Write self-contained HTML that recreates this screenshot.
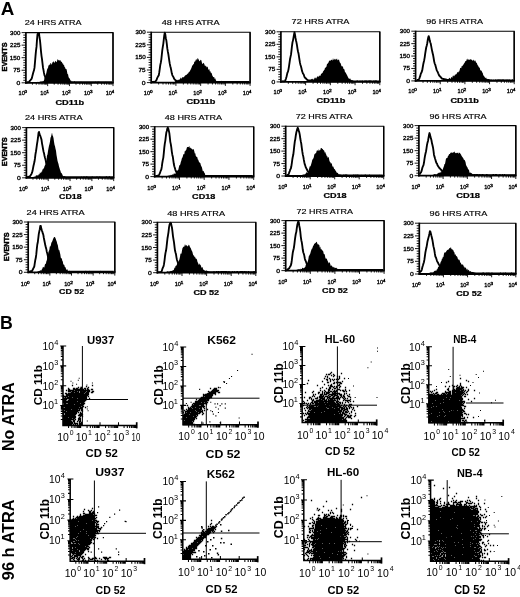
<!DOCTYPE html>
<html><head><meta charset="utf-8"><style>
html,body{margin:0;padding:0;background:#fff;width:520px;height:597px;overflow:hidden}
svg{display:block}
text{font-family:"Liberation Sans",sans-serif;fill:#000}
</style></head><body>
<svg width="520" height="597" viewBox="0 0 520 597" shape-rendering="geometricPrecision" style="filter:blur(0.3px)">
<text x="0.73" y="14.9" font-size="17.44" font-weight="bold" textLength="13.56" lengthAdjust="spacingAndGlyphs">A</text>
<text x="0.12" y="328.7" font-size="18.17" font-weight="bold" textLength="12.79" lengthAdjust="spacingAndGlyphs">B</text>
<path d="M26.5 82.8L26.5 82.54L27 82.51L27.5 82.43L28 82.49L28.5 82.47L29 82.43L29.5 82.49L30 82.4L30.5 82.35L31 82.28L31.5 82.45L32 82.38L32.5 82.43L33 82.21L33.5 82.21L34 82.4L34.5 82.03L35 81.98L35.5 82.04L36 82L36.5 82.16L37 82.19L37.5 81.86L38 82.07L38.5 81.94L39 81.85L39.5 81.95L40 81.59L40.5 81.55L41 81.18L41.5 81.39L42 81.24L42.5 81.33L43 81.15L43.5 80.92L44 80.43L44.5 78.37L45 77.07L45.5 75.95L46 74.23L46.5 72.13L47 69.67L47.5 68.44L48 68.01L48.5 65.27L49 65.46L49.5 64.15L50 64.89L50.5 63.12L51 63.05L51.5 64.87L52 64.06L52.5 61.96L53 62.6L53.5 61.09L54 62.36L54.5 62.95L55 61.39L55.5 60.81L56 61.86L56.5 62.16L57 61.29L57.5 59.37L58 59.41L58.5 60.53L59 59.91L59.5 60.36L60 60.98L60.5 59.86L61 61.98L61.5 61.51L62 62.27L62.5 63.75L63 63.29L63.5 65.25L64 64.76L64.5 67.05L65 67.36L65.5 68.67L66 69.28L66.5 69.11L67 71.4L67.5 74.3L68 73.95L68.5 76.76L69 77.95L69.5 78.21L70 79.27L70.5 80.8L71 80.34L71.5 81.74L72 81.96L72.5 81.76L73 82.11L73.5 82.24L74 82.4L74.5 82.42L75 82.28L75.5 82.38L76 82.27L76.5 82.34L77 82.32L77.5 82.18L78 82.32L78.5 82.29L79 82.21L79.5 82.41L80 82.42L80.5 82.21L81 82.24L81.5 82.4L82 82.42L82.5 82.27L83 82.22L83.5 82.43L84 82.23L84.5 82.25L85 82.33L85.5 82.38L86 82.47L86.5 82.49L87 82.25L87.5 82.44L88 82.33L88.5 82.44L89 82.31L89.5 82.37L90 82.44L90.5 82.48L91 82.35L91.5 82.51L92 82.47L92.5 82.4L93 82.34L93.5 82.4L94 82.48L94.5 82.34L95 82.5L95.5 82.54L96 82.49L96.5 82.46L97 82.54L97.5 82.52L98 82.49L98.5 82.45L99 82.54L99.5 82.5L100 82.4L100.5 82.39L101 82.45L101.5 82.45L102 82.47L102.5 82.56L103 82.58L103.5 82.59L104 82.43L104.5 82.47L105 82.43L105.5 82.6L106 82.49L106.5 82.52L107 82.48L107.5 82.55L108 82.45L108.5 82.6L109 82.53L109.5 82.5L110 82.47L110.5 82.5L111 82.51L111.5 82.5L112 82.48L112 82.8Z" fill="#000"/>
<path d="M26.5 82.2L27 82.2L27.5 82.2L28 82.2L28.5 82.13L29 81.93L29.5 81.41L30 80.61L30.5 80.04L31 79.43L31.5 79.04L32 77.64L32.5 75.38L33 73.56L33.5 71.82L34 70.31L34.5 67.69L35 62.19L35.5 56.11L36 50.64L36.5 46.9L37 39.94L37.5 34.28L38 33.53L38.5 33.1L39 33.1L39.5 37.51L40 40.43L40.5 45.54L41 51.39L41.5 55.85L42 59.02L42.5 63.33L43 67.66L43.5 70.18L44 73.03L44.5 75.23L45 76.25L45.5 78.1L46 79.17L46.5 79.43L47 80.09L47.5 80.23L48 80.9L48.5 80.99L49 81.28L49.5 81.57L50 81.72L50.5 81.8L51 81.61L51.5 81.85L52 81.81L52.5 81.81L53 82.13L53.5 82.2L54 82.2L54.5 82.2L55 82.2L55.5 82.16L56 82.1L56.5 82.2L57 82.16L57.5 82.13L58 82.2L58.5 82.2L59 82.2L59.5 82.19L60 82.2L60.5 82.2L61 82.2L61.5 82.04L62 82.02L62.5 82.2L63 82.02L63.5 82.2L64 82.2L64.5 82.18L65 82.2L65.5 82.01L66 82.08L66.5 82.2L67 82.01L67.5 82.2L68 82.14L68.5 82.08L69 82.03L69.5 82.2L70 82.2L70.5 82.2L71 82.2L71.5 82.2L72 82.2L72.5 82.2L73 82.12L73.5 82.2L74 82.11L74.5 82L75 82.2L75.5 82.2L76 82.11L76.5 82.16L77 82.2L77.5 82.2L78 82.2L78.5 82.2L79 82.2L79.5 82.2L80 82.2L80.5 82.2L81 82.05L81.5 82.2L82 82.2L82.5 82.08L83 82.2L83.5 82.2L84 82.2L84.5 82.2L85 82.2L85.5 82.2L86 82.2L86.5 82.2L87 82.2L87.5 82.2L88 82.12L88.5 82.2L89 82.2L89.5 82.2L90 82.2L90.5 82.13L91 82.2L91.5 82.2L92 82.2L92.5 82.2L93 82.2L93.5 82.19L94 82.2L94.5 82.2L95 82.2L95.5 82.05L96 82.2L96.5 82.2L97 82.2L97.5 82.2L98 82.02L98.5 82.2L99 82.04L99.5 82.2L100 82.1L100.5 82.2L101 82.2L101.5 82.08L102 82.09L102.5 82.2L103 82.2L103.5 82.2L104 82.2L104.5 82.2L105 82.2L105.5 82.2L106 82.05L106.5 82.13L107 82.2L107.5 82.17L108 82.2L108.5 82.2L109 82.2L109.5 82.2L110 82.2L110.5 82.19L111 82.2L111.5 82.2L112 82.2" fill="none" stroke="#000" stroke-width="1.85" stroke-linejoin="round"/>
<path d="M25.9 32.6H113 V82.8" fill="none" stroke="#000" stroke-width="1.1"/>
<path d="M25.9 32.1L25.9 83.7" stroke="#000" stroke-width="1.7"/>
<path d="M25.1 82.8L113.7 82.8" stroke="#000" stroke-width="1.8"/>
<path d="M113 32.6L113 82.8" stroke="#000" stroke-width="1.4"/>
<path d="M21.6 82.8H25.9M23.3 80.29H25.9M23.3 77.78H25.9M23.3 75.27H25.9M23.3 72.76H25.9M21.6 70.25H25.9M23.3 67.74H25.9M23.3 65.23H25.9M23.3 62.72H25.9M23.3 60.21H25.9M21.6 57.7H25.9M23.3 55.19H25.9M23.3 52.68H25.9M23.3 50.17H25.9M23.3 47.66H25.9M21.6 45.15H25.9M23.3 42.64H25.9M23.3 40.13H25.9M23.3 37.62H25.9M23.3 35.11H25.9M21.6 32.6H25.9M32.45 82.8V84.7M36.29 82.8V84.7M39.01 82.8V84.7M41.12 82.8V84.7M42.84 82.8V84.7M44.3 82.8V84.7M45.56 82.8V84.7M46.68 82.8V84.7M47.67 82.8V86.1M54.23 82.8V84.7M58.06 82.8V84.7M60.78 82.8V84.7M62.9 82.8V84.7M64.62 82.8V84.7M66.08 82.8V84.7M67.34 82.8V84.7M68.45 82.8V84.7M69.45 82.8V86.1M76 82.8V84.7M79.84 82.8V84.7M82.56 82.8V84.7M84.67 82.8V84.7M86.39 82.8V84.7M87.85 82.8V84.7M89.11 82.8V84.7M90.23 82.8V84.7M91.22 82.8V86.1M97.78 82.8V84.7M101.61 82.8V84.7M104.33 82.8V84.7M106.45 82.8V84.7M108.17 82.8V84.7M109.63 82.8V84.7M110.89 82.8V84.7M112 82.8V84.7M113 82.8V86.1" stroke="#000" stroke-width="0.9"/>
<text x="16.58" y="84.8" font-size="5.73" font-weight="normal" textLength="3.78" lengthAdjust="spacingAndGlyphs" stroke="#000" stroke-width="0.32">0</text>
<text x="13.27" y="72.25" font-size="5.81" font-weight="normal" textLength="7.09" lengthAdjust="spacingAndGlyphs" stroke="#000" stroke-width="0.32">75</text>
<text x="9.87" y="59.7" font-size="5.73" font-weight="normal" textLength="10.47" lengthAdjust="spacingAndGlyphs" stroke="#000" stroke-width="0.32">150</text>
<text x="10.04" y="47.15" font-size="5.73" font-weight="normal" textLength="10.32" lengthAdjust="spacingAndGlyphs" stroke="#000" stroke-width="0.32">225</text>
<text x="10.12" y="34.6" font-size="5.73" font-weight="normal" textLength="10.22" lengthAdjust="spacingAndGlyphs" stroke="#000" stroke-width="0.32">300</text>
<text x="18.57" y="95.2" font-size="5.73" font-weight="normal" textLength="6.25" lengthAdjust="spacingAndGlyphs" stroke="#000" stroke-width="0.32">10</text>
<text x="24.62" y="93" font-size="3.72" font-weight="normal" textLength="2.56" lengthAdjust="spacingAndGlyphs" stroke="#000" stroke-width="0.32">0</text>
<text x="40.35" y="95.2" font-size="5.73" font-weight="normal" textLength="6.25" lengthAdjust="spacingAndGlyphs" stroke="#000" stroke-width="0.32">10</text>
<text x="46.19" y="93" font-size="3.78" font-weight="normal" textLength="2.84" lengthAdjust="spacingAndGlyphs" stroke="#000" stroke-width="0.32">1</text>
<text x="62.12" y="95.2" font-size="5.73" font-weight="normal" textLength="6.25" lengthAdjust="spacingAndGlyphs" stroke="#000" stroke-width="0.32">10</text>
<text x="68.11" y="93" font-size="3.72" font-weight="normal" textLength="2.69" lengthAdjust="spacingAndGlyphs" stroke="#000" stroke-width="0.32">2</text>
<text x="83.9" y="95.2" font-size="5.73" font-weight="normal" textLength="6.25" lengthAdjust="spacingAndGlyphs" stroke="#000" stroke-width="0.32">10</text>
<text x="89.95" y="93" font-size="3.72" font-weight="normal" textLength="2.58" lengthAdjust="spacingAndGlyphs" stroke="#000" stroke-width="0.32">3</text>
<text x="105.67" y="95.2" font-size="5.73" font-weight="normal" textLength="6.25" lengthAdjust="spacingAndGlyphs" stroke="#000" stroke-width="0.32">10</text>
<text x="111.8" y="93" font-size="3.78" font-weight="normal" textLength="2.43" lengthAdjust="spacingAndGlyphs" stroke="#000" stroke-width="0.32">4</text>
<text x="24.66" y="25.3" font-size="6.73" font-weight="normal" textLength="56.96" lengthAdjust="spacingAndGlyphs" stroke="#000" stroke-width="0.15">24 HRS ATRA</text>
<text x="55.43" y="104.5" font-size="7.31" font-weight="bold" textLength="28.74" lengthAdjust="spacingAndGlyphs" stroke="#000" stroke-width="0.22">CD11b</text>
<text transform="translate(6.8 71.38) rotate(-90)" font-size="7.73" font-weight="bold" textLength="28.97" lengthAdjust="spacingAndGlyphs" stroke="#000" stroke-width="0.45">EVENTS</text>
<path d="M151.8 82.6L151.8 82.35L152.3 82.31L152.8 82.3L153.3 82.38L153.8 82.39L154.3 82.32L154.8 82.33L155.3 82.21L155.8 82.22L156.3 82.23L156.8 82.22L157.3 82.19L157.8 82.29L158.3 82.21L158.8 82.27L159.3 82.07L159.8 82.28L160.3 82.06L160.8 82.26L161.3 82.08L161.8 82.17L162.3 82.14L162.8 82L163.3 82.24L163.8 82.23L164.3 81.97L164.8 82.09L165.3 82.22L165.8 81.95L166.3 81.96L166.8 82.21L167.3 82.12L167.8 82.21L168.3 82.15L168.8 82.06L169.3 82.2L169.8 82.04L170.3 82.23L170.8 82.2L171.3 82L171.8 82.13L172.3 82.12L172.8 82.07L173.3 82.1L173.8 82.13L174.3 82.16L174.8 81.65L175.3 81.18L175.8 80.76L176.3 80.67L176.8 80.72L177.3 80.48L177.8 79.82L178.3 79.6L178.8 80.23L179.3 79.64L179.8 79.04L180.3 78.5L180.8 77.59L181.3 78.07L181.8 78.91L182.3 76.71L182.8 77.4L183.3 77.02L183.8 77.46L184.3 76.53L184.8 76.09L185.3 74.64L185.8 75.8L186.3 74.42L186.8 74.96L187.3 73.18L187.8 74.13L188.3 72.92L188.8 72.22L189.3 71.16L189.8 71.96L190.3 70.09L190.8 69.62L191.3 68.36L191.8 66.92L192.3 65.06L192.8 65.65L193.3 63.64L193.8 64.41L194.3 61.4L194.8 61.69L195.3 61.34L195.8 59.64L196.3 58.83L196.8 60.49L197.3 59.37L197.8 57.82L198.3 59.02L198.8 59.76L199.3 60.89L199.8 61.3L200.3 60.22L200.8 59.76L201.3 60.3L201.8 62.14L202.3 63.9L202.8 63.67L203.3 62.85L203.8 63.13L204.3 64.12L204.8 65.69L205.3 65.56L205.8 66.17L206.3 66.15L206.8 67.43L207.3 66.44L207.8 67.28L208.3 69.61L208.8 69.73L209.3 69.11L209.8 71.54L210.3 70.95L210.8 72.75L211.3 72.8L211.8 73.47L212.3 75.55L212.8 76.36L213.3 77.31L213.8 76.94L214.3 77.32L214.8 79.24L215.3 78.27L215.8 80.01L216.3 80.94L216.8 81.3L217.3 81.31L217.8 81.63L218.3 81.7L218.8 81.68L219.3 81.8L219.8 81.97L220.3 82.12L220.8 82.07L221.3 81.98L221.8 82.02L222.3 82.08L222.8 82.15L223.3 82.15L223.8 82.05L224.3 82.1L224.8 82.26L225.3 82.07L225.8 82.02L226.3 82.05L226.8 82.03L227.3 82.03L227.8 82.14L228.3 82.07L228.8 82.19L229.3 82.27L229.8 82.2L230.3 82.22L230.8 82.07L231.3 82.13L231.8 82.18L232.3 82.16L232.8 82.29L233.3 82.19L233.8 82.16L234.3 82.24L234.8 82.28L235.3 82.24L235.8 82.27L236.3 82.19L236.8 82.32L237.3 82.33L237.8 82.29L238.3 82.22L238.8 82.21L239.3 82.23L239.8 82.19L240.3 82.3L240.8 82.37L241.3 82.29L241.8 82.3L242.3 82.35L242.8 82.27L243.3 82.33L243.8 82.35L244.3 82.34L244.8 82.24L245.3 82.4L245.8 82.35L246.3 82.36L246.8 82.38L247.3 82.34L247.8 82.38L248.3 82.27L248.8 82.34L249.3 82.31L249.3 82.6Z" fill="#000"/>
<path d="M151.8 82L152.3 82L152.8 82L153.3 82L153.8 81.79L154.3 81.78L154.8 81.9L155.3 81.8L155.8 80.94L156.3 80.23L156.8 79.23L157.3 77.81L157.8 76.87L158.3 76.01L158.8 75.18L159.3 72.16L159.8 68.57L160.3 64.86L160.8 62.71L161.3 59.54L161.8 54.95L162.3 50.05L162.8 46.78L163.3 43.82L163.8 39.44L164.3 35.16L164.8 32.7L165.3 34.32L165.8 38.17L166.3 40.2L166.8 43.97L167.3 48.43L167.8 51.39L168.3 53.97L168.8 57.37L169.3 60.78L169.8 63.9L170.3 66.19L170.8 68.1L171.3 70.54L171.8 73.31L172.3 75.08L172.8 76.03L173.3 76.78L173.8 78.02L174.3 79L174.8 79.56L175.3 79.91L175.8 80.64L176.3 80.77L176.8 81.22L177.3 81.45L177.8 81.91L178.3 81.67L178.8 81.43L179.3 81.95L179.8 82L180.3 82L180.8 81.82L181.3 82L181.8 81.88L182.3 81.82L182.8 82L183.3 82L183.8 81.92L184.3 82L184.8 81.81L185.3 81.98L185.8 81.8L186.3 81.9L186.8 81.89L187.3 82L187.8 81.97L188.3 81.91L188.8 81.91L189.3 81.98L189.8 82L190.3 82L190.8 81.86L191.3 82L191.8 82L192.3 82L192.8 82L193.3 82L193.8 82L194.3 82L194.8 82L195.3 82L195.8 82L196.3 82L196.8 82L197.3 82L197.8 82L198.3 81.96L198.8 82L199.3 82L199.8 82L200.3 82L200.8 82L201.3 82L201.8 82L202.3 82L202.8 82L203.3 82L203.8 82L204.3 81.87L204.8 81.83L205.3 81.86L205.8 81.85L206.3 81.83L206.8 81.8L207.3 81.95L207.8 81.86L208.3 82L208.8 82L209.3 82L209.8 82L210.3 82L210.8 82L211.3 81.81L211.8 81.93L212.3 82L212.8 82L213.3 81.92L213.8 82L214.3 82L214.8 82L215.3 81.99L215.8 81.94L216.3 81.85L216.8 82L217.3 82L217.8 82L218.3 82L218.8 82L219.3 82L219.8 81.97L220.3 82L220.8 82L221.3 82L221.8 81.8L222.3 81.93L222.8 82L223.3 82L223.8 82L224.3 82L224.8 82L225.3 82L225.8 82L226.3 82L226.8 82L227.3 81.91L227.8 82L228.3 82L228.8 82L229.3 81.93L229.8 82L230.3 82L230.8 81.87L231.3 82L231.8 82L232.3 82L232.8 81.95L233.3 82L233.8 81.86L234.3 82L234.8 82L235.3 81.9L235.8 82L236.3 82L236.8 82L237.3 82L237.8 81.98L238.3 82L238.8 82L239.3 81.99L239.8 82L240.3 82L240.8 81.9L241.3 82L241.8 81.92L242.3 81.99L242.8 82L243.3 82L243.8 82L244.3 81.97L244.8 82L245.3 82L245.8 82L246.3 82L246.8 82L247.3 81.84L247.8 82L248.3 81.86L248.8 81.95L249.3 82" fill="none" stroke="#000" stroke-width="1.85" stroke-linejoin="round"/>
<path d="M151.2 32.2H250.1 V82.6" fill="none" stroke="#000" stroke-width="1.1"/>
<path d="M151.2 31.7L151.2 83.5" stroke="#000" stroke-width="1.7"/>
<path d="M150.4 82.6L250.8 82.6" stroke="#000" stroke-width="1.8"/>
<path d="M250.1 32.2L250.1 82.6" stroke="#000" stroke-width="1.4"/>
<path d="M146.9 82.6H151.2M148.6 80.08H151.2M148.6 77.56H151.2M148.6 75.04H151.2M148.6 72.52H151.2M146.9 70H151.2M148.6 67.48H151.2M148.6 64.96H151.2M148.6 62.44H151.2M148.6 59.92H151.2M146.9 57.4H151.2M148.6 54.88H151.2M148.6 52.36H151.2M148.6 49.84H151.2M148.6 47.32H151.2M146.9 44.8H151.2M148.6 42.28H151.2M148.6 39.76H151.2M148.6 37.24H151.2M148.6 34.72H151.2M146.9 32.2H151.2M158.64 82.6V84.5M163 82.6V84.5M166.09 82.6V84.5M168.48 82.6V84.5M170.44 82.6V84.5M172.1 82.6V84.5M173.53 82.6V84.5M174.79 82.6V84.5M175.92 82.6V85.9M183.37 82.6V84.5M187.72 82.6V84.5M190.81 82.6V84.5M193.21 82.6V84.5M195.16 82.6V84.5M196.82 82.6V84.5M198.25 82.6V84.5M199.52 82.6V84.5M200.65 82.6V85.9M208.09 82.6V84.5M212.45 82.6V84.5M215.54 82.6V84.5M217.93 82.6V84.5M219.89 82.6V84.5M221.55 82.6V84.5M222.98 82.6V84.5M224.24 82.6V84.5M225.38 82.6V85.9M232.82 82.6V84.5M237.17 82.6V84.5M240.26 82.6V84.5M242.66 82.6V84.5M244.61 82.6V84.5M246.27 82.6V84.5M247.7 82.6V84.5M248.97 82.6V84.5M250.1 82.6V85.9" stroke="#000" stroke-width="0.9"/>
<text x="141.88" y="84.6" font-size="5.73" font-weight="normal" textLength="3.78" lengthAdjust="spacingAndGlyphs" stroke="#000" stroke-width="0.32">0</text>
<text x="138.57" y="72" font-size="5.81" font-weight="normal" textLength="7.09" lengthAdjust="spacingAndGlyphs" stroke="#000" stroke-width="0.32">75</text>
<text x="135.17" y="59.4" font-size="5.73" font-weight="normal" textLength="10.47" lengthAdjust="spacingAndGlyphs" stroke="#000" stroke-width="0.32">150</text>
<text x="135.34" y="46.8" font-size="5.73" font-weight="normal" textLength="10.32" lengthAdjust="spacingAndGlyphs" stroke="#000" stroke-width="0.32">225</text>
<text x="135.42" y="34.2" font-size="5.73" font-weight="normal" textLength="10.22" lengthAdjust="spacingAndGlyphs" stroke="#000" stroke-width="0.32">300</text>
<text x="143.87" y="95" font-size="5.73" font-weight="normal" textLength="6.25" lengthAdjust="spacingAndGlyphs" stroke="#000" stroke-width="0.32">10</text>
<text x="149.92" y="92.8" font-size="3.72" font-weight="normal" textLength="2.56" lengthAdjust="spacingAndGlyphs" stroke="#000" stroke-width="0.32">0</text>
<text x="168.6" y="95" font-size="5.73" font-weight="normal" textLength="6.25" lengthAdjust="spacingAndGlyphs" stroke="#000" stroke-width="0.32">10</text>
<text x="174.44" y="92.8" font-size="3.78" font-weight="normal" textLength="2.84" lengthAdjust="spacingAndGlyphs" stroke="#000" stroke-width="0.32">1</text>
<text x="193.32" y="95" font-size="5.73" font-weight="normal" textLength="6.25" lengthAdjust="spacingAndGlyphs" stroke="#000" stroke-width="0.32">10</text>
<text x="199.31" y="92.8" font-size="3.72" font-weight="normal" textLength="2.69" lengthAdjust="spacingAndGlyphs" stroke="#000" stroke-width="0.32">2</text>
<text x="218.05" y="95" font-size="5.73" font-weight="normal" textLength="6.25" lengthAdjust="spacingAndGlyphs" stroke="#000" stroke-width="0.32">10</text>
<text x="224.1" y="92.8" font-size="3.72" font-weight="normal" textLength="2.58" lengthAdjust="spacingAndGlyphs" stroke="#000" stroke-width="0.32">3</text>
<text x="242.77" y="95" font-size="5.73" font-weight="normal" textLength="6.25" lengthAdjust="spacingAndGlyphs" stroke="#000" stroke-width="0.32">10</text>
<text x="248.9" y="92.8" font-size="3.78" font-weight="normal" textLength="2.43" lengthAdjust="spacingAndGlyphs" stroke="#000" stroke-width="0.32">4</text>
<text x="161.79" y="25" font-size="6.73" font-weight="normal" textLength="57.72" lengthAdjust="spacingAndGlyphs" stroke="#000" stroke-width="0.15">48 HRS ATRA</text>
<text x="186.63" y="103.5" font-size="7.04" font-weight="bold" textLength="28.74" lengthAdjust="spacingAndGlyphs" stroke="#000" stroke-width="0.22">CD11b</text>
<path d="M281.5 81.9L281.5 81.68L282 81.61L282.5 81.6L283 81.56L283.5 81.66L284 81.65L284.5 81.65L285 81.63L285.5 81.52L286 81.63L286.5 81.53L287 81.59L287.5 81.56L288 81.52L288.5 81.4L289 81.45L289.5 81.59L290 81.51L290.5 81.54L291 81.33L291.5 81.33L292 81.33L292.5 81.31L293 81.33L293.5 81.26L294 81.31L294.5 81.47L295 81.29L295.5 81.4L296 81.32L296.5 81.38L297 81.42L297.5 81.44L298 81.42L298.5 81.45L299 81.51L299.5 81.3L300 81.31L300.5 81.25L301 81.34L301.5 81.38L302 81.32L302.5 81.51L303 81.32L303.5 81.35L304 81.4L304.5 81.34L305 81.14L305.5 81.2L306 81.04L306.5 80.9L307 80.98L307.5 81.1L308 80.77L308.5 80.81L309 80.66L309.5 80.54L310 80.18L310.5 80.36L311 79.45L311.5 78.86L312 79.57L312.5 78.96L313 78.44L313.5 79.77L314 79.44L314.5 77.93L315 77.62L315.5 77.84L316 78.8L316.5 78.1L317 76.8L317.5 76.46L318 76.3L318.5 77.34L319 75.38L319.5 76.16L320 75.05L320.5 76.23L321 73.73L321.5 73.89L322 72.75L322.5 73.14L323 71.49L323.5 71.11L324 70.35L324.5 69.84L325 67.8L325.5 67.76L326 67.24L326.5 66.58L327 63.96L327.5 63.95L328 62.68L328.5 62.71L329 60.96L329.5 60.7L330 60.24L330.5 60.99L331 59.67L331.5 59.72L332 60.27L332.5 60.41L333 57.94L333.5 59.96L334 59.45L334.5 59.46L335 58.62L335.5 59.92L336 59.05L336.5 59.39L337 58.37L337.5 60.45L338 59.73L338.5 59.63L339 59.39L339.5 61.61L340 62.76L340.5 62.97L341 64.56L341.5 66.26L342 66.26L342.5 66.15L343 67.1L343.5 69.01L344 68.99L344.5 69.68L345 72.14L345.5 72.19L346 73.29L346.5 74.2L347 75.02L347.5 76.29L348 76.98L348.5 78.56L349 78.18L349.5 79.14L350 78.15L350.5 78.98L351 80.31L351.5 79.75L352 80.64L352.5 80.5L353 80.61L353.5 80.96L354 81.18L354.5 81.28L355 81.5L355.5 81.29L356 81.52L356.5 81.31L357 81.49L357.5 81.47L358 81.45L358.5 81.56L359 81.53L359.5 81.47L360 81.45L360.5 81.34L361 81.31L361.5 81.57L362 81.45L362.5 81.56L363 81.39L363.5 81.52L364 81.38L364.5 81.48L365 81.58L365.5 81.62L366 81.57L366.5 81.43L367 81.6L367.5 81.53L368 81.56L368.5 81.57L369 81.48L369.5 81.61L370 81.51L370.5 81.53L371 81.48L371.5 81.57L372 81.5L372.5 81.6L373 81.58L373.5 81.58L374 81.54L374.5 81.54L375 81.68L375.5 81.68L376 81.62L376.5 81.58L377 81.63L377.5 81.67L378 81.57L378.5 81.67L379 81.71L379 81.9Z" fill="#000"/>
<path d="M281.5 81.3L282 81.3L282.5 81.3L283 81.16L283.5 81.3L284 81.3L284.5 81.29L285 81.1L285.5 80.01L286 78.54L286.5 76.7L287 74.6L287.5 72.59L288 71.66L288.5 69.35L289 66.28L289.5 62.96L290 59.26L290.5 56.84L291 54.64L291.5 50.44L292 45.77L292.5 42.25L293 40.37L293.5 37.6L294 34.73L294.5 32.3L295 34.69L295.5 37.93L296 40.48L296.5 42.62L297 45.44L297.5 48.8L298 51.47L298.5 53.4L299 56.58L299.5 59.92L300 62.9L300.5 64.92L301 66.48L301.5 68.48L302 70.94L302.5 72.27L303 73.54L303.5 74.19L304 75.42L304.5 76.93L305 77.63L305.5 78.33L306 78.5L306.5 79.03L307 79.76L307.5 79.85L308 80.5L308.5 80.52L309 80.43L309.5 80.81L310 80.32L310.5 80.9L311 80.55L311.5 81.05L312 80.72L312.5 80.75L313 81.1L313.5 81.3L314 81.1L314.5 81.3L315 81.3L315.5 81.24L316 81.3L316.5 81.1L317 81.3L317.5 81.3L318 81.3L318.5 81.23L319 81.13L319.5 81.3L320 81.3L320.5 81.3L321 81.3L321.5 81.16L322 81.3L322.5 81.3L323 81.3L323.5 81.3L324 81.3L324.5 81.3L325 81.3L325.5 81.3L326 81.25L326.5 81.18L327 81.3L327.5 81.3L328 81.13L328.5 81.3L329 81.3L329.5 81.3L330 81.3L330.5 81.3L331 81.3L331.5 81.3L332 81.3L332.5 81.3L333 81.3L333.5 81.3L334 81.3L334.5 81.3L335 81.3L335.5 81.3L336 81.3L336.5 81.3L337 81.3L337.5 81.15L338 81.3L338.5 81.3L339 81.3L339.5 81.3L340 81.3L340.5 81.3L341 81.3L341.5 81.3L342 81.3L342.5 81.15L343 81.23L343.5 81.19L344 81.29L344.5 81.28L345 81.3L345.5 81.22L346 81.3L346.5 81.28L347 81.22L347.5 81.3L348 81.15L348.5 81.17L349 81.18L349.5 81.14L350 81.3L350.5 81.23L351 81.19L351.5 81.11L352 81.3L352.5 81.13L353 81.24L353.5 81.3L354 81.3L354.5 81.3L355 81.3L355.5 81.3L356 81.3L356.5 81.3L357 81.19L357.5 81.13L358 81.3L358.5 81.3L359 81.3L359.5 81.3L360 81.2L360.5 81.3L361 81.3L361.5 81.3L362 81.25L362.5 81.27L363 81.3L363.5 81.3L364 81.3L364.5 81.27L365 81.3L365.5 81.16L366 81.3L366.5 81.2L367 81.3L367.5 81.3L368 81.25L368.5 81.3L369 81.23L369.5 81.28L370 81.16L370.5 81.3L371 81.16L371.5 81.3L372 81.3L372.5 81.3L373 81.3L373.5 81.24L374 81.3L374.5 81.3L375 81.1L375.5 81.3L376 81.15L376.5 81.16L377 81.3L377.5 81.3L378 81.3L378.5 81.3L379 81.18" fill="none" stroke="#000" stroke-width="1.85" stroke-linejoin="round"/>
<path d="M280.9 31.8H379.8 V81.9" fill="none" stroke="#000" stroke-width="1.1"/>
<path d="M280.9 31.3L280.9 82.8" stroke="#000" stroke-width="1.7"/>
<path d="M280.1 81.9L380.5 81.9" stroke="#000" stroke-width="1.8"/>
<path d="M379.8 31.8L379.8 81.9" stroke="#000" stroke-width="1.4"/>
<path d="M276.6 81.9H280.9M278.3 79.4H280.9M278.3 76.89H280.9M278.3 74.39H280.9M278.3 71.88H280.9M276.6 69.38H280.9M278.3 66.87H280.9M278.3 64.37H280.9M278.3 61.86H280.9M278.3 59.36H280.9M276.6 56.85H280.9M278.3 54.34H280.9M278.3 51.84H280.9M278.3 49.34H280.9M278.3 46.83H280.9M276.6 44.33H280.9M278.3 41.82H280.9M278.3 39.31H280.9M278.3 36.81H280.9M278.3 34.3H280.9M276.6 31.8H280.9M288.34 81.9V83.8M292.7 81.9V83.8M295.79 81.9V83.8M298.18 81.9V83.8M300.14 81.9V83.8M301.8 81.9V83.8M303.23 81.9V83.8M304.49 81.9V83.8M305.62 81.9V85.2M313.07 81.9V83.8M317.42 81.9V83.8M320.51 81.9V83.8M322.91 81.9V83.8M324.86 81.9V83.8M326.52 81.9V83.8M327.95 81.9V83.8M329.22 81.9V83.8M330.35 81.9V85.2M337.79 81.9V83.8M342.15 81.9V83.8M345.24 81.9V83.8M347.63 81.9V83.8M349.59 81.9V83.8M351.25 81.9V83.8M352.68 81.9V83.8M353.94 81.9V83.8M355.07 81.9V85.2M362.52 81.9V83.8M366.87 81.9V83.8M369.96 81.9V83.8M372.36 81.9V83.8M374.31 81.9V83.8M375.97 81.9V83.8M377.4 81.9V83.8M378.67 81.9V83.8M379.8 81.9V85.2" stroke="#000" stroke-width="0.9"/>
<text x="271.58" y="83.9" font-size="5.73" font-weight="normal" textLength="3.78" lengthAdjust="spacingAndGlyphs" stroke="#000" stroke-width="0.32">0</text>
<text x="268.27" y="71.38" font-size="5.81" font-weight="normal" textLength="7.09" lengthAdjust="spacingAndGlyphs" stroke="#000" stroke-width="0.32">75</text>
<text x="264.87" y="58.85" font-size="5.73" font-weight="normal" textLength="10.47" lengthAdjust="spacingAndGlyphs" stroke="#000" stroke-width="0.32">150</text>
<text x="265.04" y="46.33" font-size="5.73" font-weight="normal" textLength="10.32" lengthAdjust="spacingAndGlyphs" stroke="#000" stroke-width="0.32">225</text>
<text x="265.12" y="33.8" font-size="5.73" font-weight="normal" textLength="10.22" lengthAdjust="spacingAndGlyphs" stroke="#000" stroke-width="0.32">300</text>
<text x="273.57" y="94.3" font-size="5.73" font-weight="normal" textLength="6.25" lengthAdjust="spacingAndGlyphs" stroke="#000" stroke-width="0.32">10</text>
<text x="279.62" y="92.1" font-size="3.72" font-weight="normal" textLength="2.56" lengthAdjust="spacingAndGlyphs" stroke="#000" stroke-width="0.32">0</text>
<text x="298.3" y="94.3" font-size="5.73" font-weight="normal" textLength="6.25" lengthAdjust="spacingAndGlyphs" stroke="#000" stroke-width="0.32">10</text>
<text x="304.14" y="92.1" font-size="3.78" font-weight="normal" textLength="2.84" lengthAdjust="spacingAndGlyphs" stroke="#000" stroke-width="0.32">1</text>
<text x="323.02" y="94.3" font-size="5.73" font-weight="normal" textLength="6.25" lengthAdjust="spacingAndGlyphs" stroke="#000" stroke-width="0.32">10</text>
<text x="329.01" y="92.1" font-size="3.72" font-weight="normal" textLength="2.69" lengthAdjust="spacingAndGlyphs" stroke="#000" stroke-width="0.32">2</text>
<text x="347.75" y="94.3" font-size="5.73" font-weight="normal" textLength="6.25" lengthAdjust="spacingAndGlyphs" stroke="#000" stroke-width="0.32">10</text>
<text x="353.8" y="92.1" font-size="3.72" font-weight="normal" textLength="2.58" lengthAdjust="spacingAndGlyphs" stroke="#000" stroke-width="0.32">3</text>
<text x="372.47" y="94.3" font-size="5.73" font-weight="normal" textLength="6.25" lengthAdjust="spacingAndGlyphs" stroke="#000" stroke-width="0.32">10</text>
<text x="378.6" y="92.1" font-size="3.78" font-weight="normal" textLength="2.43" lengthAdjust="spacingAndGlyphs" stroke="#000" stroke-width="0.32">4</text>
<text x="291.54" y="24.4" font-size="6.87" font-weight="normal" textLength="57.98" lengthAdjust="spacingAndGlyphs" stroke="#000" stroke-width="0.15">72 HRS ATRA</text>
<text x="316.63" y="103.4" font-size="7.18" font-weight="bold" textLength="28.74" lengthAdjust="spacingAndGlyphs" stroke="#000" stroke-width="0.22">CD11b</text>
<path d="M416.2 80.9L416.2 80.7L416.7 80.61L417.2 80.61L417.7 80.55L418.2 80.65L418.7 80.65L419.2 80.55L419.7 80.55L420.2 80.61L420.7 80.52L421.2 80.56L421.7 80.47L422.2 80.6L422.7 80.57L423.2 80.39L423.7 80.51L424.2 80.53L424.7 80.37L425.2 80.41L425.7 80.53L426.2 80.41L426.7 80.37L427.2 80.51L427.7 80.36L428.2 80.52L428.7 80.45L429.2 80.53L429.7 80.49L430.2 80.26L430.7 80.43L431.2 80.26L431.7 80.42L432.2 80.37L432.7 80.29L433.2 80.35L433.7 80.52L434.2 80.38L434.7 80.36L435.2 80.5L435.7 80.52L436.2 80.29L436.7 80.4L437.2 80.49L437.7 80.42L438.2 80.49L438.7 80.31L439.2 80.4L439.7 80.52L440.2 80.31L440.7 80.5L441.2 80.4L441.7 80.45L442.2 80.11L442.7 80.32L443.2 80.06L443.7 80.23L444.2 79.97L444.7 79.81L445.2 79.84L445.7 79.77L446.2 79.59L446.7 79.45L447.2 79.09L447.7 79.45L448.2 78.83L448.7 78.99L449.2 77.97L449.7 77.73L450.2 78.9L450.7 78.57L451.2 77.22L451.7 77.11L452.2 78.06L452.7 76.08L453.2 75.21L453.7 76.23L454.2 76.22L454.7 75.31L455.2 73.91L455.7 74.93L456.2 74.19L456.7 73.84L457.2 72.24L457.7 72.21L458.2 72.38L458.7 71.49L459.2 71.56L459.7 70.03L460.2 67.63L460.7 67.98L461.2 68.25L461.7 65.95L462.2 66.36L462.7 65.53L463.2 65.01L463.7 63.89L464.2 63.21L464.7 62.77L465.2 60.68L465.7 61.51L466.2 60.92L466.7 59.56L467.2 58.53L467.7 60.08L468.2 59.01L468.7 60.03L469.2 59.65L469.7 59.64L470.2 58.88L470.7 59.38L471.2 60.03L471.7 59.32L472.2 60.59L472.7 60.69L473.2 59.47L473.7 60.62L474.2 60.21L474.7 61.42L475.2 60.17L475.7 61.47L476.2 63.13L476.7 62.34L477.2 64.25L477.7 65.16L478.2 65.8L478.7 66.92L479.2 67.65L479.7 67.56L480.2 69.93L480.7 70.5L481.2 70.62L481.7 71.06L482.2 72.44L482.7 72.64L483.2 75.05L483.7 75.71L484.2 76.15L484.7 77.2L485.2 77.47L485.7 78.13L486.2 77.58L486.7 78.99L487.2 78.64L487.7 79.29L488.2 78.93L488.7 79.09L489.2 79.55L489.7 79.24L490.2 79.63L490.7 79.82L491.2 80.18L491.7 79.97L492.2 80.06L492.7 79.96L493.2 79.7L493.7 79.76L494.2 80.22L494.7 79.89L495.2 79.77L495.7 79.99L496.2 80.24L496.7 79.86L497.2 80.1L497.7 79.85L498.2 79.92L498.7 79.97L499.2 79.94L499.7 80.35L500.2 80.05L500.7 80.28L501.2 80.37L501.7 80.29L502.2 80.23L502.7 80.47L503.2 80.32L503.7 80.23L504.2 80.35L504.7 80.36L505.2 80.45L505.7 80.26L506.2 80.5L506.7 80.39L507.2 80.42L507.7 80.61L508.2 80.38L508.7 80.57L509.2 80.42L509.7 80.45L510.2 80.48L510.7 80.51L511.2 80.61L511.7 80.61L512.2 80.64L512.7 80.55L513.2 80.71L513.2 80.9Z" fill="#000"/>
<path d="M416.2 80.05L416.7 80.3L417.2 80.09L417.7 79.84L418.2 79.83L418.7 79.44L419.2 78.95L419.7 77.46L420.2 76.19L420.7 74.1L421.2 72.95L421.7 72.08L422.2 70.54L422.7 67.52L423.2 64.56L423.7 62.21L424.2 60.19L424.7 57.33L425.2 53.63L425.7 50.51L426.2 47.49L426.7 45.78L427.2 43.49L427.7 40.29L428.2 37.64L428.7 36.08L429.2 37.67L429.7 40.35L430.2 42.22L430.7 43.54L431.2 46.08L431.7 48.86L432.2 51.32L432.7 53.42L433.2 55.54L433.7 58.51L434.2 61.61L434.7 63.6L435.2 64.61L435.7 66.51L436.2 68.35L436.7 70.18L437.2 71.12L437.7 71.97L438.2 73.29L438.7 74.38L439.2 75.57L439.7 76.02L440.2 76.62L440.7 76.96L441.2 77.69L441.7 78.49L442.2 78.63L442.7 78.74L443.2 79.08L443.7 78.86L444.2 79.39L444.7 79.14L445.2 79.63L445.7 79.53L446.2 79.43L446.7 79.77L447.2 79.99L447.7 79.99L448.2 80.19L448.7 80.13L449.2 80.3L449.7 80.16L450.2 80.3L450.7 80.12L451.2 80.3L451.7 80.14L452.2 80.18L452.7 80.3L453.2 80.3L453.7 80.29L454.2 80.3L454.7 80.3L455.2 80.3L455.7 80.3L456.2 80.3L456.7 80.3L457.2 80.3L457.7 80.3L458.2 80.3L458.7 80.3L459.2 80.3L459.7 80.11L460.2 80.29L460.7 80.3L461.2 80.21L461.7 80.22L462.2 80.3L462.7 80.17L463.2 80.3L463.7 80.24L464.2 80.3L464.7 80.3L465.2 80.17L465.7 80.3L466.2 80.3L466.7 80.3L467.2 80.3L467.7 80.15L468.2 80.3L468.7 80.3L469.2 80.25L469.7 80.3L470.2 80.23L470.7 80.3L471.2 80.3L471.7 80.3L472.2 80.3L472.7 80.18L473.2 80.3L473.7 80.3L474.2 80.3L474.7 80.15L475.2 80.3L475.7 80.16L476.2 80.3L476.7 80.24L477.2 80.3L477.7 80.17L478.2 80.3L478.7 80.3L479.2 80.3L479.7 80.14L480.2 80.3L480.7 80.3L481.2 80.3L481.7 80.3L482.2 80.3L482.7 80.27L483.2 80.3L483.7 80.3L484.2 80.3L484.7 80.3L485.2 80.13L485.7 80.3L486.2 80.11L486.7 80.14L487.2 80.3L487.7 80.25L488.2 80.17L488.7 80.3L489.2 80.3L489.7 80.3L490.2 80.3L490.7 80.3L491.2 80.21L491.7 80.3L492.2 80.3L492.7 80.3L493.2 80.3L493.7 80.3L494.2 80.3L494.7 80.3L495.2 80.3L495.7 80.19L496.2 80.3L496.7 80.3L497.2 80.3L497.7 80.28L498.2 80.25L498.7 80.28L499.2 80.2L499.7 80.3L500.2 80.17L500.7 80.25L501.2 80.3L501.7 80.23L502.2 80.23L502.7 80.25L503.2 80.24L503.7 80.11L504.2 80.3L504.7 80.3L505.2 80.29L505.7 80.3L506.2 80.3L506.7 80.24L507.2 80.3L507.7 80.24L508.2 80.3L508.7 80.3L509.2 80.1L509.7 80.3L510.2 80.3L510.7 80.3L511.2 80.3L511.7 80.3L512.2 80.25L512.7 80.13L513.2 80.3" fill="none" stroke="#000" stroke-width="1.85" stroke-linejoin="round"/>
<path d="M415.6 31.2H514.2 V80.9" fill="none" stroke="#000" stroke-width="1.1"/>
<path d="M415.6 30.7L415.6 81.8" stroke="#000" stroke-width="1.7"/>
<path d="M414.8 80.9L514.9 80.9" stroke="#000" stroke-width="1.8"/>
<path d="M514.2 31.2L514.2 80.9" stroke="#000" stroke-width="1.4"/>
<path d="M411.3 80.9H415.6M413 78.42H415.6M413 75.93H415.6M413 73.45H415.6M413 70.96H415.6M411.3 68.48H415.6M413 65.99H415.6M413 63.51H415.6M413 61.02H415.6M413 58.54H415.6M411.3 56.05H415.6M413 53.57H415.6M413 51.08H415.6M413 48.6H415.6M413 46.11H415.6M411.3 43.63H415.6M413 41.14H415.6M413 38.66H415.6M413 36.17H415.6M413 33.69H415.6M411.3 31.2H415.6M423.02 80.9V82.8M427.36 80.9V82.8M430.44 80.9V82.8M432.83 80.9V82.8M434.78 80.9V82.8M436.43 80.9V82.8M437.86 80.9V82.8M439.12 80.9V82.8M440.25 80.9V84.2M447.67 80.9V82.8M452.01 80.9V82.8M455.09 80.9V82.8M457.48 80.9V82.8M459.43 80.9V82.8M461.08 80.9V82.8M462.51 80.9V82.8M463.77 80.9V82.8M464.9 80.9V84.2M472.32 80.9V82.8M476.66 80.9V82.8M479.74 80.9V82.8M482.13 80.9V82.8M484.08 80.9V82.8M485.73 80.9V82.8M487.16 80.9V82.8M488.42 80.9V82.8M489.55 80.9V84.2M496.97 80.9V82.8M501.31 80.9V82.8M504.39 80.9V82.8M506.78 80.9V82.8M508.73 80.9V82.8M510.38 80.9V82.8M511.81 80.9V82.8M513.07 80.9V82.8M514.2 80.9V84.2" stroke="#000" stroke-width="0.9"/>
<text x="406.28" y="82.9" font-size="5.73" font-weight="normal" textLength="3.78" lengthAdjust="spacingAndGlyphs" stroke="#000" stroke-width="0.32">0</text>
<text x="402.97" y="70.48" font-size="5.81" font-weight="normal" textLength="7.09" lengthAdjust="spacingAndGlyphs" stroke="#000" stroke-width="0.32">75</text>
<text x="399.57" y="58.05" font-size="5.73" font-weight="normal" textLength="10.47" lengthAdjust="spacingAndGlyphs" stroke="#000" stroke-width="0.32">150</text>
<text x="399.74" y="45.62" font-size="5.73" font-weight="normal" textLength="10.32" lengthAdjust="spacingAndGlyphs" stroke="#000" stroke-width="0.32">225</text>
<text x="399.82" y="33.2" font-size="5.73" font-weight="normal" textLength="10.22" lengthAdjust="spacingAndGlyphs" stroke="#000" stroke-width="0.32">300</text>
<text x="408.27" y="93.3" font-size="5.73" font-weight="normal" textLength="6.25" lengthAdjust="spacingAndGlyphs" stroke="#000" stroke-width="0.32">10</text>
<text x="414.32" y="91.1" font-size="3.72" font-weight="normal" textLength="2.56" lengthAdjust="spacingAndGlyphs" stroke="#000" stroke-width="0.32">0</text>
<text x="432.92" y="93.3" font-size="5.73" font-weight="normal" textLength="6.25" lengthAdjust="spacingAndGlyphs" stroke="#000" stroke-width="0.32">10</text>
<text x="438.76" y="91.1" font-size="3.78" font-weight="normal" textLength="2.84" lengthAdjust="spacingAndGlyphs" stroke="#000" stroke-width="0.32">1</text>
<text x="457.57" y="93.3" font-size="5.73" font-weight="normal" textLength="6.25" lengthAdjust="spacingAndGlyphs" stroke="#000" stroke-width="0.32">10</text>
<text x="463.56" y="91.1" font-size="3.72" font-weight="normal" textLength="2.69" lengthAdjust="spacingAndGlyphs" stroke="#000" stroke-width="0.32">2</text>
<text x="482.22" y="93.3" font-size="5.73" font-weight="normal" textLength="6.25" lengthAdjust="spacingAndGlyphs" stroke="#000" stroke-width="0.32">10</text>
<text x="488.27" y="91.1" font-size="3.72" font-weight="normal" textLength="2.58" lengthAdjust="spacingAndGlyphs" stroke="#000" stroke-width="0.32">3</text>
<text x="506.87" y="93.3" font-size="5.73" font-weight="normal" textLength="6.25" lengthAdjust="spacingAndGlyphs" stroke="#000" stroke-width="0.32">10</text>
<text x="513" y="91.1" font-size="3.78" font-weight="normal" textLength="2.43" lengthAdjust="spacingAndGlyphs" stroke="#000" stroke-width="0.32">4</text>
<text x="426.19" y="24" font-size="7.02" font-weight="normal" textLength="56.93" lengthAdjust="spacingAndGlyphs" stroke="#000" stroke-width="0.15">96 HRS ATRA</text>
<text x="450.43" y="102.6" font-size="7.31" font-weight="bold" textLength="28.44" lengthAdjust="spacingAndGlyphs" stroke="#000" stroke-width="0.22">CD11b</text>
<path d="M27 177.8L27 177.59L27.5 177.48L28 177.46L28.5 177.46L29 177.49L29.5 177.33L30 177.29L30.5 177.34L31 177.32L31.5 177.39L32 177.43L32.5 177.21L33 176.98L33.5 177.09L34 176.45L34.5 176.66L35 176.5L35.5 176.55L36 175.37L36.5 175.54L37 175.15L37.5 175.15L38 175.73L38.5 174.82L39 173.99L39.5 174.42L40 171.97L40.5 172.99L41 173.21L41.5 171.25L42 172.09L42.5 169.15L43 169.38L43.5 168.54L44 168.01L44.5 166.19L45 165.32L45.5 164.39L46 161.3L46.5 160.15L47 155.6L47.5 154.6L48 150.92L48.5 148.14L49 145.67L49.5 143.91L50 141.52L50.5 137.74L51 136.72L51.5 134.75L52 132.57L52.5 135.21L53 136.26L53.5 138.01L54 141.68L54.5 144.64L55 146.32L55.5 148.77L56 150.71L56.5 155.12L57 157.83L57.5 160.69L58 162.56L58.5 164.09L59 166.4L59.5 168.1L60 169.81L60.5 170.9L61 173.05L61.5 172.84L62 173.96L62.5 174.86L63 176.13L63.5 176.29L64 176.27L64.5 176.01L65 176.75L65.5 176.86L66 177.21L66.5 177.41L67 177.43L67.5 177.21L68 177.22L68.5 177.34L69 177.25L69.5 177.26L70 177.19L70.5 177.18L71 177.34L71.5 177.17L72 177.18L72.5 177.29L73 177.21L73.5 177.33L74 177.36L74.5 177.4L75 177.22L75.5 177.43L76 177.46L76.5 177.25L77 177.26L77.5 177.35L78 177.25L78.5 177.47L79 177.42L79.5 177.41L80 177.38L80.5 177.45L81 177.48L81.5 177.41L82 177.27L82.5 177.25L83 177.31L83.5 177.38L84 177.44L84.5 177.27L85 177.38L85.5 177.34L86 177.51L86.5 177.47L87 177.32L87.5 177.34L88 177.32L88.5 177.39L89 177.43L89.5 177.4L90 177.34L90.5 177.47L91 177.42L91.5 177.48L92 177.38L92.5 177.55L93 177.4L93.5 177.35L94 177.55L94.5 177.43L95 177.43L95.5 177.39L96 177.45L96.5 177.51L97 177.49L97.5 177.38L98 177.4L98.5 177.55L99 177.56L99.5 177.56L100 177.58L100.5 177.5L101 177.56L101.5 177.43L102 177.47L102.5 177.57L103 177.5L103.5 177.54L104 177.51L104.5 177.56L105 177.57L105.5 177.57L106 177.54L106.5 177.49L107 177.52L107.5 177.6L108 177.5L108.5 177.47L109 177.49L109.5 177.49L110 177.61L110.5 177.54L111 177.61L111.5 177.5L112 177.59L112.5 177.51L113 177.58L113 177.8Z" fill="#000"/>
<path d="M27 177.2L27.5 177.04L28 176.78L28.5 176.89L29 176.76L29.5 177.05L30 176.32L30.5 175.58L31 174.59L31.5 173.95L32 172.68L32.5 171.05L33 168.34L33.5 165.73L34 163.73L34.5 161.55L35 158.19L35.5 153.98L36 151.24L36.5 147.96L37 144.09L37.5 141.05L38 137.5L38.5 133L39 131.94L39.5 134.12L40 135.29L40.5 136.44L41 138L41.5 139.6L42 143.32L42.5 145.88L43 148.75L43.5 151.45L44 153.18L44.5 155.76L45 157.73L45.5 159.37L46 162.09L46.5 164.02L47 165.97L47.5 168.37L48 170.8L48.5 171.8L49 172.68L49.5 173.69L50 174.59L50.5 175.24L51 175.46L51.5 175.77L52 176.23L52.5 175.99L53 176.52L53.5 176.8L54 177.18L54.5 177.2L55 177.2L55.5 177.2L56 177.2L56.5 177.2L57 177.2L57.5 177.2L58 177.2L58.5 177.15L59 177.2L59.5 177.2L60 177.2L60.5 177.2L61 177.2L61.5 177.2L62 177L62.5 177.19L63 177.19L63.5 177.2L64 177.09L64.5 177.2L65 177.05L65.5 177.18L66 177.2L66.5 177.2L67 177.2L67.5 177.06L68 177.2L68.5 177.2L69 177.12L69.5 177.2L70 177.2L70.5 177.2L71 177.15L71.5 177.2L72 177.19L72.5 177.15L73 177.2L73.5 177.09L74 177.2L74.5 177.12L75 177.2L75.5 177.16L76 177.2L76.5 177.2L77 177.2L77.5 177.2L78 177.2L78.5 177.17L79 177.1L79.5 177.2L80 177.16L80.5 177.11L81 177.2L81.5 177.02L82 177.2L82.5 177.2L83 177.2L83.5 177.01L84 177.2L84.5 177.02L85 177.2L85.5 177.2L86 177.14L86.5 177L87 177.2L87.5 177.05L88 177.18L88.5 177.2L89 177.2L89.5 177.2L90 177.08L90.5 177.2L91 177.2L91.5 177.2L92 177.03L92.5 177.11L93 177.2L93.5 177.2L94 177.13L94.5 177.2L95 177.2L95.5 177.2L96 177.2L96.5 177.01L97 177.2L97.5 177.05L98 177.2L98.5 177.2L99 177.2L99.5 177.11L100 177.03L100.5 177.2L101 177.2L101.5 177.2L102 177.2L102.5 177.2L103 177.2L103.5 177.16L104 177.2L104.5 177.18L105 177.2L105.5 177.2L106 177.04L106.5 177.04L107 177.2L107.5 177.2L108 177.11L108.5 177.16L109 177.03L109.5 177.02L110 177.2L110.5 177.2L111 177.2L111.5 177.09L112 177.06L112.5 177.2L113 177.2" fill="none" stroke="#000" stroke-width="1.85" stroke-linejoin="round"/>
<path d="M26.4 127.6H113.7 V177.8" fill="none" stroke="#000" stroke-width="1.1"/>
<path d="M26.4 127.1L26.4 178.7" stroke="#000" stroke-width="1.7"/>
<path d="M25.6 177.8L114.4 177.8" stroke="#000" stroke-width="1.8"/>
<path d="M113.7 127.6L113.7 177.8" stroke="#000" stroke-width="1.4"/>
<path d="M22.1 177.8H26.4M23.8 175.29H26.4M23.8 172.78H26.4M23.8 170.27H26.4M23.8 167.76H26.4M22.1 165.25H26.4M23.8 162.74H26.4M23.8 160.23H26.4M23.8 157.72H26.4M23.8 155.21H26.4M22.1 152.7H26.4M23.8 150.19H26.4M23.8 147.68H26.4M23.8 145.17H26.4M23.8 142.66H26.4M22.1 140.15H26.4M23.8 137.64H26.4M23.8 135.13H26.4M23.8 132.62H26.4M23.8 130.11H26.4M22.1 127.6H26.4M32.97 177.8V179.7M36.81 177.8V179.7M39.54 177.8V179.7M41.66 177.8V179.7M43.38 177.8V179.7M44.84 177.8V179.7M46.11 177.8V179.7M47.23 177.8V179.7M48.23 177.8V181.1M54.79 177.8V179.7M58.64 177.8V179.7M61.36 177.8V179.7M63.48 177.8V179.7M65.21 177.8V179.7M66.67 177.8V179.7M67.93 177.8V179.7M69.05 177.8V179.7M70.05 177.8V181.1M76.62 177.8V179.7M80.46 177.8V179.7M83.19 177.8V179.7M85.31 177.8V179.7M87.03 177.8V179.7M88.49 177.8V179.7M89.76 177.8V179.7M90.88 177.8V179.7M91.88 177.8V181.1M98.44 177.8V179.7M102.29 177.8V179.7M105.01 177.8V179.7M107.13 177.8V179.7M108.86 177.8V179.7M110.32 177.8V179.7M111.58 177.8V179.7M112.7 177.8V179.7M113.7 177.8V181.1" stroke="#000" stroke-width="0.9"/>
<text x="17.08" y="179.8" font-size="5.73" font-weight="normal" textLength="3.78" lengthAdjust="spacingAndGlyphs" stroke="#000" stroke-width="0.32">0</text>
<text x="13.77" y="167.25" font-size="5.81" font-weight="normal" textLength="7.09" lengthAdjust="spacingAndGlyphs" stroke="#000" stroke-width="0.32">75</text>
<text x="10.37" y="154.7" font-size="5.73" font-weight="normal" textLength="10.47" lengthAdjust="spacingAndGlyphs" stroke="#000" stroke-width="0.32">150</text>
<text x="10.54" y="142.15" font-size="5.73" font-weight="normal" textLength="10.32" lengthAdjust="spacingAndGlyphs" stroke="#000" stroke-width="0.32">225</text>
<text x="10.62" y="129.6" font-size="5.73" font-weight="normal" textLength="10.22" lengthAdjust="spacingAndGlyphs" stroke="#000" stroke-width="0.32">300</text>
<text x="19.07" y="190.9" font-size="5.73" font-weight="normal" textLength="6.25" lengthAdjust="spacingAndGlyphs" stroke="#000" stroke-width="0.32">10</text>
<text x="25.12" y="188.7" font-size="3.72" font-weight="normal" textLength="2.56" lengthAdjust="spacingAndGlyphs" stroke="#000" stroke-width="0.32">0</text>
<text x="40.9" y="190.9" font-size="5.73" font-weight="normal" textLength="6.25" lengthAdjust="spacingAndGlyphs" stroke="#000" stroke-width="0.32">10</text>
<text x="46.74" y="188.7" font-size="3.78" font-weight="normal" textLength="2.84" lengthAdjust="spacingAndGlyphs" stroke="#000" stroke-width="0.32">1</text>
<text x="62.72" y="190.9" font-size="5.73" font-weight="normal" textLength="6.25" lengthAdjust="spacingAndGlyphs" stroke="#000" stroke-width="0.32">10</text>
<text x="68.71" y="188.7" font-size="3.72" font-weight="normal" textLength="2.69" lengthAdjust="spacingAndGlyphs" stroke="#000" stroke-width="0.32">2</text>
<text x="84.55" y="190.9" font-size="5.73" font-weight="normal" textLength="6.25" lengthAdjust="spacingAndGlyphs" stroke="#000" stroke-width="0.32">10</text>
<text x="90.6" y="188.7" font-size="3.72" font-weight="normal" textLength="2.58" lengthAdjust="spacingAndGlyphs" stroke="#000" stroke-width="0.32">3</text>
<text x="106.37" y="190.9" font-size="5.73" font-weight="normal" textLength="6.25" lengthAdjust="spacingAndGlyphs" stroke="#000" stroke-width="0.32">10</text>
<text x="112.5" y="188.7" font-size="3.78" font-weight="normal" textLength="2.43" lengthAdjust="spacingAndGlyphs" stroke="#000" stroke-width="0.32">4</text>
<text x="25.05" y="120.4" font-size="6.87" font-weight="normal" textLength="57.47" lengthAdjust="spacingAndGlyphs" stroke="#000" stroke-width="0.15">24 HRS ATRA</text>
<text x="59.14" y="199.2" font-size="7.45" font-weight="bold" textLength="22.43" lengthAdjust="spacingAndGlyphs" stroke="#000" stroke-width="0.22">CD18</text>
<text transform="translate(7.1 166.18) rotate(-90)" font-size="6.87" font-weight="bold" textLength="28.86" lengthAdjust="spacingAndGlyphs" stroke="#000" stroke-width="0.45">EVENTS</text>
<path d="M155.3 176.6L155.3 176.28L155.8 176.4L156.3 176.42L156.8 176.28L157.3 176.4L157.8 176.41L158.3 176.33L158.8 176.37L159.3 176.29L159.8 176.39L160.3 176.28L160.8 176.38L161.3 176.34L161.8 176.29L162.3 176.32L162.8 176.29L163.3 176.32L163.8 176.42L164.3 176.29L164.8 176.34L165.3 176.38L165.8 176.38L166.3 176.19L166.8 176.15L167.3 175.93L167.8 175.84L168.3 175.61L168.8 175.66L169.3 175.45L169.8 175.37L170.3 175.52L170.8 174.87L171.3 175.32L171.8 174.84L172.3 174.45L172.8 174.48L173.3 174.82L173.8 173.48L174.3 173.36L174.8 173.98L175.3 174.09L175.8 172.79L176.3 173.38L176.8 170.48L177.3 170.75L177.8 170.19L178.3 169.68L178.8 167.53L179.3 165.18L179.8 165.32L180.3 164.16L180.8 161.95L181.3 160.75L181.8 158.62L182.3 157.8L182.8 156.52L183.3 154.42L183.8 153.93L184.3 154.2L184.8 150.93L185.3 151.33L185.8 150.22L186.3 149.75L186.8 147.86L187.3 146.95L187.8 147.12L188.3 146.68L188.8 147.22L189.3 145.67L189.8 147.9L190.3 147.5L190.8 148.37L191.3 148.6L191.8 148.66L192.3 149.22L192.8 149.72L193.3 148.92L193.8 149.47L194.3 151.26L194.8 153.51L195.3 153.14L195.8 156.11L196.3 156.85L196.8 156.87L197.3 157.34L197.8 159.49L198.3 159.71L198.8 161.55L199.3 162.13L199.8 162.84L200.3 163.1L200.8 164.88L201.3 166.3L201.8 167.01L202.3 169.02L202.8 171.17L203.3 170.75L203.8 171.39L204.3 172.83L204.8 173.28L205.3 175.27L205.8 175.12L206.3 175.15L206.8 175.56L207.3 175.84L207.8 175.78L208.3 176.05L208.8 176.17L209.3 176.24L209.8 175.97L210.3 176.15L210.8 176.22L211.3 176.19L211.8 176.18L212.3 176.01L212.8 176.21L213.3 176.18L213.8 176.24L214.3 176.13L214.8 176.21L215.3 176.17L215.8 176.06L216.3 176.01L216.8 176.04L217.3 176.26L217.8 176.17L218.3 176.05L218.8 176.27L219.3 176.23L219.8 176.15L220.3 176.18L220.8 176.09L221.3 176.1L221.8 176.17L222.3 176.23L222.8 176.24L223.3 176.23L223.8 176.29L224.3 176.14L224.8 176.27L225.3 176.09L225.8 176.15L226.3 176.3L226.8 176.2L227.3 176.17L227.8 176.31L228.3 176.21L228.8 176.32L229.3 176.15L229.8 176.33L230.3 176.19L230.8 176.11L231.3 176.15L231.8 176.29L232.3 176.23L232.8 176.32L233.3 176.27L233.8 176.17L234.3 176.18L234.8 176.35L235.3 176.28L235.8 176.23L236.3 176.33L236.8 176.2L237.3 176.19L237.8 176.26L238.3 176.3L238.8 176.21L239.3 176.28L239.8 176.34L240.3 176.33L240.8 176.35L241.3 176.23L241.8 176.3L242.3 176.26L242.8 176.25L243.3 176.22L243.8 176.36L244.3 176.33L244.8 176.25L245.3 176.27L245.8 176.34L246.3 176.3L246.8 176.37L247.3 176.38L247.8 176.4L248.3 176.35L248.8 176.38L249.3 176.33L249.8 176.26L250.3 176.39L250.8 176.33L251.3 176.29L251.8 176.33L252.3 176.34L252.8 176.31L252.8 176.6Z" fill="#000"/>
<path d="M155.3 176L155.8 176L156.3 176L156.8 176L157.3 176L157.8 175.53L158.3 175.4L158.8 175.23L159.3 174.47L159.8 173.4L160.3 171.99L160.8 170.55L161.3 169.61L161.8 166.88L162.3 162.98L162.8 160.18L163.3 157.86L163.8 153.1L164.3 147.61L164.8 143.57L165.3 140.85L165.8 136.59L166.3 132.85L166.8 130.96L167.3 128.71L167.8 127.49L168.3 128.7L168.8 130.71L169.3 132.9L169.8 137.22L170.3 141.84L170.8 144.15L171.3 147.37L171.8 151.54L172.3 154.71L172.8 156.73L173.3 160.4L173.8 163.8L174.3 166.22L174.8 167.71L175.3 169.61L175.8 171.04L176.3 171.9L176.8 173.23L177.3 174.06L177.8 174.76L178.3 174.93L178.8 175.1L179.3 175.28L179.8 175.34L180.3 175.45L180.8 176L181.3 176L181.8 175.85L182.3 176L182.8 176L183.3 176L183.8 175.84L184.3 176L184.8 176L185.3 176L185.8 176L186.3 176L186.8 176L187.3 175.83L187.8 176L188.3 176L188.8 176L189.3 176L189.8 175.97L190.3 175.81L190.8 175.85L191.3 175.89L191.8 176L192.3 176L192.8 175.93L193.3 176L193.8 176L194.3 176L194.8 175.81L195.3 176L195.8 176L196.3 175.98L196.8 175.94L197.3 176L197.8 176L198.3 176L198.8 176L199.3 176L199.8 175.91L200.3 176L200.8 176L201.3 176L201.8 176L202.3 175.96L202.8 176L203.3 176L203.8 175.94L204.3 176L204.8 176L205.3 176L205.8 176L206.3 175.95L206.8 176L207.3 176L207.8 176L208.3 176L208.8 176L209.3 176L209.8 175.94L210.3 176L210.8 175.88L211.3 176L211.8 175.83L212.3 176L212.8 175.99L213.3 176L213.8 175.88L214.3 176L214.8 176L215.3 175.94L215.8 175.88L216.3 176L216.8 176L217.3 175.96L217.8 175.81L218.3 176L218.8 176L219.3 175.9L219.8 176L220.3 176L220.8 175.9L221.3 175.86L221.8 176L222.3 176L222.8 175.91L223.3 175.85L223.8 176L224.3 175.95L224.8 176L225.3 176L225.8 176L226.3 176L226.8 175.94L227.3 175.91L227.8 176L228.3 175.83L228.8 175.87L229.3 175.84L229.8 176L230.3 176L230.8 176L231.3 176L231.8 176L232.3 176L232.8 176L233.3 175.94L233.8 176L234.3 176L234.8 175.83L235.3 176L235.8 176L236.3 175.89L236.8 176L237.3 176L237.8 176L238.3 176L238.8 176L239.3 176L239.8 175.9L240.3 176L240.8 176L241.3 176L241.8 176L242.3 175.85L242.8 176L243.3 176L243.8 176L244.3 175.97L244.8 176L245.3 176L245.8 175.9L246.3 175.97L246.8 176L247.3 175.83L247.8 176L248.3 175.99L248.8 176L249.3 176L249.8 175.9L250.3 175.81L250.8 175.87L251.3 175.96L251.8 176L252.3 176L252.8 176" fill="none" stroke="#000" stroke-width="1.85" stroke-linejoin="round"/>
<path d="M154.7 126.7H253.7 V176.6" fill="none" stroke="#000" stroke-width="1.1"/>
<path d="M154.7 126.2L154.7 177.5" stroke="#000" stroke-width="1.7"/>
<path d="M153.9 176.6L254.4 176.6" stroke="#000" stroke-width="1.8"/>
<path d="M253.7 126.7L253.7 176.6" stroke="#000" stroke-width="1.4"/>
<path d="M150.4 176.6H154.7M152.1 174.1H154.7M152.1 171.61H154.7M152.1 169.12H154.7M152.1 166.62H154.7M150.4 164.12H154.7M152.1 161.63H154.7M152.1 159.13H154.7M152.1 156.64H154.7M152.1 154.15H154.7M150.4 151.65H154.7M152.1 149.16H154.7M152.1 146.66H154.7M152.1 144.16H154.7M152.1 141.67H154.7M150.4 139.18H154.7M152.1 136.68H154.7M152.1 134.19H154.7M152.1 131.69H154.7M152.1 129.19H154.7M150.4 126.7H154.7M162.15 176.6V178.5M166.51 176.6V178.5M169.6 176.6V178.5M172 176.6V178.5M173.96 176.6V178.5M175.62 176.6V178.5M177.05 176.6V178.5M178.32 176.6V178.5M179.45 176.6V179.9M186.9 176.6V178.5M191.26 176.6V178.5M194.35 176.6V178.5M196.75 176.6V178.5M198.71 176.6V178.5M200.37 176.6V178.5M201.8 176.6V178.5M203.07 176.6V178.5M204.2 176.6V179.9M211.65 176.6V178.5M216.01 176.6V178.5M219.1 176.6V178.5M221.5 176.6V178.5M223.46 176.6V178.5M225.12 176.6V178.5M226.55 176.6V178.5M227.82 176.6V178.5M228.95 176.6V179.9M236.4 176.6V178.5M240.76 176.6V178.5M243.85 176.6V178.5M246.25 176.6V178.5M248.21 176.6V178.5M249.87 176.6V178.5M251.3 176.6V178.5M252.57 176.6V178.5M253.7 176.6V179.9" stroke="#000" stroke-width="0.9"/>
<text x="145.38" y="178.6" font-size="5.73" font-weight="normal" textLength="3.78" lengthAdjust="spacingAndGlyphs" stroke="#000" stroke-width="0.32">0</text>
<text x="142.07" y="166.12" font-size="5.81" font-weight="normal" textLength="7.09" lengthAdjust="spacingAndGlyphs" stroke="#000" stroke-width="0.32">75</text>
<text x="138.67" y="153.65" font-size="5.73" font-weight="normal" textLength="10.47" lengthAdjust="spacingAndGlyphs" stroke="#000" stroke-width="0.32">150</text>
<text x="138.84" y="141.18" font-size="5.73" font-weight="normal" textLength="10.32" lengthAdjust="spacingAndGlyphs" stroke="#000" stroke-width="0.32">225</text>
<text x="138.92" y="128.7" font-size="5.73" font-weight="normal" textLength="10.22" lengthAdjust="spacingAndGlyphs" stroke="#000" stroke-width="0.32">300</text>
<text x="147.37" y="189.7" font-size="5.73" font-weight="normal" textLength="6.25" lengthAdjust="spacingAndGlyphs" stroke="#000" stroke-width="0.32">10</text>
<text x="153.42" y="187.5" font-size="3.72" font-weight="normal" textLength="2.56" lengthAdjust="spacingAndGlyphs" stroke="#000" stroke-width="0.32">0</text>
<text x="172.12" y="189.7" font-size="5.73" font-weight="normal" textLength="6.25" lengthAdjust="spacingAndGlyphs" stroke="#000" stroke-width="0.32">10</text>
<text x="177.96" y="187.5" font-size="3.78" font-weight="normal" textLength="2.84" lengthAdjust="spacingAndGlyphs" stroke="#000" stroke-width="0.32">1</text>
<text x="196.87" y="189.7" font-size="5.73" font-weight="normal" textLength="6.25" lengthAdjust="spacingAndGlyphs" stroke="#000" stroke-width="0.32">10</text>
<text x="202.86" y="187.5" font-size="3.72" font-weight="normal" textLength="2.69" lengthAdjust="spacingAndGlyphs" stroke="#000" stroke-width="0.32">2</text>
<text x="221.62" y="189.7" font-size="5.73" font-weight="normal" textLength="6.25" lengthAdjust="spacingAndGlyphs" stroke="#000" stroke-width="0.32">10</text>
<text x="227.67" y="187.5" font-size="3.72" font-weight="normal" textLength="2.58" lengthAdjust="spacingAndGlyphs" stroke="#000" stroke-width="0.32">3</text>
<text x="246.37" y="189.7" font-size="5.73" font-weight="normal" textLength="6.25" lengthAdjust="spacingAndGlyphs" stroke="#000" stroke-width="0.32">10</text>
<text x="252.5" y="187.5" font-size="3.78" font-weight="normal" textLength="2.43" lengthAdjust="spacingAndGlyphs" stroke="#000" stroke-width="0.32">4</text>
<text x="164.8" y="120" font-size="7.02" font-weight="normal" textLength="57.22" lengthAdjust="spacingAndGlyphs" stroke="#000" stroke-width="0.15">48 HRS ATRA</text>
<text x="192.13" y="198.8" font-size="7.16" font-weight="bold" textLength="23.15" lengthAdjust="spacingAndGlyphs" stroke="#000" stroke-width="0.22">CD18</text>
<path d="M286.3 176L286.3 175.69L286.8 175.68L287.3 175.69L287.8 175.81L288.3 175.74L288.8 175.76L289.3 175.75L289.8 175.81L290.3 175.8L290.8 175.76L291.3 175.79L291.8 175.76L292.3 175.82L292.8 175.81L293.3 175.72L293.8 175.76L294.3 175.75L294.8 175.72L295.3 175.77L295.8 175.82L296.3 175.71L296.8 175.74L297.3 175.73L297.8 175.73L298.3 175.68L298.8 175.77L299.3 175.69L299.8 175.67L300.3 175.51L300.8 175.33L301.3 175.32L301.8 175.3L302.3 174.93L302.8 174.61L303.3 174.57L303.8 174.59L304.3 174.26L304.8 174.44L305.3 174.09L305.8 173.43L306.3 171.97L306.8 172.84L307.3 172.68L307.8 172.43L308.3 171.79L308.8 170.09L309.3 168.08L309.8 166.3L310.3 166.61L310.8 165.51L311.3 163.82L311.8 161.89L312.3 159.7L312.8 159.19L313.3 158.42L313.8 157.25L314.3 154.4L314.8 153.94L315.3 153.08L315.8 153.73L316.3 152.17L316.8 150.57L317.3 150.88L317.8 149.79L318.3 151.3L318.8 149.05L319.3 151.03L319.8 149.75L320.3 150.21L320.8 147.95L321.3 148.33L321.8 148.06L322.3 148.97L322.8 149.11L323.3 150.45L323.8 149.74L324.3 150.95L324.8 152.69L325.3 151.9L325.8 153.83L326.3 154.87L326.8 156.14L327.3 156.37L327.8 158.07L328.3 157L328.8 157.61L329.3 160.36L329.8 161.8L330.3 161.89L330.8 163.59L331.3 163.27L331.8 163.52L332.3 166L332.8 166.71L333.3 166.38L333.8 168.06L334.3 169.24L334.8 169.07L335.3 170.35L335.8 170.94L336.3 171.78L336.8 172.76L337.3 172.7L337.8 173.06L338.3 173.83L338.8 174.61L339.3 174.71L339.8 174.72L340.3 174.59L340.8 174.92L341.3 175.1L341.8 175.15L342.3 175.55L342.8 175.46L343.3 175.55L343.8 175.49L344.3 175.41L344.8 175.58L345.3 175.38L345.8 175.64L346.3 175.5L346.8 175.51L347.3 175.6L347.8 175.5L348.3 175.53L348.8 175.54L349.3 175.47L349.8 175.67L350.3 175.57L350.8 175.46L351.3 175.64L351.8 175.44L352.3 175.63L352.8 175.5L353.3 175.64L353.8 175.57L354.3 175.58L354.8 175.67L355.3 175.51L355.8 175.58L356.3 175.53L356.8 175.57L357.3 175.57L357.8 175.58L358.3 175.64L358.8 175.49L359.3 175.7L359.8 175.51L360.3 175.52L360.8 175.61L361.3 175.55L361.8 175.58L362.3 175.6L362.8 175.67L363.3 175.67L363.8 175.66L364.3 175.68L364.8 175.54L365.3 175.68L365.8 175.67L366.3 175.67L366.8 175.59L367.3 175.66L367.8 175.65L368.3 175.71L368.8 175.71L369.3 175.75L369.8 175.73L370.3 175.73L370.8 175.62L371.3 175.69L371.8 175.76L372.3 175.7L372.8 175.77L373.3 175.69L373.8 175.71L374.3 175.64L374.8 175.75L375.3 175.65L375.8 175.76L376.3 175.64L376.8 175.7L377.3 175.8L377.8 175.68L378.3 175.77L378.8 175.75L379.3 175.79L379.8 175.68L380.3 175.8L380.8 175.7L381.3 175.76L381.8 175.72L382.3 175.78L382.8 175.81L382.8 176Z" fill="#000"/>
<path d="M286.3 175.4L286.8 175.4L287.3 174.88L287.8 175.04L288.3 174.78L288.8 173.62L289.3 172.22L289.8 171.02L290.3 169.33L290.8 168.73L291.3 166.52L291.8 163.29L292.3 159.5L292.8 156.68L293.3 154.53L293.8 150.4L294.3 145.57L294.8 141.55L295.3 139.12L295.8 135.48L296.3 132.6L296.8 130.66L297.3 128.8L297.8 127.73L298.3 129.27L298.8 130.89L299.3 132.32L299.8 134.92L300.3 138.52L300.8 141.43L301.3 143.81L301.8 147.77L302.3 151.48L302.8 154.64L303.3 156.64L303.8 159.66L304.3 162.24L304.8 164.45L305.3 165.77L305.8 167.43L306.3 168.36L306.8 169.25L307.3 170.26L307.8 171.24L308.3 171.86L308.8 172.05L309.3 172.68L309.8 173.11L310.3 173.88L310.8 174.38L311.3 174.75L311.8 174.71L312.3 174.74L312.8 174.78L313.3 174.98L313.8 175.34L314.3 175.33L314.8 175.26L315.3 175.4L315.8 175.4L316.3 175.4L316.8 175.4L317.3 175.4L317.8 175.4L318.3 175.4L318.8 175.4L319.3 175.4L319.8 175.4L320.3 175.4L320.8 175.24L321.3 175.4L321.8 175.4L322.3 175.4L322.8 175.24L323.3 175.22L323.8 175.4L324.3 175.4L324.8 175.4L325.3 175.4L325.8 175.4L326.3 175.37L326.8 175.3L327.3 175.4L327.8 175.24L328.3 175.4L328.8 175.4L329.3 175.4L329.8 175.27L330.3 175.24L330.8 175.4L331.3 175.29L331.8 175.4L332.3 175.39L332.8 175.4L333.3 175.4L333.8 175.4L334.3 175.4L334.8 175.32L335.3 175.4L335.8 175.4L336.3 175.36L336.8 175.37L337.3 175.4L337.8 175.4L338.3 175.4L338.8 175.38L339.3 175.4L339.8 175.22L340.3 175.4L340.8 175.4L341.3 175.4L341.8 175.29L342.3 175.4L342.8 175.4L343.3 175.4L343.8 175.27L344.3 175.4L344.8 175.4L345.3 175.27L345.8 175.4L346.3 175.25L346.8 175.25L347.3 175.4L347.8 175.4L348.3 175.4L348.8 175.4L349.3 175.4L349.8 175.37L350.3 175.4L350.8 175.4L351.3 175.4L351.8 175.4L352.3 175.32L352.8 175.4L353.3 175.4L353.8 175.24L354.3 175.4L354.8 175.31L355.3 175.33L355.8 175.24L356.3 175.4L356.8 175.29L357.3 175.4L357.8 175.2L358.3 175.4L358.8 175.4L359.3 175.4L359.8 175.4L360.3 175.4L360.8 175.4L361.3 175.29L361.8 175.4L362.3 175.4L362.8 175.4L363.3 175.4L363.8 175.4L364.3 175.4L364.8 175.4L365.3 175.25L365.8 175.4L366.3 175.4L366.8 175.4L367.3 175.4L367.8 175.33L368.3 175.4L368.8 175.4L369.3 175.29L369.8 175.29L370.3 175.4L370.8 175.4L371.3 175.4L371.8 175.4L372.3 175.4L372.8 175.4L373.3 175.4L373.8 175.4L374.3 175.4L374.8 175.4L375.3 175.4L375.8 175.4L376.3 175.36L376.8 175.4L377.3 175.4L377.8 175.4L378.3 175.4L378.8 175.4L379.3 175.28L379.8 175.4L380.3 175.4L380.8 175.33L381.3 175.4L381.8 175.4L382.3 175.4L382.8 175.26" fill="none" stroke="#000" stroke-width="1.85" stroke-linejoin="round"/>
<path d="M285.7 126.2H383.7 V176" fill="none" stroke="#000" stroke-width="1.1"/>
<path d="M285.7 125.7L285.7 176.9" stroke="#000" stroke-width="1.7"/>
<path d="M284.9 176L384.4 176" stroke="#000" stroke-width="1.8"/>
<path d="M383.7 126.2L383.7 176" stroke="#000" stroke-width="1.4"/>
<path d="M281.4 176H285.7M283.1 173.51H285.7M283.1 171.02H285.7M283.1 168.53H285.7M283.1 166.04H285.7M281.4 163.55H285.7M283.1 161.06H285.7M283.1 158.57H285.7M283.1 156.08H285.7M283.1 153.59H285.7M281.4 151.1H285.7M283.1 148.61H285.7M283.1 146.12H285.7M283.1 143.63H285.7M283.1 141.14H285.7M281.4 138.65H285.7M283.1 136.16H285.7M283.1 133.67H285.7M283.1 131.18H285.7M283.1 128.69H285.7M281.4 126.2H285.7M293.08 176V177.9M297.39 176V177.9M300.45 176V177.9M302.82 176V177.9M304.76 176V177.9M306.4 176V177.9M307.83 176V177.9M309.08 176V177.9M310.2 176V179.3M317.58 176V177.9M321.89 176V177.9M324.95 176V177.9M327.32 176V177.9M329.26 176V177.9M330.9 176V177.9M332.33 176V177.9M333.58 176V177.9M334.7 176V179.3M342.08 176V177.9M346.39 176V177.9M349.45 176V177.9M351.82 176V177.9M353.76 176V177.9M355.4 176V177.9M356.83 176V177.9M358.08 176V177.9M359.2 176V179.3M366.58 176V177.9M370.89 176V177.9M373.95 176V177.9M376.32 176V177.9M378.26 176V177.9M379.9 176V177.9M381.33 176V177.9M382.58 176V177.9M383.7 176V179.3" stroke="#000" stroke-width="0.9"/>
<text x="276.38" y="178" font-size="5.73" font-weight="normal" textLength="3.78" lengthAdjust="spacingAndGlyphs" stroke="#000" stroke-width="0.32">0</text>
<text x="273.07" y="165.55" font-size="5.81" font-weight="normal" textLength="7.09" lengthAdjust="spacingAndGlyphs" stroke="#000" stroke-width="0.32">75</text>
<text x="269.67" y="153.1" font-size="5.73" font-weight="normal" textLength="10.47" lengthAdjust="spacingAndGlyphs" stroke="#000" stroke-width="0.32">150</text>
<text x="269.84" y="140.65" font-size="5.73" font-weight="normal" textLength="10.32" lengthAdjust="spacingAndGlyphs" stroke="#000" stroke-width="0.32">225</text>
<text x="269.92" y="128.2" font-size="5.73" font-weight="normal" textLength="10.22" lengthAdjust="spacingAndGlyphs" stroke="#000" stroke-width="0.32">300</text>
<text x="278.37" y="189.1" font-size="5.73" font-weight="normal" textLength="6.25" lengthAdjust="spacingAndGlyphs" stroke="#000" stroke-width="0.32">10</text>
<text x="284.42" y="186.9" font-size="3.72" font-weight="normal" textLength="2.56" lengthAdjust="spacingAndGlyphs" stroke="#000" stroke-width="0.32">0</text>
<text x="302.87" y="189.1" font-size="5.73" font-weight="normal" textLength="6.25" lengthAdjust="spacingAndGlyphs" stroke="#000" stroke-width="0.32">10</text>
<text x="308.71" y="186.9" font-size="3.78" font-weight="normal" textLength="2.84" lengthAdjust="spacingAndGlyphs" stroke="#000" stroke-width="0.32">1</text>
<text x="327.37" y="189.1" font-size="5.73" font-weight="normal" textLength="6.25" lengthAdjust="spacingAndGlyphs" stroke="#000" stroke-width="0.32">10</text>
<text x="333.36" y="186.9" font-size="3.72" font-weight="normal" textLength="2.69" lengthAdjust="spacingAndGlyphs" stroke="#000" stroke-width="0.32">2</text>
<text x="351.87" y="189.1" font-size="5.73" font-weight="normal" textLength="6.25" lengthAdjust="spacingAndGlyphs" stroke="#000" stroke-width="0.32">10</text>
<text x="357.92" y="186.9" font-size="3.72" font-weight="normal" textLength="2.58" lengthAdjust="spacingAndGlyphs" stroke="#000" stroke-width="0.32">3</text>
<text x="376.37" y="189.1" font-size="5.73" font-weight="normal" textLength="6.25" lengthAdjust="spacingAndGlyphs" stroke="#000" stroke-width="0.32">10</text>
<text x="382.5" y="186.9" font-size="3.78" font-weight="normal" textLength="2.43" lengthAdjust="spacingAndGlyphs" stroke="#000" stroke-width="0.32">4</text>
<text x="295.85" y="119.2" font-size="6.87" font-weight="normal" textLength="56.67" lengthAdjust="spacingAndGlyphs" stroke="#000" stroke-width="0.15">72 HRS ATRA</text>
<text x="323.43" y="198" font-size="7.59" font-weight="bold" textLength="23.15" lengthAdjust="spacingAndGlyphs" stroke="#000" stroke-width="0.22">CD18</text>
<path d="M419.5 175.7L419.5 175.42L420 175.4L420.5 175.5L421 175.37L421.5 175.5L422 175.42L422.5 175.51L423 175.41L423.5 175.5L424 175.42L424.5 175.42L425 175.41L425.5 175.46L426 175.39L426.5 175.38L427 175.51L427.5 175.45L428 175.38L428.5 175.41L429 175.46L429.5 175.48L430 175.32L430.5 175.42L431 175.16L431.5 175L432 175.15L432.5 174.96L433 174.86L433.5 174.6L434 174.6L434.5 174.09L435 173.96L435.5 174.4L436 173.81L436.5 174.49L437 174.35L437.5 173.56L438 173.17L438.5 172.91L439 172.42L439.5 172.4L440 173.24L440.5 172.3L441 171.49L441.5 172.46L442 170.38L442.5 169.97L443 168.86L443.5 167.16L444 166.01L444.5 163.91L445 164.06L445.5 161.22L446 158.52L446.5 158.3L447 158.09L447.5 157.76L448 155.76L448.5 155.75L449 154.29L449.5 153.94L450 154.08L450.5 152.58L451 153.09L451.5 152.71L452 151.75L452.5 153.02L453 153.05L453.5 152.01L454 152.33L454.5 151.34L455 152.93L455.5 152.74L456 153.59L456.5 152.73L457 153.12L457.5 152.91L458 152.32L458.5 154.26L459 152.18L459.5 153.01L460 152.89L460.5 153.93L461 154.51L461.5 155.7L462 156.44L462.5 157.33L463 157.81L463.5 158.86L464 159.95L464.5 159.69L465 160.77L465.5 161.92L466 164.8L466.5 165.91L467 166.83L467.5 167.59L468 168.91L468.5 169.41L469 169.93L469.5 172.49L470 172.89L470.5 172.37L471 173.29L471.5 172.89L472 173.61L472.5 174.29L473 173.97L473.5 174.52L474 173.96L474.5 174L475 174.38L475.5 174.25L476 174.85L476.5 174.85L477 175.1L477.5 175.25L478 175.06L478.5 175.33L479 175.07L479.5 175.19L480 175.15L480.5 175.34L481 175.09L481.5 175.13L482 175.33L482.5 175.31L483 175.32L483.5 175.22L484 175.35L484.5 175.14L485 175.23L485.5 175.18L486 175.31L486.5 175.2L487 175.26L487.5 175.21L488 175.28L488.5 175.12L489 175.17L489.5 175.17L490 175.31L490.5 175.35L491 175.36L491.5 175.37L492 175.16L492.5 175.34L493 175.2L493.5 175.36L494 175.27L494.5 175.36L495 175.35L495.5 175.25L496 175.29L496.5 175.22L497 175.38L497.5 175.38L498 175.43L498.5 175.4L499 175.24L499.5 175.33L500 175.35L500.5 175.39L501 175.3L501.5 175.32L502 175.44L502.5 175.46L503 175.44L503.5 175.32L504 175.34L504.5 175.44L505 175.44L505.5 175.43L506 175.36L506.5 175.36L507 175.45L507.5 175.44L508 175.46L508.5 175.34L509 175.41L509.5 175.35L510 175.47L510.5 175.4L511 175.42L511.5 175.36L512 175.46L512.5 175.48L513 175.39L513.5 175.37L514 175.44L514.5 175.47L515 175.51L515 175.7Z" fill="#000"/>
<path d="M419.5 174.14L420 173.78L420.5 172.86L421 172.39L421.5 171.17L422 169.21L422.5 167.33L423 166.17L423.5 165.16L424 162.53L424.5 158.85L425 155.86L425.5 153.44L426 151.5L426.5 148.36L427 144.86L427.5 142.63L428 140.95L428.5 137.99L429 135.06L429.5 133.03L430 134.73L430.5 137.12L431 138.61L431.5 140.49L432 143.3L432.5 145.34L433 147.43L433.5 150.92L434 154.93L434.5 156.63L435 158.44L435.5 159.96L436 161.98L436.5 163.11L437 163.62L437.5 165.17L438 165.99L438.5 166.83L439 167.3L439.5 168.22L440 168.57L440.5 169.31L441 169.6L441.5 170.4L442 171.01L442.5 171.73L443 172.67L443.5 172.62L444 173.26L444.5 173.38L445 174L445.5 174.34L446 174.53L446.5 174.16L447 174.26L447.5 174.53L448 174.99L448.5 174.69L449 174.94L449.5 174.99L450 174.89L450.5 175.1L451 175.08L451.5 175.1L452 175.1L452.5 175.1L453 175.05L453.5 175.1L454 175.1L454.5 175.1L455 174.9L455.5 175.07L456 175.1L456.5 175.1L457 175.1L457.5 175.1L458 175.1L458.5 175.1L459 175.1L459.5 175.1L460 175.1L460.5 175.1L461 175L461.5 175.1L462 175.1L462.5 175.1L463 175.1L463.5 174.98L464 175L464.5 175.1L465 175.1L465.5 175.01L466 175.1L466.5 175.04L467 175.1L467.5 175.1L468 175.1L468.5 175.1L469 175.02L469.5 175.04L470 175.1L470.5 175.1L471 175.1L471.5 175.1L472 175.1L472.5 175.1L473 175.1L473.5 175.06L474 175.1L474.5 174.97L475 175.1L475.5 175.1L476 174.98L476.5 174.9L477 175.1L477.5 175.01L478 175.1L478.5 175.07L479 174.98L479.5 175.05L480 174.94L480.5 175.1L481 175.1L481.5 175.1L482 174.99L482.5 175.09L483 174.96L483.5 175.1L484 175.1L484.5 175.1L485 175.1L485.5 175.1L486 175.1L486.5 174.97L487 174.92L487.5 175.1L488 175.1L488.5 175.1L489 175.1L489.5 175.1L490 175.1L490.5 175.07L491 175.1L491.5 175.1L492 175.1L492.5 175.1L493 174.99L493.5 174.99L494 175.08L494.5 175.1L495 175.1L495.5 174.9L496 175.1L496.5 174.98L497 175.1L497.5 175.1L498 175.1L498.5 175.1L499 175.1L499.5 175.1L500 174.92L500.5 175.05L501 175.1L501.5 175.1L502 175.1L502.5 175L503 175.1L503.5 175.1L504 175.1L504.5 174.97L505 175.1L505.5 175.1L506 175.1L506.5 175.1L507 175.1L507.5 175.1L508 175.1L508.5 175.1L509 175.1L509.5 175.1L510 175.1L510.5 175.1L511 175.1L511.5 175.1L512 175.1L512.5 175.1L513 175.1L513.5 175.1L514 175.1L514.5 175.1L515 174.93" fill="none" stroke="#000" stroke-width="1.85" stroke-linejoin="round"/>
<path d="M418.9 125.6H515.8 V175.7" fill="none" stroke="#000" stroke-width="1.1"/>
<path d="M418.9 125.1L418.9 176.6" stroke="#000" stroke-width="1.7"/>
<path d="M418.1 175.7L516.5 175.7" stroke="#000" stroke-width="1.8"/>
<path d="M515.8 125.6L515.8 175.7" stroke="#000" stroke-width="1.4"/>
<path d="M414.6 175.7H418.9M416.3 173.19H418.9M416.3 170.69H418.9M416.3 168.19H418.9M416.3 165.68H418.9M414.6 163.17H418.9M416.3 160.67H418.9M416.3 158.16H418.9M416.3 155.66H418.9M416.3 153.16H418.9M414.6 150.65H418.9M416.3 148.14H418.9M416.3 145.64H418.9M416.3 143.13H418.9M416.3 140.63H418.9M414.6 138.12H418.9M416.3 135.62H418.9M416.3 133.12H418.9M416.3 130.61H418.9M416.3 128.1H418.9M414.6 125.6H418.9M426.19 175.7V177.6M430.46 175.7V177.6M433.48 175.7V177.6M435.83 175.7V177.6M437.75 175.7V177.6M439.37 175.7V177.6M440.78 175.7V177.6M442.02 175.7V177.6M443.12 175.7V179M450.42 175.7V177.6M454.68 175.7V177.6M457.71 175.7V177.6M460.06 175.7V177.6M461.98 175.7V177.6M463.6 175.7V177.6M465 175.7V177.6M466.24 175.7V177.6M467.35 175.7V179M474.64 175.7V177.6M478.91 175.7V177.6M481.93 175.7V177.6M484.28 175.7V177.6M486.2 175.7V177.6M487.82 175.7V177.6M489.23 175.7V177.6M490.47 175.7V177.6M491.57 175.7V179M498.87 175.7V177.6M503.13 175.7V177.6M506.16 175.7V177.6M508.51 175.7V177.6M510.43 175.7V177.6M512.05 175.7V177.6M513.45 175.7V177.6M514.69 175.7V177.6M515.8 175.7V179" stroke="#000" stroke-width="0.9"/>
<text x="409.58" y="177.7" font-size="5.73" font-weight="normal" textLength="3.78" lengthAdjust="spacingAndGlyphs" stroke="#000" stroke-width="0.32">0</text>
<text x="406.27" y="165.17" font-size="5.81" font-weight="normal" textLength="7.09" lengthAdjust="spacingAndGlyphs" stroke="#000" stroke-width="0.32">75</text>
<text x="402.87" y="152.65" font-size="5.73" font-weight="normal" textLength="10.47" lengthAdjust="spacingAndGlyphs" stroke="#000" stroke-width="0.32">150</text>
<text x="403.04" y="140.12" font-size="5.73" font-weight="normal" textLength="10.32" lengthAdjust="spacingAndGlyphs" stroke="#000" stroke-width="0.32">225</text>
<text x="403.12" y="127.6" font-size="5.73" font-weight="normal" textLength="10.22" lengthAdjust="spacingAndGlyphs" stroke="#000" stroke-width="0.32">300</text>
<text x="411.57" y="188.8" font-size="5.73" font-weight="normal" textLength="6.25" lengthAdjust="spacingAndGlyphs" stroke="#000" stroke-width="0.32">10</text>
<text x="417.62" y="186.6" font-size="3.72" font-weight="normal" textLength="2.56" lengthAdjust="spacingAndGlyphs" stroke="#000" stroke-width="0.32">0</text>
<text x="435.8" y="188.8" font-size="5.73" font-weight="normal" textLength="6.25" lengthAdjust="spacingAndGlyphs" stroke="#000" stroke-width="0.32">10</text>
<text x="441.64" y="186.6" font-size="3.78" font-weight="normal" textLength="2.84" lengthAdjust="spacingAndGlyphs" stroke="#000" stroke-width="0.32">1</text>
<text x="460.02" y="188.8" font-size="5.73" font-weight="normal" textLength="6.25" lengthAdjust="spacingAndGlyphs" stroke="#000" stroke-width="0.32">10</text>
<text x="466.01" y="186.6" font-size="3.72" font-weight="normal" textLength="2.69" lengthAdjust="spacingAndGlyphs" stroke="#000" stroke-width="0.32">2</text>
<text x="484.25" y="188.8" font-size="5.73" font-weight="normal" textLength="6.25" lengthAdjust="spacingAndGlyphs" stroke="#000" stroke-width="0.32">10</text>
<text x="490.3" y="186.6" font-size="3.72" font-weight="normal" textLength="2.58" lengthAdjust="spacingAndGlyphs" stroke="#000" stroke-width="0.32">3</text>
<text x="508.47" y="188.8" font-size="5.73" font-weight="normal" textLength="6.25" lengthAdjust="spacingAndGlyphs" stroke="#000" stroke-width="0.32">10</text>
<text x="514.6" y="186.6" font-size="3.78" font-weight="normal" textLength="2.43" lengthAdjust="spacingAndGlyphs" stroke="#000" stroke-width="0.32">4</text>
<text x="429.59" y="119" font-size="7.16" font-weight="normal" textLength="57.03" lengthAdjust="spacingAndGlyphs" stroke="#000" stroke-width="0.15">96 HRS ATRA</text>
<text x="456.22" y="197.6" font-size="7.59" font-weight="bold" textLength="23.77" lengthAdjust="spacingAndGlyphs" stroke="#000" stroke-width="0.22">CD18</text>
<path d="M28.8 272.3L28.8 272.12L29.3 272.11L29.8 272.06L30.3 272.02L30.8 272.1L31.3 272.11L31.8 272.09L32.3 272.01L32.8 272.1L33.3 272.01L33.8 272.02L34.3 272.1L34.8 272.04L35.3 272.06L35.8 272.06L36.3 271.95L36.8 272L37.3 271.9L37.8 271.33L38.3 271.36L38.8 271.29L39.3 270.99L39.8 270.77L40.3 269.95L40.8 270.67L41.3 270.45L41.8 269.43L42.3 268.84L42.8 267.16L43.3 266.78L43.8 267.41L44.3 267.39L44.8 265L45.3 263.38L45.8 264.35L46.3 261.59L46.8 260.23L47.3 258.16L47.8 256.11L48.3 252.56L48.8 251.1L49.3 249.88L49.8 246.55L50.3 246.41L50.8 245.42L51.3 243.09L51.8 242.01L52.3 241.31L52.8 239.86L53.3 238.47L53.8 237.38L54.3 236.97L54.8 237.07L55.3 237.74L55.8 239.04L56.3 240.5L56.8 241.68L57.3 244.07L57.8 245.05L58.3 248.2L58.8 250.16L59.3 250.02L59.8 252.19L60.3 254.26L60.8 257.85L61.3 258.28L61.8 258.39L62.3 260.76L62.8 261.57L63.3 264.5L63.8 264.62L64.3 264.89L64.8 266.95L65.3 267.12L65.8 268.2L66.3 269.54L66.8 269.97L67.3 269.08L67.8 270.78L68.3 271L68.8 270.99L69.3 270.81L69.8 270.9L70.3 271.35L70.8 271.51L71.3 271.55L71.8 271.85L72.3 271.84L72.8 271.77L73.3 271.76L73.8 271.94L74.3 271.92L74.8 271.91L75.3 271.74L75.8 271.75L76.3 271.67L76.8 271.74L77.3 271.89L77.8 271.74L78.3 271.68L78.8 271.87L79.3 271.97L79.8 271.87L80.3 271.89L80.8 271.93L81.3 271.96L81.8 271.94L82.3 271.74L82.8 271.97L83.3 271.82L83.8 271.93L84.3 271.94L84.8 271.78L85.3 271.92L85.8 271.95L86.3 271.88L86.8 271.82L87.3 271.87L87.8 271.79L88.3 271.91L88.8 271.88L89.3 271.84L89.8 271.91L90.3 271.85L90.8 271.91L91.3 271.99L91.8 272L92.3 271.85L92.8 271.86L93.3 271.82L93.8 271.88L94.3 271.91L94.8 272.01L95.3 271.86L95.8 272.02L96.3 271.96L96.8 272.02L97.3 271.98L97.8 272L98.3 271.97L98.8 271.92L99.3 271.96L99.8 272.02L100.3 271.92L100.8 271.93L101.3 271.92L101.8 272.07L102.3 271.97L102.8 271.92L103.3 272.04L103.8 272.05L104.3 271.94L104.8 272.03L105.3 272.02L105.8 271.95L106.3 272.03L106.8 272.07L107.3 272.07L107.8 272.05L108.3 271.99L108.8 272.05L109.3 271.98L109.8 272.1L110.3 272.07L110.8 272.01L111.3 272.04L111.8 272.04L112.3 271.97L112.8 272.08L113.3 272.09L113.8 272.12L113.8 272.3Z" fill="#000"/>
<path d="M28.8 271.7L29.3 271.7L29.8 271.7L30.3 271.36L30.8 271.19L31.3 271.29L31.8 271.32L32.3 270.3L32.8 269.65L33.3 268.4L33.8 267.47L34.3 266.48L34.8 263.12L35.3 259.94L35.8 257.83L36.3 254.15L36.8 248.94L37.3 244.49L37.8 242.25L38.3 238.08L38.8 233.94L39.3 231.42L39.8 229.14L40.3 226L40.8 225.85L41.3 228.6L41.8 230.35L42.3 231.6L42.8 233.44L43.3 234.72L43.8 237.77L44.3 240.26L44.8 242.77L45.3 245.31L45.8 247.41L46.3 248.92L46.8 251.94L47.3 253.43L47.8 255.7L48.3 259.41L48.8 261.47L49.3 262.55L49.8 264.84L50.3 266.82L50.8 267.83L51.3 267.98L51.8 268.76L52.3 269.76L52.8 270.26L53.3 270.77L53.8 270.98L54.3 271.09L54.8 271.11L55.3 271.23L55.8 271.7L56.3 271.7L56.8 271.7L57.3 271.7L57.8 271.7L58.3 271.7L58.8 271.7L59.3 271.7L59.8 271.7L60.3 271.6L60.8 271.55L61.3 271.7L61.8 271.53L62.3 271.7L62.8 271.7L63.3 271.69L63.8 271.7L64.3 271.7L64.8 271.7L65.3 271.7L65.8 271.7L66.3 271.52L66.8 271.7L67.3 271.7L67.8 271.7L68.3 271.7L68.8 271.7L69.3 271.7L69.8 271.7L70.3 271.7L70.8 271.7L71.3 271.7L71.8 271.7L72.3 271.7L72.8 271.58L73.3 271.7L73.8 271.7L74.3 271.7L74.8 271.57L75.3 271.7L75.8 271.63L76.3 271.7L76.8 271.7L77.3 271.7L77.8 271.68L78.3 271.66L78.8 271.7L79.3 271.7L79.8 271.7L80.3 271.61L80.8 271.63L81.3 271.65L81.8 271.7L82.3 271.6L82.8 271.7L83.3 271.56L83.8 271.7L84.3 271.66L84.8 271.7L85.3 271.7L85.8 271.54L86.3 271.55L86.8 271.7L87.3 271.7L87.8 271.7L88.3 271.7L88.8 271.7L89.3 271.7L89.8 271.53L90.3 271.7L90.8 271.69L91.3 271.7L91.8 271.7L92.3 271.7L92.8 271.57L93.3 271.7L93.8 271.7L94.3 271.7L94.8 271.7L95.3 271.7L95.8 271.7L96.3 271.7L96.8 271.66L97.3 271.7L97.8 271.7L98.3 271.7L98.8 271.7L99.3 271.7L99.8 271.7L100.3 271.65L100.8 271.54L101.3 271.7L101.8 271.59L102.3 271.7L102.8 271.7L103.3 271.7L103.8 271.7L104.3 271.7L104.8 271.58L105.3 271.7L105.8 271.61L106.3 271.7L106.8 271.58L107.3 271.7L107.8 271.7L108.3 271.7L108.8 271.7L109.3 271.7L109.8 271.7L110.3 271.7L110.8 271.7L111.3 271.61L111.8 271.58L112.3 271.7L112.8 271.59L113.3 271.7L113.8 271.7" fill="none" stroke="#000" stroke-width="1.85" stroke-linejoin="round"/>
<path d="M28.2 222H114.8 V272.3" fill="none" stroke="#000" stroke-width="1.1"/>
<path d="M28.2 221.5L28.2 273.2" stroke="#000" stroke-width="1.7"/>
<path d="M27.4 272.3L115.5 272.3" stroke="#000" stroke-width="1.8"/>
<path d="M114.8 222L114.8 272.3" stroke="#000" stroke-width="1.4"/>
<path d="M23.9 272.3H28.2M25.6 269.79H28.2M25.6 267.27H28.2M25.6 264.75H28.2M25.6 262.24H28.2M23.9 259.73H28.2M25.6 257.21H28.2M25.6 254.69H28.2M25.6 252.18H28.2M25.6 249.67H28.2M23.9 247.15H28.2M25.6 244.63H28.2M25.6 242.12H28.2M25.6 239.61H28.2M25.6 237.09H28.2M23.9 234.57H28.2M25.6 232.06H28.2M25.6 229.55H28.2M25.6 227.03H28.2M25.6 224.51H28.2M23.9 222H28.2M34.72 272.3V274.2M38.53 272.3V274.2M41.23 272.3V274.2M43.33 272.3V274.2M45.05 272.3V274.2M46.5 272.3V274.2M47.75 272.3V274.2M48.86 272.3V274.2M49.85 272.3V275.6M56.37 272.3V274.2M60.18 272.3V274.2M62.88 272.3V274.2M64.98 272.3V274.2M66.7 272.3V274.2M68.15 272.3V274.2M69.4 272.3V274.2M70.51 272.3V274.2M71.5 272.3V275.6M78.02 272.3V274.2M81.83 272.3V274.2M84.53 272.3V274.2M86.63 272.3V274.2M88.35 272.3V274.2M89.8 272.3V274.2M91.05 272.3V274.2M92.16 272.3V274.2M93.15 272.3V275.6M99.67 272.3V274.2M103.48 272.3V274.2M106.18 272.3V274.2M108.28 272.3V274.2M110 272.3V274.2M111.45 272.3V274.2M112.7 272.3V274.2M113.81 272.3V274.2M114.8 272.3V275.6" stroke="#000" stroke-width="0.9"/>
<text x="18.88" y="274.3" font-size="5.73" font-weight="normal" textLength="3.78" lengthAdjust="spacingAndGlyphs" stroke="#000" stroke-width="0.32">0</text>
<text x="15.57" y="261.73" font-size="5.81" font-weight="normal" textLength="7.09" lengthAdjust="spacingAndGlyphs" stroke="#000" stroke-width="0.32">75</text>
<text x="12.17" y="249.15" font-size="5.73" font-weight="normal" textLength="10.47" lengthAdjust="spacingAndGlyphs" stroke="#000" stroke-width="0.32">150</text>
<text x="12.34" y="236.57" font-size="5.73" font-weight="normal" textLength="10.32" lengthAdjust="spacingAndGlyphs" stroke="#000" stroke-width="0.32">225</text>
<text x="12.42" y="224" font-size="5.73" font-weight="normal" textLength="10.22" lengthAdjust="spacingAndGlyphs" stroke="#000" stroke-width="0.32">300</text>
<text x="20.87" y="285.7" font-size="5.73" font-weight="normal" textLength="6.25" lengthAdjust="spacingAndGlyphs" stroke="#000" stroke-width="0.32">10</text>
<text x="26.92" y="283.5" font-size="3.72" font-weight="normal" textLength="2.56" lengthAdjust="spacingAndGlyphs" stroke="#000" stroke-width="0.32">0</text>
<text x="42.52" y="285.7" font-size="5.73" font-weight="normal" textLength="6.25" lengthAdjust="spacingAndGlyphs" stroke="#000" stroke-width="0.32">10</text>
<text x="48.36" y="283.5" font-size="3.78" font-weight="normal" textLength="2.84" lengthAdjust="spacingAndGlyphs" stroke="#000" stroke-width="0.32">1</text>
<text x="64.17" y="285.7" font-size="5.73" font-weight="normal" textLength="6.25" lengthAdjust="spacingAndGlyphs" stroke="#000" stroke-width="0.32">10</text>
<text x="70.16" y="283.5" font-size="3.72" font-weight="normal" textLength="2.69" lengthAdjust="spacingAndGlyphs" stroke="#000" stroke-width="0.32">2</text>
<text x="85.82" y="285.7" font-size="5.73" font-weight="normal" textLength="6.25" lengthAdjust="spacingAndGlyphs" stroke="#000" stroke-width="0.32">10</text>
<text x="91.87" y="283.5" font-size="3.72" font-weight="normal" textLength="2.58" lengthAdjust="spacingAndGlyphs" stroke="#000" stroke-width="0.32">3</text>
<text x="107.47" y="285.7" font-size="5.73" font-weight="normal" textLength="6.25" lengthAdjust="spacingAndGlyphs" stroke="#000" stroke-width="0.32">10</text>
<text x="113.6" y="283.5" font-size="3.78" font-weight="normal" textLength="2.43" lengthAdjust="spacingAndGlyphs" stroke="#000" stroke-width="0.32">4</text>
<text x="26.55" y="215.2" font-size="6.87" font-weight="normal" textLength="57.97" lengthAdjust="spacingAndGlyphs" stroke="#000" stroke-width="0.15">24 HRS ATRA</text>
<text x="59.14" y="294" font-size="7.02" font-weight="bold" textLength="25.02" lengthAdjust="spacingAndGlyphs" stroke="#000" stroke-width="0.22">CD 52</text>
<text transform="translate(8.8 261.18) rotate(-90)" font-size="7.59" font-weight="bold" textLength="28.86" lengthAdjust="spacingAndGlyphs" stroke="#000" stroke-width="0.45">EVENTS</text>
<path d="M158 272.7L158 272.51L158.5 272.49L159 272.48L159.5 272.39L160 272.45L160.5 272.41L161 272.51L161.5 272.45L162 272.4L162.5 272.44L163 272.38L163.5 272.39L164 272.42L164.5 272.43L165 272.14L165.5 272.24L166 272.19L166.5 271.73L167 271.52L167.5 271.37L168 271.14L168.5 271.61L169 271.64L169.5 271.55L170 270.66L170.5 271.35L171 271.12L171.5 271.1L172 270.87L172.5 270.72L173 270.03L173.5 270.22L174 269.48L174.5 267.29L175 268.28L175.5 265.98L176 265.64L176.5 265.41L177 264.29L177.5 262.52L178 261.77L178.5 261.82L179 260.54L179.5 259.06L180 256.73L180.5 253.57L181 253.75L181.5 253.41L182 250.58L182.5 247.92L183 247.62L183.5 246.38L184 246.91L184.5 246.06L185 244.09L185.5 245.66L186 245.19L186.5 245.13L187 245.69L187.5 246.21L188 246.57L188.5 244.62L189 245.5L189.5 245.36L190 247.43L190.5 247.49L191 248.8L191.5 250.15L192 251.1L192.5 252.35L193 254.46L193.5 255.41L194 255.47L194.5 257.26L195 256.48L195.5 258.2L196 258.79L196.5 258.81L197 259.83L197.5 261.96L198 262.76L198.5 264.35L199 265.05L199.5 263.28L200 264.77L200.5 264.68L201 266L201.5 267.9L202 266.91L202.5 267.29L203 268.7L203.5 269.91L204 269.77L204.5 270.41L205 270.43L205.5 271.07L206 270.45L206.5 270.26L207 271.24L207.5 270.83L208 271.2L208.5 271.47L209 271.39L209.5 271.89L210 271.83L210.5 272.27L211 272.05L211.5 272.29L212 272.35L212.5 272.09L213 272.14L213.5 272.15L214 272.13L214.5 272.24L215 272.32L215.5 272.26L216 272.08L216.5 272.08L217 272.3L217.5 272.24L218 272.24L218.5 272.11L219 272.37L219.5 272.14L220 272.3L220.5 272.22L221 272.34L221.5 272.36L222 272.14L222.5 272.25L223 272.12L223.5 272.16L224 272.19L224.5 272.37L225 272.24L225.5 272.14L226 272.27L226.5 272.38L227 272.36L227.5 272.16L228 272.16L228.5 272.35L229 272.33L229.5 272.24L230 272.3L230.5 272.38L231 272.19L231.5 272.28L232 272.34L232.5 272.43L233 272.32L233.5 272.27L234 272.4L234.5 272.42L235 272.28L235.5 272.25L236 272.37L236.5 272.35L237 272.32L237.5 272.35L238 272.43L238.5 272.4L239 272.42L239.5 272.43L240 272.45L240.5 272.39L241 272.43L241.5 272.31L242 272.42L242.5 272.3L243 272.33L243.5 272.43L244 272.46L244.5 272.38L245 272.41L245.5 272.4L246 272.47L246.5 272.4L247 272.37L247.5 272.42L248 272.46L248.5 272.35L249 272.46L249.5 272.34L250 272.4L250.5 272.51L251 272.44L251.5 272.49L252 272.39L252.5 272.45L253 272.5L253.5 272.37L254 272.4L254.5 272.43L255 272.44L255 272.7Z" fill="#000"/>
<path d="M158 272.1L158.5 272.1L159 272.1L159.5 272.1L160 272.1L160.5 272.1L161 271.91L161.5 271.73L162 270.16L162.5 268.54L163 267.4L163.5 266.43L164 264.15L164.5 260.62L165 256.26L165.5 252.88L166 250.83L166.5 247.26L167 242.65L167.5 238.26L168 235.4L168.5 232.12L169 227.69L169.5 224.81L170 223.45L170.5 222.8L171 223.2L171.5 225.59L172 227.79L172.5 231.82L173 236.33L173.5 239.45L174 242.47L174.5 246.67L175 250.55L175.5 252.54L176 254.35L176.5 257.57L177 259.97L177.5 261.38L178 263.04L178.5 264.57L179 266.15L179.5 267.04L180 267.58L180.5 269.14L181 269.79L181.5 269.81L182 270.31L182.5 270.25L183 270.68L183.5 271.53L184 271.59L184.5 271.49L185 271.5L185.5 271.74L186 271.85L186.5 272.1L187 271.77L187.5 272.1L188 272.04L188.5 272.1L189 272.1L189.5 271.97L190 272.1L190.5 272.1L191 272.06L191.5 271.97L192 272.1L192.5 272.1L193 272.1L193.5 271.98L194 272.1L194.5 272.1L195 272.1L195.5 272.1L196 271.96L196.5 271.98L197 272.03L197.5 272.1L198 271.97L198.5 272.01L199 272.1L199.5 272.02L200 272.04L200.5 272.1L201 272.04L201.5 272.1L202 271.95L202.5 272.1L203 272.1L203.5 272.1L204 272.01L204.5 271.91L205 272.06L205.5 272.1L206 271.96L206.5 272.1L207 272.1L207.5 271.93L208 272.1L208.5 272.1L209 272.1L209.5 272.1L210 272.1L210.5 272.1L211 272.1L211.5 272.1L212 272.1L212.5 272.1L213 272.1L213.5 272.09L214 271.98L214.5 272.1L215 272.1L215.5 272.06L216 272.1L216.5 271.95L217 271.92L217.5 272.05L218 272.1L218.5 271.93L219 271.99L219.5 272.1L220 272.1L220.5 272.03L221 271.92L221.5 271.93L222 272.1L222.5 271.9L223 272.1L223.5 271.93L224 272.01L224.5 271.94L225 272.06L225.5 271.95L226 271.99L226.5 272.01L227 272.04L227.5 272.1L228 272.1L228.5 272.02L229 271.9L229.5 272.1L230 272.1L230.5 272.1L231 272.1L231.5 272.1L232 272.09L232.5 272.01L233 272.1L233.5 272.1L234 272.1L234.5 272.02L235 272.1L235.5 272.1L236 272.1L236.5 272.1L237 271.92L237.5 271.98L238 272.1L238.5 272.1L239 272.1L239.5 272.1L240 272.03L240.5 271.98L241 272.1L241.5 271.9L242 272.1L242.5 271.95L243 272.1L243.5 272.1L244 271.95L244.5 271.96L245 272.1L245.5 272.1L246 271.9L246.5 272.1L247 272.1L247.5 272.1L248 272.1L248.5 271.9L249 272.1L249.5 272.1L250 272.1L250.5 272.1L251 272.1L251.5 272.1L252 272.1L252.5 272.1L253 272.1L253.5 272.1L254 271.91L254.5 272.1L255 272.04" fill="none" stroke="#000" stroke-width="1.85" stroke-linejoin="round"/>
<path d="M157.4 222.3H255.8 V272.7" fill="none" stroke="#000" stroke-width="1.1"/>
<path d="M157.4 221.8L157.4 273.6" stroke="#000" stroke-width="1.7"/>
<path d="M156.6 272.7L256.5 272.7" stroke="#000" stroke-width="1.8"/>
<path d="M255.8 222.3L255.8 272.7" stroke="#000" stroke-width="1.4"/>
<path d="M153.1 272.7H157.4M154.8 270.18H157.4M154.8 267.66H157.4M154.8 265.14H157.4M154.8 262.62H157.4M153.1 260.1H157.4M154.8 257.58H157.4M154.8 255.06H157.4M154.8 252.54H157.4M154.8 250.02H157.4M153.1 247.5H157.4M154.8 244.98H157.4M154.8 242.46H157.4M154.8 239.94H157.4M154.8 237.42H157.4M153.1 234.9H157.4M154.8 232.38H157.4M154.8 229.86H157.4M154.8 227.34H157.4M154.8 224.82H157.4M153.1 222.3H157.4M164.81 272.7V274.6M169.14 272.7V274.6M172.21 272.7V274.6M174.59 272.7V274.6M176.54 272.7V274.6M178.19 272.7V274.6M179.62 272.7V274.6M180.87 272.7V274.6M182 272.7V276M189.41 272.7V274.6M193.74 272.7V274.6M196.81 272.7V274.6M199.19 272.7V274.6M201.14 272.7V274.6M202.79 272.7V274.6M204.22 272.7V274.6M205.47 272.7V274.6M206.6 272.7V276M214.01 272.7V274.6M218.34 272.7V274.6M221.41 272.7V274.6M223.79 272.7V274.6M225.74 272.7V274.6M227.39 272.7V274.6M228.82 272.7V274.6M230.07 272.7V274.6M231.2 272.7V276M238.61 272.7V274.6M242.94 272.7V274.6M246.01 272.7V274.6M248.39 272.7V274.6M250.34 272.7V274.6M251.99 272.7V274.6M253.42 272.7V274.6M254.67 272.7V274.6M255.8 272.7V276" stroke="#000" stroke-width="0.9"/>
<text x="148.08" y="274.7" font-size="5.73" font-weight="normal" textLength="3.78" lengthAdjust="spacingAndGlyphs" stroke="#000" stroke-width="0.32">0</text>
<text x="144.77" y="262.1" font-size="5.81" font-weight="normal" textLength="7.09" lengthAdjust="spacingAndGlyphs" stroke="#000" stroke-width="0.32">75</text>
<text x="141.37" y="249.5" font-size="5.73" font-weight="normal" textLength="10.47" lengthAdjust="spacingAndGlyphs" stroke="#000" stroke-width="0.32">150</text>
<text x="141.54" y="236.9" font-size="5.73" font-weight="normal" textLength="10.32" lengthAdjust="spacingAndGlyphs" stroke="#000" stroke-width="0.32">225</text>
<text x="141.62" y="224.3" font-size="5.73" font-weight="normal" textLength="10.22" lengthAdjust="spacingAndGlyphs" stroke="#000" stroke-width="0.32">300</text>
<text x="150.07" y="286.1" font-size="5.73" font-weight="normal" textLength="6.25" lengthAdjust="spacingAndGlyphs" stroke="#000" stroke-width="0.32">10</text>
<text x="156.12" y="283.9" font-size="3.72" font-weight="normal" textLength="2.56" lengthAdjust="spacingAndGlyphs" stroke="#000" stroke-width="0.32">0</text>
<text x="174.67" y="286.1" font-size="5.73" font-weight="normal" textLength="6.25" lengthAdjust="spacingAndGlyphs" stroke="#000" stroke-width="0.32">10</text>
<text x="180.51" y="283.9" font-size="3.78" font-weight="normal" textLength="2.84" lengthAdjust="spacingAndGlyphs" stroke="#000" stroke-width="0.32">1</text>
<text x="199.27" y="286.1" font-size="5.73" font-weight="normal" textLength="6.25" lengthAdjust="spacingAndGlyphs" stroke="#000" stroke-width="0.32">10</text>
<text x="205.26" y="283.9" font-size="3.72" font-weight="normal" textLength="2.69" lengthAdjust="spacingAndGlyphs" stroke="#000" stroke-width="0.32">2</text>
<text x="223.87" y="286.1" font-size="5.73" font-weight="normal" textLength="6.25" lengthAdjust="spacingAndGlyphs" stroke="#000" stroke-width="0.32">10</text>
<text x="229.92" y="283.9" font-size="3.72" font-weight="normal" textLength="2.58" lengthAdjust="spacingAndGlyphs" stroke="#000" stroke-width="0.32">3</text>
<text x="248.47" y="286.1" font-size="5.73" font-weight="normal" textLength="6.25" lengthAdjust="spacingAndGlyphs" stroke="#000" stroke-width="0.32">10</text>
<text x="254.6" y="283.9" font-size="3.78" font-weight="normal" textLength="2.43" lengthAdjust="spacingAndGlyphs" stroke="#000" stroke-width="0.32">4</text>
<text x="167.29" y="215.7" font-size="6.87" font-weight="normal" textLength="57.72" lengthAdjust="spacingAndGlyphs" stroke="#000" stroke-width="0.15">48 HRS ATRA</text>
<text x="193.43" y="294.7" font-size="7.02" font-weight="bold" textLength="25.74" lengthAdjust="spacingAndGlyphs" stroke="#000" stroke-width="0.22">CD 52</text>
<path d="M286.3 270.6L286.3 270.34L286.8 270.33L287.3 270.3L287.8 270.38L288.3 270.33L288.8 270.29L289.3 270.29L289.8 270.4L290.3 270.33L290.8 270.33L291.3 270.35L291.8 270.28L292.3 270.35L292.8 270.36L293.3 270.28L293.8 270.33L294.3 270.36L294.8 270.29L295.3 270.17L295.8 270.2L296.3 269.9L296.8 269.7L297.3 269.72L297.8 269.34L298.3 269.13L298.8 269.28L299.3 269.08L299.8 269.48L300.3 269.49L300.8 268.47L301.3 269L301.8 268.89L302.3 267.74L302.8 267.67L303.3 268.47L303.8 267.99L304.3 267.94L304.8 267.27L305.3 266.95L305.8 264.69L306.3 264.4L306.8 263.53L307.3 262.74L307.8 261.18L308.3 259.6L308.8 256.19L309.3 255.55L309.8 254.46L310.3 253.5L310.8 251.44L311.3 249.97L311.8 248.73L312.3 248.46L312.8 246.8L313.3 245.85L313.8 245.04L314.3 243.57L314.8 243.63L315.3 243.08L315.8 242.87L316.3 242.08L316.8 241.67L317.3 243.39L317.8 244.59L318.3 244.08L318.8 244.89L319.3 244.94L319.8 247.66L320.3 246.62L320.8 249.23L321.3 248.85L321.8 249.92L322.3 250.75L322.8 250.26L323.3 251.84L323.8 254.08L324.3 253.92L324.8 254.69L325.3 257.45L325.8 258.7L326.3 258.53L326.8 258.82L327.3 260.25L327.8 261.36L328.3 262.15L328.8 263.48L329.3 262.37L329.8 262.59L330.3 264.29L330.8 266L331.3 265.66L331.8 265.13L332.3 266.56L332.8 267.32L333.3 267.45L333.8 266.66L334.3 267.27L334.8 268.19L335.3 267.88L335.8 267.83L336.3 267.77L336.8 268.23L337.3 268.95L337.8 268.87L338.3 269.04L338.8 269.3L339.3 269.46L339.8 269.6L340.3 269.69L340.8 269.58L341.3 269.76L341.8 269.79L342.3 270.05L342.8 270.15L343.3 270.13L343.8 270.06L344.3 270.08L344.8 270.19L345.3 270.2L345.8 269.97L346.3 270.23L346.8 269.98L347.3 270.03L347.8 270.09L348.3 269.97L348.8 270.07L349.3 270.26L349.8 270L350.3 270.15L350.8 270.01L351.3 270.04L351.8 270.24L352.3 270.27L352.8 270.27L353.3 270.07L353.8 270.07L354.3 270.22L354.8 270.26L355.3 270.19L355.8 270.08L356.3 270.1L356.8 270.07L357.3 270.05L357.8 270.11L358.3 270.1L358.8 270.3L359.3 270.31L359.8 270.1L360.3 270.17L360.8 270.24L361.3 270.29L361.8 270.25L362.3 270.25L362.8 270.22L363.3 270.23L363.8 270.29L364.3 270.32L364.8 270.3L365.3 270.32L365.8 270.33L366.3 270.26L366.8 270.33L367.3 270.19L367.8 270.25L368.3 270.27L368.8 270.23L369.3 270.32L369.8 270.36L370.3 270.36L370.8 270.31L371.3 270.31L371.8 270.33L372.3 270.32L372.8 270.23L373.3 270.39L373.8 270.31L374.3 270.32L374.8 270.34L375.3 270.27L375.8 270.36L376.3 270.39L376.8 270.38L377.3 270.24L377.8 270.35L378.3 270.39L378.8 270.25L379.3 270.31L379.8 270.26L380.3 270.36L380.8 270.29L381.3 270.41L381.8 270.38L382.3 270.3L382.8 270.34L383.3 270.3L383.3 270.6Z" fill="#000"/>
<path d="M286.3 270L286.8 270L287.3 269.42L287.8 269.43L288.3 268.95L288.8 268.53L289.3 268.18L289.8 267.01L290.3 266.41L290.8 265.52L291.3 263.79L291.8 260.46L292.3 256.29L292.8 252.44L293.3 250.29L293.8 248.25L294.3 244.78L294.8 240.59L295.3 236.78L295.8 233.74L296.3 232.09L296.8 228.16L297.3 224.78L297.8 223.07L298.3 221.33L298.8 222.42L299.3 225.96L299.8 228.23L300.3 231.88L300.8 236.83L301.3 240.2L301.8 242.37L302.3 245.91L302.8 249.79L303.3 252.48L303.8 253.73L304.3 255.64L304.8 258.47L305.3 260.23L305.8 261.2L306.3 262.57L306.8 263.97L307.3 264.84L307.8 265.73L308.3 266.81L308.8 267.32L309.3 267.68L309.8 267.78L310.3 268.21L310.8 268.55L311.3 268.74L311.8 269.16L312.3 269.69L312.8 269.44L313.3 269.49L313.8 269.56L314.3 269.95L314.8 269.68L315.3 270L315.8 270L316.3 270L316.8 270L317.3 269.89L317.8 270L318.3 270L318.8 269.95L319.3 270L319.8 270L320.3 270L320.8 270L321.3 269.87L321.8 269.82L322.3 269.99L322.8 270L323.3 269.97L323.8 270L324.3 270L324.8 270L325.3 270L325.8 270L326.3 270L326.8 270L327.3 269.97L327.8 269.87L328.3 270L328.8 270L329.3 269.82L329.8 270L330.3 269.84L330.8 270L331.3 269.99L331.8 270L332.3 270L332.8 270L333.3 270L333.8 269.95L334.3 269.95L334.8 269.84L335.3 269.81L335.8 270L336.3 270L336.8 270L337.3 269.96L337.8 270L338.3 269.85L338.8 270L339.3 270L339.8 269.91L340.3 270L340.8 270L341.3 269.88L341.8 269.91L342.3 270L342.8 270L343.3 269.98L343.8 269.98L344.3 270L344.8 270L345.3 269.99L345.8 270L346.3 269.84L346.8 270L347.3 270L347.8 269.99L348.3 270L348.8 270L349.3 270L349.8 270L350.3 269.9L350.8 270L351.3 269.97L351.8 269.9L352.3 270L352.8 269.92L353.3 270L353.8 270L354.3 269.81L354.8 270L355.3 269.91L355.8 270L356.3 270L356.8 270L357.3 269.99L357.8 270L358.3 270L358.8 270L359.3 269.9L359.8 270L360.3 269.85L360.8 270L361.3 270L361.8 270L362.3 270L362.8 270L363.3 270L363.8 270L364.3 270L364.8 270L365.3 270L365.8 270L366.3 270L366.8 270L367.3 270L367.8 270L368.3 270L368.8 270L369.3 270L369.8 270L370.3 270L370.8 270L371.3 270L371.8 270L372.3 270L372.8 269.97L373.3 270L373.8 270L374.3 270L374.8 269.93L375.3 270L375.8 270L376.3 269.92L376.8 269.88L377.3 269.87L377.8 270L378.3 270L378.8 269.95L379.3 270L379.8 269.83L380.3 269.93L380.8 270L381.3 270L381.8 270L382.3 270L382.8 270L383.3 270" fill="none" stroke="#000" stroke-width="1.85" stroke-linejoin="round"/>
<path d="M285.7 220.6H384.1 V270.6" fill="none" stroke="#000" stroke-width="1.1"/>
<path d="M285.7 220.1L285.7 271.5" stroke="#000" stroke-width="1.7"/>
<path d="M284.9 270.6L384.8 270.6" stroke="#000" stroke-width="1.8"/>
<path d="M384.1 220.6L384.1 270.6" stroke="#000" stroke-width="1.4"/>
<path d="M281.4 270.6H285.7M283.1 268.1H285.7M283.1 265.6H285.7M283.1 263.1H285.7M283.1 260.6H285.7M281.4 258.1H285.7M283.1 255.6H285.7M283.1 253.1H285.7M283.1 250.6H285.7M283.1 248.1H285.7M281.4 245.6H285.7M283.1 243.1H285.7M283.1 240.6H285.7M283.1 238.1H285.7M283.1 235.6H285.7M281.4 233.1H285.7M283.1 230.6H285.7M283.1 228.1H285.7M283.1 225.6H285.7M283.1 223.1H285.7M281.4 220.6H285.7M293.11 270.6V272.5M297.44 270.6V272.5M300.51 270.6V272.5M302.89 270.6V272.5M304.84 270.6V272.5M306.49 270.6V272.5M307.92 270.6V272.5M309.17 270.6V272.5M310.3 270.6V273.9M317.71 270.6V272.5M322.04 270.6V272.5M325.11 270.6V272.5M327.49 270.6V272.5M329.44 270.6V272.5M331.09 270.6V272.5M332.52 270.6V272.5M333.77 270.6V272.5M334.9 270.6V273.9M342.31 270.6V272.5M346.64 270.6V272.5M349.71 270.6V272.5M352.09 270.6V272.5M354.04 270.6V272.5M355.69 270.6V272.5M357.12 270.6V272.5M358.37 270.6V272.5M359.5 270.6V273.9M366.91 270.6V272.5M371.24 270.6V272.5M374.31 270.6V272.5M376.69 270.6V272.5M378.64 270.6V272.5M380.29 270.6V272.5M381.72 270.6V272.5M382.97 270.6V272.5M384.1 270.6V273.9" stroke="#000" stroke-width="0.9"/>
<text x="276.38" y="272.6" font-size="5.73" font-weight="normal" textLength="3.78" lengthAdjust="spacingAndGlyphs" stroke="#000" stroke-width="0.32">0</text>
<text x="273.07" y="260.1" font-size="5.81" font-weight="normal" textLength="7.09" lengthAdjust="spacingAndGlyphs" stroke="#000" stroke-width="0.32">75</text>
<text x="269.67" y="247.6" font-size="5.73" font-weight="normal" textLength="10.47" lengthAdjust="spacingAndGlyphs" stroke="#000" stroke-width="0.32">150</text>
<text x="269.84" y="235.1" font-size="5.73" font-weight="normal" textLength="10.32" lengthAdjust="spacingAndGlyphs" stroke="#000" stroke-width="0.32">225</text>
<text x="269.92" y="222.6" font-size="5.73" font-weight="normal" textLength="10.22" lengthAdjust="spacingAndGlyphs" stroke="#000" stroke-width="0.32">300</text>
<text x="278.37" y="284" font-size="5.73" font-weight="normal" textLength="6.25" lengthAdjust="spacingAndGlyphs" stroke="#000" stroke-width="0.32">10</text>
<text x="284.42" y="281.8" font-size="3.72" font-weight="normal" textLength="2.56" lengthAdjust="spacingAndGlyphs" stroke="#000" stroke-width="0.32">0</text>
<text x="302.97" y="284" font-size="5.73" font-weight="normal" textLength="6.25" lengthAdjust="spacingAndGlyphs" stroke="#000" stroke-width="0.32">10</text>
<text x="308.81" y="281.8" font-size="3.78" font-weight="normal" textLength="2.84" lengthAdjust="spacingAndGlyphs" stroke="#000" stroke-width="0.32">1</text>
<text x="327.57" y="284" font-size="5.73" font-weight="normal" textLength="6.25" lengthAdjust="spacingAndGlyphs" stroke="#000" stroke-width="0.32">10</text>
<text x="333.56" y="281.8" font-size="3.72" font-weight="normal" textLength="2.69" lengthAdjust="spacingAndGlyphs" stroke="#000" stroke-width="0.32">2</text>
<text x="352.17" y="284" font-size="5.73" font-weight="normal" textLength="6.25" lengthAdjust="spacingAndGlyphs" stroke="#000" stroke-width="0.32">10</text>
<text x="358.22" y="281.8" font-size="3.72" font-weight="normal" textLength="2.58" lengthAdjust="spacingAndGlyphs" stroke="#000" stroke-width="0.32">3</text>
<text x="376.77" y="284" font-size="5.73" font-weight="normal" textLength="6.25" lengthAdjust="spacingAndGlyphs" stroke="#000" stroke-width="0.32">10</text>
<text x="382.9" y="281.8" font-size="3.78" font-weight="normal" textLength="2.43" lengthAdjust="spacingAndGlyphs" stroke="#000" stroke-width="0.32">4</text>
<text x="296.55" y="214" font-size="6.87" font-weight="normal" textLength="56.47" lengthAdjust="spacingAndGlyphs" stroke="#000" stroke-width="0.15">72 HRS ATRA</text>
<text x="322.13" y="293" font-size="7.73" font-weight="bold" textLength="25.74" lengthAdjust="spacingAndGlyphs" stroke="#000" stroke-width="0.22">CD 52</text>
<path d="M419.9 274L419.9 273.74L420.4 273.73L420.9 273.69L421.4 273.69L421.9 273.69L422.4 273.77L422.9 273.68L423.4 273.76L423.9 273.78L424.4 273.81L424.9 273.74L425.4 273.8L425.9 273.75L426.4 273.61L426.9 273.47L427.4 273.35L427.9 273.49L428.4 273.4L428.9 273.2L429.4 272.9L429.9 272.57L430.4 272.47L430.9 272.24L431.4 272.45L431.9 272.34L432.4 272.51L432.9 272.29L433.4 272.2L433.9 271.46L434.4 271.01L434.9 270.74L435.4 270.8L435.9 270.48L436.4 270.69L436.9 269.18L437.4 269.14L437.9 267.81L438.4 266.56L438.9 266.74L439.4 266.25L439.9 265.25L440.4 262.75L440.9 261.59L441.4 260.94L441.9 258.63L442.4 258.71L442.9 256.64L443.4 257.22L443.9 254.19L444.4 252.31L444.9 252.84L445.4 252.23L445.9 252.28L446.4 251.08L446.9 250.4L447.4 249.69L447.9 250.03L448.4 249.24L448.9 249.42L449.4 248.1L449.9 248.1L450.4 248.31L450.9 246.74L451.4 248.96L451.9 249.35L452.4 249.37L452.9 250.37L453.4 250.34L453.9 251.95L454.4 252.25L454.9 255.06L455.4 254.06L455.9 255.52L456.4 256.36L456.9 256.25L457.4 257.25L457.9 258.91L458.4 259.31L458.9 260.16L459.4 259.43L459.9 261.13L460.4 262.85L460.9 262.9L461.4 264.48L461.9 264.48L462.4 264.63L462.9 264.32L463.4 265.4L463.9 266.82L464.4 266.76L464.9 268.26L465.4 267.61L465.9 267.38L466.4 269.94L466.9 268.59L467.4 268.92L467.9 270.67L468.4 269.88L468.9 269.72L469.4 271.55L469.9 271.18L470.4 271.23L470.9 271.21L471.4 272.18L471.9 271.81L472.4 272.08L472.9 272.1L473.4 272.29L473.9 272.25L474.4 272.55L474.9 272.69L475.4 272.84L475.9 272.98L476.4 273.04L476.9 273.12L477.4 273.27L477.9 273.45L478.4 273.42L478.9 273.3L479.4 273.55L479.9 273.35L480.4 273.4L480.9 273.51L481.4 273.58L481.9 273.39L482.4 273.37L482.9 273.56L483.4 273.46L483.9 273.44L484.4 273.48L484.9 273.63L485.4 273.6L485.9 273.46L486.4 273.49L486.9 273.48L487.4 273.6L487.9 273.43L488.4 273.47L488.9 273.55L489.4 273.45L489.9 273.61L490.4 273.55L490.9 273.56L491.4 273.44L491.9 273.46L492.4 273.61L492.9 273.51L493.4 273.63L493.9 273.49L494.4 273.49L494.9 273.55L495.4 273.71L495.9 273.65L496.4 273.69L496.9 273.61L497.4 273.72L497.9 273.72L498.4 273.72L498.9 273.55L499.4 273.61L499.9 273.56L500.4 273.55L500.9 273.63L501.4 273.58L501.9 273.67L502.4 273.64L502.9 273.73L503.4 273.68L503.9 273.75L504.4 273.69L504.9 273.59L505.4 273.59L505.9 273.64L506.4 273.78L506.9 273.61L507.4 273.7L507.9 273.67L508.4 273.72L508.9 273.66L509.4 273.75L509.9 273.78L510.4 273.73L510.9 273.78L511.4 273.77L511.9 273.78L512.4 273.7L512.9 273.7L513.4 273.78L513.9 273.71L514.4 273.81L514.9 273.67L514.9 274Z" fill="#000"/>
<path d="M419.9 272.28L420.4 271.79L420.9 271.12L421.4 270.85L421.9 269.18L422.4 267.09L422.9 265.54L423.4 263.86L423.9 262.23L424.4 259.63L424.9 256.07L425.4 252.4L425.9 249.81L426.4 247.85L426.9 245.12L427.4 241.89L427.9 239.77L428.4 237.86L428.9 236L429.4 233.76L429.9 231.26L430.4 231.72L430.9 233.65L431.4 235.82L431.9 237.77L432.4 239.95L432.9 242.85L433.4 246.13L433.9 248.11L434.4 250.52L434.9 253.96L435.4 256.75L435.9 257.39L436.4 259.02L436.9 260.54L437.4 261.81L437.9 262.53L438.4 263.55L438.9 264.53L439.4 265.19L439.9 266.09L440.4 266.73L440.9 267.66L441.4 267.9L441.9 268.8L442.4 269.21L442.9 269.91L443.4 270.85L443.9 271.01L444.4 271.61L444.9 271.66L445.4 271.81L445.9 272.58L446.4 272.44L446.9 273.08L447.4 272.88L447.9 273.29L448.4 272.89L448.9 273.24L449.4 273.4L449.9 273.4L450.4 273.4L450.9 273.4L451.4 273.4L451.9 273.4L452.4 273.35L452.9 273.37L453.4 273.4L453.9 273.39L454.4 273.4L454.9 273.4L455.4 273.4L455.9 273.4L456.4 273.4L456.9 273.4L457.4 273.4L457.9 273.26L458.4 273.24L458.9 273.37L459.4 273.4L459.9 273.4L460.4 273.2L460.9 273.4L461.4 273.4L461.9 273.4L462.4 273.24L462.9 273.4L463.4 273.4L463.9 273.4L464.4 273.26L464.9 273.2L465.4 273.4L465.9 273.4L466.4 273.4L466.9 273.4L467.4 273.4L467.9 273.26L468.4 273.24L468.9 273.4L469.4 273.4L469.9 273.4L470.4 273.4L470.9 273.4L471.4 273.33L471.9 273.19L472.4 273.4L472.9 273.35L473.4 273.4L473.9 273.3L474.4 273.4L474.9 273.33L475.4 273.4L475.9 273.31L476.4 273.33L476.9 273.4L477.4 273.4L477.9 273.4L478.4 273.4L478.9 273.4L479.4 273.4L479.9 273.4L480.4 273.4L480.9 273.4L481.4 273.34L481.9 273.4L482.4 273.4L482.9 273.27L483.4 273.19L483.9 273.4L484.4 273.4L484.9 273.39L485.4 273.4L485.9 273.4L486.4 273.34L486.9 273.22L487.4 273.4L487.9 273.4L488.4 273.4L488.9 273.25L489.4 273.4L489.9 273.4L490.4 273.4L490.9 273.4L491.4 273.32L491.9 273.22L492.4 273.4L492.9 273.4L493.4 273.38L493.9 273.4L494.4 273.4L494.9 273.4L495.4 273.4L495.9 273.4L496.4 273.39L496.9 273.4L497.4 273.32L497.9 273.4L498.4 273.34L498.9 273.4L499.4 273.4L499.9 273.33L500.4 273.25L500.9 273.4L501.4 273.4L501.9 273.4L502.4 273.4L502.9 273.36L503.4 273.28L503.9 273.4L504.4 273.4L504.9 273.4L505.4 273.21L505.9 273.4L506.4 273.4L506.9 273.4L507.4 273.36L507.9 273.39L508.4 273.4L508.9 273.4L509.4 273.37L509.9 273.4L510.4 273.4L510.9 273.4L511.4 273.25L511.9 273.4L512.4 273.4L512.9 273.4L513.4 273.4L513.9 273.4L514.4 273.4L514.9 273.4" fill="none" stroke="#000" stroke-width="1.85" stroke-linejoin="round"/>
<path d="M419.3 223.2H515.8 V274" fill="none" stroke="#000" stroke-width="1.1"/>
<path d="M419.3 222.7L419.3 274.9" stroke="#000" stroke-width="1.7"/>
<path d="M418.5 274L516.5 274" stroke="#000" stroke-width="1.8"/>
<path d="M515.8 223.2L515.8 274" stroke="#000" stroke-width="1.4"/>
<path d="M415 274H419.3M416.7 271.46H419.3M416.7 268.92H419.3M416.7 266.38H419.3M416.7 263.84H419.3M415 261.3H419.3M416.7 258.76H419.3M416.7 256.22H419.3M416.7 253.68H419.3M416.7 251.14H419.3M415 248.6H419.3M416.7 246.06H419.3M416.7 243.52H419.3M416.7 240.98H419.3M416.7 238.44H419.3M415 235.9H419.3M416.7 233.36H419.3M416.7 230.82H419.3M416.7 228.28H419.3M416.7 225.74H419.3M415 223.2H419.3M426.56 274V275.9M430.81 274V275.9M433.82 274V275.9M436.16 274V275.9M438.07 274V275.9M439.69 274V275.9M441.09 274V275.9M442.32 274V275.9M443.43 274V277.3M450.69 274V275.9M454.94 274V275.9M457.95 274V275.9M460.29 274V275.9M462.2 274V275.9M463.81 274V275.9M465.21 274V275.9M466.45 274V275.9M467.55 274V277.3M474.81 274V275.9M479.06 274V275.9M482.07 274V275.9M484.41 274V275.9M486.32 274V275.9M487.94 274V275.9M489.34 274V275.9M490.57 274V275.9M491.67 274V277.3M498.94 274V275.9M503.19 274V275.9M506.2 274V275.9M508.54 274V275.9M510.45 274V275.9M512.06 274V275.9M513.46 274V275.9M514.7 274V275.9M515.8 274V277.3" stroke="#000" stroke-width="0.9"/>
<text x="409.98" y="276" font-size="5.73" font-weight="normal" textLength="3.78" lengthAdjust="spacingAndGlyphs" stroke="#000" stroke-width="0.32">0</text>
<text x="406.67" y="263.3" font-size="5.81" font-weight="normal" textLength="7.09" lengthAdjust="spacingAndGlyphs" stroke="#000" stroke-width="0.32">75</text>
<text x="403.27" y="250.6" font-size="5.73" font-weight="normal" textLength="10.47" lengthAdjust="spacingAndGlyphs" stroke="#000" stroke-width="0.32">150</text>
<text x="403.44" y="237.9" font-size="5.73" font-weight="normal" textLength="10.32" lengthAdjust="spacingAndGlyphs" stroke="#000" stroke-width="0.32">225</text>
<text x="403.52" y="225.2" font-size="5.73" font-weight="normal" textLength="10.22" lengthAdjust="spacingAndGlyphs" stroke="#000" stroke-width="0.32">300</text>
<text x="411.97" y="287.4" font-size="5.73" font-weight="normal" textLength="6.25" lengthAdjust="spacingAndGlyphs" stroke="#000" stroke-width="0.32">10</text>
<text x="418.02" y="285.2" font-size="3.72" font-weight="normal" textLength="2.56" lengthAdjust="spacingAndGlyphs" stroke="#000" stroke-width="0.32">0</text>
<text x="436.1" y="287.4" font-size="5.73" font-weight="normal" textLength="6.25" lengthAdjust="spacingAndGlyphs" stroke="#000" stroke-width="0.32">10</text>
<text x="441.94" y="285.2" font-size="3.78" font-weight="normal" textLength="2.84" lengthAdjust="spacingAndGlyphs" stroke="#000" stroke-width="0.32">1</text>
<text x="460.22" y="287.4" font-size="5.73" font-weight="normal" textLength="6.25" lengthAdjust="spacingAndGlyphs" stroke="#000" stroke-width="0.32">10</text>
<text x="466.21" y="285.2" font-size="3.72" font-weight="normal" textLength="2.69" lengthAdjust="spacingAndGlyphs" stroke="#000" stroke-width="0.32">2</text>
<text x="484.35" y="287.4" font-size="5.73" font-weight="normal" textLength="6.25" lengthAdjust="spacingAndGlyphs" stroke="#000" stroke-width="0.32">10</text>
<text x="490.4" y="285.2" font-size="3.72" font-weight="normal" textLength="2.58" lengthAdjust="spacingAndGlyphs" stroke="#000" stroke-width="0.32">3</text>
<text x="508.47" y="287.4" font-size="5.73" font-weight="normal" textLength="6.25" lengthAdjust="spacingAndGlyphs" stroke="#000" stroke-width="0.32">10</text>
<text x="514.6" y="285.2" font-size="3.78" font-weight="normal" textLength="2.43" lengthAdjust="spacingAndGlyphs" stroke="#000" stroke-width="0.32">4</text>
<text x="429.58" y="216.4" font-size="7.16" font-weight="normal" textLength="57.74" lengthAdjust="spacingAndGlyphs" stroke="#000" stroke-width="0.15">96 HRS ATRA</text>
<text x="456.23" y="295.6" font-size="6.87" font-weight="bold" textLength="25.43" lengthAdjust="spacingAndGlyphs" stroke="#000" stroke-width="0.22">CD 52</text>
<path d="M71.85 384.85h1.3v1.3h-1.3zM91.85 384.85h1.3v1.3h-1.3zM85.85 385.85h1.3v1.3h-1.3zM77.85 386.85h1.3v1.3h-1.3zM80.85 386.85h1.3v1.3h-1.3zM87.85 386.85h1.3v1.3h-1.3zM67.85 387.85h1.3v1.3h-1.3zM72.85 387.85h2.3v1.3h-2.3zM75.85 387.85h2.3v1.3h-2.3zM79.85 387.85h2.3v1.3h-2.3zM83.85 387.85h2.3v1.3h-2.3zM86.85 387.85h1.3v1.3h-1.3zM67.85 388.85h2.3v1.3h-2.3zM72.85 388.85h11.3v1.3h-11.3zM84.85 388.85h1.3v1.3h-1.3zM86.85 388.85h2.3v1.3h-2.3zM90.85 388.85h2.3v1.3h-2.3zM65.85 389.85h1.3v1.3h-1.3zM67.85 389.85h6.3v1.3h-6.3zM74.85 389.85h15.3v1.3h-15.3zM67.85 390.85h3.3v1.3h-3.3zM71.85 390.85h5.3v1.3h-5.3zM77.85 390.85h1.3v1.3h-1.3zM79.85 390.85h2.3v1.3h-2.3zM82.85 390.85h3.3v1.3h-3.3zM86.85 390.85h3.3v1.3h-3.3zM91.85 390.85h2.3v1.3h-2.3zM70.85 391.85h3.3v1.3h-3.3zM74.85 391.85h4.3v1.3h-4.3zM79.85 391.85h5.3v1.3h-5.3zM85.85 391.85h3.3v1.3h-3.3zM90.85 391.85h2.3v1.3h-2.3zM64.85 392.85h2.3v1.3h-2.3zM67.85 392.85h16.3v1.3h-16.3zM84.85 392.85h4.3v1.3h-4.3zM65.85 393.85h23.3v1.3h-23.3zM62.85 394.85h1.3v1.3h-1.3zM65.85 394.85h22.3v1.3h-22.3zM62.85 395.85h5.3v1.3h-5.3zM68.85 395.85h18.3v1.3h-18.3zM87.85 395.85h1.3v1.3h-1.3zM62.85 396.85h1.3v1.3h-1.3zM64.85 396.85h1.3v1.3h-1.3zM66.85 396.85h5.3v1.3h-5.3zM72.85 396.85h14.3v1.3h-14.3zM62.85 397.85h14.3v1.3h-14.3zM77.85 397.85h9.3v1.3h-9.3zM88.85 397.85h1.3v1.3h-1.3zM62.85 398.85h4.3v1.3h-4.3zM68.85 398.85h18.3v1.3h-18.3zM62.85 399.85h3.3v1.3h-3.3zM67.85 399.85h18.3v1.3h-18.3zM62.85 400.85h14.3v1.3h-14.3zM77.85 400.85h7.3v1.3h-7.3zM62.85 401.85h21.3v1.3h-21.3zM63.85 402.85h2.3v1.3h-2.3zM67.85 402.85h12.3v1.3h-12.3zM80.85 402.85h4.3v1.3h-4.3zM63.85 403.85h10.3v1.3h-10.3zM74.85 403.85h9.3v1.3h-9.3zM62.85 404.85h20.3v1.3h-20.3zM62.85 405.85h18.3v1.3h-18.3zM82.85 405.85h1.3v1.3h-1.3zM64.85 406.85h14.3v1.3h-14.3zM79.85 406.85h3.3v1.3h-3.3zM84.85 406.85h1.3v1.3h-1.3zM62.85 407.85h19.3v1.3h-19.3zM62.85 408.85h8.3v1.3h-8.3zM71.85 408.85h6.3v1.3h-6.3zM78.85 408.85h1.3v1.3h-1.3zM80.85 408.85h2.3v1.3h-2.3zM62.85 409.85h1.3v1.3h-1.3zM64.85 409.85h15.3v1.3h-15.3zM80.85 409.85h2.3v1.3h-2.3zM62.85 410.85h3.3v1.3h-3.3zM66.85 410.85h11.3v1.3h-11.3zM81.85 410.85h1.3v1.3h-1.3zM62.85 411.85h14.3v1.3h-14.3zM77.85 411.85h1.3v1.3h-1.3zM79.85 411.85h1.3v1.3h-1.3zM62.85 412.85h1.3v1.3h-1.3zM64.85 412.85h12.3v1.3h-12.3zM79.85 412.85h2.3v1.3h-2.3zM62.85 413.85h1.3v1.3h-1.3zM64.85 413.85h11.3v1.3h-11.3zM78.85 413.85h4.3v1.3h-4.3zM62.85 414.85h12.3v1.3h-12.3zM77.85 414.85h4.3v1.3h-4.3zM62.85 415.85h13.3v1.3h-13.3zM79.85 415.85h1.3v1.3h-1.3zM81.85 415.85h1.3v1.3h-1.3zM62.85 416.85h5.3v1.3h-5.3zM68.85 416.85h7.3v1.3h-7.3zM78.85 416.85h1.3v1.3h-1.3zM62.85 417.85h9.3v1.3h-9.3zM72.85 417.85h2.3v1.3h-2.3zM77.85 417.85h3.3v1.3h-3.3zM62.85 418.85h11.3v1.3h-11.3zM74.85 418.85h1.3v1.3h-1.3zM77.85 418.85h3.3v1.3h-3.3zM62.85 419.85h8.3v1.3h-8.3zM72.85 419.85h2.3v1.3h-2.3zM77.85 419.85h1.3v1.3h-1.3zM79.85 419.85h1.3v1.3h-1.3zM62.85 420.85h9.3v1.3h-9.3zM72.85 420.85h2.3v1.3h-2.3zM76.85 420.85h1.3v1.3h-1.3zM78.85 420.85h2.3v1.3h-2.3zM62.85 421.85h10.3v1.3h-10.3zM73.85 421.85h1.3v1.3h-1.3zM78.85 421.85h1.3v1.3h-1.3zM80.85 421.85h1.3v1.3h-1.3zM62.85 422.85h10.3v1.3h-10.3zM73.85 422.85h4.3v1.3h-4.3zM78.85 422.85h3.3v1.3h-3.3zM62.85 423.85h9.3v1.3h-9.3zM72.85 423.85h1.3v1.3h-1.3zM74.85 423.85h1.3v1.3h-1.3zM76.85 423.85h1.3v1.3h-1.3zM78.85 423.85h2.3v1.3h-2.3z" fill="#000"/>
<path d="M70.5 380.7h1v1h-1zM72.3 382.4h1v1h-1zM77.8 379.8h1v1h-1zM78.7 377.7h1v1h-1zM76.1 383.7h1v1h-1zM80.4 386.7h1v1h-1zM86.4 384.5h1v1h-1zM91.9 382.4h1v1h-1zM85 388.8h1v1h-1zM87.2 389.7h1v1h-1zM86.8 406.3h1v1h-1zM86.8 408.5h1v1h-1zM87.6 410.2h1v1h-1zM86.8 420.4h1v1h-1z" fill="#000"/>
<path d="M63 346V425.4H137" fill="none" stroke="#000" stroke-width="1.5"/>
<path d="M60.8 419.42H63M68.57 425.4V428M60.8 415.93H63M71.83 425.4V428M60.8 413.45H63M74.14 425.4V428M60.8 411.53H63M75.93 425.4V428M60.8 409.95H63M77.4 425.4V428M60.8 408.62H63M78.63 425.4V428M60.8 407.47H63M79.71 425.4V428M60.8 406.46H63M80.65 425.4V428M60.2 405.55H66.2M81.5 422.2V425.9M60.8 399.57H63M87.07 425.4V428M60.8 396.08H63M90.33 425.4V428M60.8 393.6H63M92.64 425.4V428M60.8 391.68H63M94.43 425.4V428M60.8 390.1H63M95.9 425.4V428M60.8 388.77H63M97.13 425.4V428M60.8 387.62H63M98.21 425.4V428M60.8 386.61H63M99.15 425.4V428M60.2 385.7H66.2M100 422.2V425.9M60.8 379.72H63M105.57 425.4V428M60.8 376.23H63M108.83 425.4V428M60.8 373.75H63M111.14 425.4V428M60.8 371.83H63M112.93 425.4V428M60.8 370.25H63M114.4 425.4V428M60.8 368.92H63M115.63 425.4V428M60.8 367.77H63M116.71 425.4V428M60.8 366.76H63M117.65 425.4V428M60.2 365.85H66.2M118.5 422.2V425.9M60.8 359.87H63M124.07 425.4V428M60.8 356.38H63M127.33 425.4V428M60.8 353.9H63M129.64 425.4V428M60.8 351.98H63M131.43 425.4V428M60.8 350.4H63M132.9 425.4V428M60.8 349.07H63M134.13 425.4V428M60.8 347.92H63M135.21 425.4V428M60.8 346.91H63M136.15 425.4V428M60.2 346H66.2" stroke="#000" stroke-width="1.05"/>
<path d="M136.7 422.2V428.4" stroke="#000" stroke-width="1.7"/>
<path d="M82.4 346L82.4 425.4" stroke="#000" stroke-width="1"/>
<path d="M82.4 399.5L128 399.5" stroke="#000" stroke-width="1"/>
<text x="87.01" y="344" font-size="10.6" font-weight="bold" textLength="27.29" lengthAdjust="spacingAndGlyphs">U937</text>
<text x="85.64" y="457.4" font-size="11.03" font-weight="bold" textLength="32.12" lengthAdjust="spacingAndGlyphs">CD 52</text>
<text transform="translate(42.2 405.28) rotate(-90)" font-size="11.59" font-weight="bold" textLength="40.16" lengthAdjust="spacingAndGlyphs">CD 11b</text>
<text x="42.51" y="409.35" font-size="10.6" font-weight="normal" textLength="11.49" lengthAdjust="spacingAndGlyphs">10</text>
<text x="53.94" y="404.35" font-size="7.41" font-weight="normal" textLength="4.12" lengthAdjust="spacingAndGlyphs">1</text>
<text x="42.51" y="389.5" font-size="10.6" font-weight="normal" textLength="11.49" lengthAdjust="spacingAndGlyphs">10</text>
<text x="54.13" y="384.5" font-size="7.3" font-weight="normal" textLength="4.06" lengthAdjust="spacingAndGlyphs">2</text>
<text x="42.51" y="369.65" font-size="10.6" font-weight="normal" textLength="11.49" lengthAdjust="spacingAndGlyphs">10</text>
<text x="54.22" y="364.65" font-size="7.3" font-weight="normal" textLength="4.06" lengthAdjust="spacingAndGlyphs">3</text>
<text x="42.51" y="349.8" font-size="10.6" font-weight="normal" textLength="11.49" lengthAdjust="spacingAndGlyphs">10</text>
<text x="54.33" y="344.8" font-size="7.41" font-weight="normal" textLength="4.12" lengthAdjust="spacingAndGlyphs">4</text>
<text x="57.21" y="440.5" font-size="10.88" font-weight="normal" textLength="11.6" lengthAdjust="spacingAndGlyphs">10</text>
<text x="69.83" y="434.7" font-size="6.87" font-weight="normal" textLength="3.82" lengthAdjust="spacingAndGlyphs">0</text>
<text x="75.71" y="440.5" font-size="10.88" font-weight="normal" textLength="11.6" lengthAdjust="spacingAndGlyphs">10</text>
<text x="88.07" y="434.7" font-size="6.98" font-weight="normal" textLength="3.88" lengthAdjust="spacingAndGlyphs">1</text>
<text x="94.21" y="440.5" font-size="10.88" font-weight="normal" textLength="11.6" lengthAdjust="spacingAndGlyphs">10</text>
<text x="106.75" y="434.7" font-size="6.87" font-weight="normal" textLength="3.82" lengthAdjust="spacingAndGlyphs">2</text>
<text x="112.71" y="440.5" font-size="10.88" font-weight="normal" textLength="11.6" lengthAdjust="spacingAndGlyphs">10</text>
<text x="125.34" y="434.7" font-size="6.87" font-weight="normal" textLength="3.82" lengthAdjust="spacingAndGlyphs">3</text>
<text x="131.6" y="440.5" font-size="11.03" font-weight="normal" textLength="8.7" lengthAdjust="spacingAndGlyphs">10</text>
<path d="M217.85 386.85h1.3v1.3h-1.3zM209.85 387.85h1.3v1.3h-1.3zM213.85 387.85h3.3v1.3h-3.3zM212.85 388.85h4.3v1.3h-4.3zM211.85 389.85h7.3v1.3h-7.3zM207.85 390.85h1.3v1.3h-1.3zM210.85 390.85h7.3v1.3h-7.3zM208.85 391.85h7.3v1.3h-7.3zM217.85 391.85h2.3v1.3h-2.3zM207.85 392.85h8.3v1.3h-8.3zM202.85 393.85h1.3v1.3h-1.3zM204.85 393.85h8.3v1.3h-8.3zM214.85 393.85h1.3v1.3h-1.3zM202.85 394.85h10.3v1.3h-10.3zM202.85 395.85h1.3v1.3h-1.3zM204.85 395.85h7.3v1.3h-7.3zM200.85 396.85h11.3v1.3h-11.3zM199.85 397.85h10.3v1.3h-10.3zM195.85 398.85h1.3v1.3h-1.3zM198.85 398.85h7.3v1.3h-7.3zM206.85 398.85h2.3v1.3h-2.3zM197.85 399.85h11.3v1.3h-11.3zM194.85 400.85h12.3v1.3h-12.3zM194.85 401.85h6.3v1.3h-6.3zM201.85 401.85h2.3v1.3h-2.3zM204.85 401.85h1.3v1.3h-1.3zM206.85 401.85h1.3v1.3h-1.3zM192.85 402.85h14.3v1.3h-14.3zM191.85 403.85h1.3v1.3h-1.3zM193.85 403.85h10.3v1.3h-10.3zM205.85 403.85h1.3v1.3h-1.3zM186.85 404.85h1.3v1.3h-1.3zM191.85 404.85h7.3v1.3h-7.3zM200.85 404.85h3.3v1.3h-3.3zM190.85 405.85h14.3v1.3h-14.3zM187.85 406.85h1.3v1.3h-1.3zM189.85 406.85h1.3v1.3h-1.3zM191.85 406.85h3.3v1.3h-3.3zM195.85 406.85h6.3v1.3h-6.3zM202.85 406.85h1.3v1.3h-1.3zM187.85 407.85h4.3v1.3h-4.3zM192.85 407.85h6.3v1.3h-6.3zM199.85 407.85h2.3v1.3h-2.3zM203.85 407.85h1.3v1.3h-1.3zM185.85 408.85h1.3v1.3h-1.3zM187.85 408.85h14.3v1.3h-14.3zM206.85 408.85h1.3v1.3h-1.3zM183.85 409.85h1.3v1.3h-1.3zM186.85 409.85h8.3v1.3h-8.3zM195.85 409.85h5.3v1.3h-5.3zM201.85 409.85h1.3v1.3h-1.3zM203.85 409.85h1.3v1.3h-1.3zM184.85 410.85h11.3v1.3h-11.3zM196.85 410.85h6.3v1.3h-6.3zM182.85 411.85h1.3v1.3h-1.3zM184.85 411.85h1.3v1.3h-1.3zM186.85 411.85h3.3v1.3h-3.3zM190.85 411.85h7.3v1.3h-7.3zM198.85 411.85h2.3v1.3h-2.3zM201.85 411.85h1.3v1.3h-1.3zM184.85 412.85h15.3v1.3h-15.3zM202.85 412.85h1.3v1.3h-1.3zM183.85 413.85h5.3v1.3h-5.3zM189.85 413.85h8.3v1.3h-8.3zM201.85 413.85h1.3v1.3h-1.3zM182.85 414.85h13.3v1.3h-13.3zM196.85 414.85h1.3v1.3h-1.3zM182.85 415.85h10.3v1.3h-10.3zM193.85 415.85h3.3v1.3h-3.3zM182.85 416.85h3.3v1.3h-3.3zM186.85 416.85h9.3v1.3h-9.3zM182.85 417.85h12.3v1.3h-12.3zM195.85 417.85h1.3v1.3h-1.3zM182.85 418.85h12.3v1.3h-12.3zM182.85 419.85h1.3v1.3h-1.3zM184.85 419.85h9.3v1.3h-9.3zM182.85 420.85h9.3v1.3h-9.3zM192.85 420.85h1.3v1.3h-1.3zM182.85 421.85h10.3v1.3h-10.3zM182.85 422.85h10.3v1.3h-10.3zM182.85 423.85h12.3v1.3h-12.3z" fill="#000"/>
<path d="M210.21 401.64h1.1v1.1h-1.1zM214.48 403.35h1.1v1.1h-1.1zM217.04 403.35h1.1v1.1h-1.1zM219.61 405.06h1.1v1.1h-1.1zM221.32 403.35h1.1v1.1h-1.1zM224.74 403.35h1.1v1.1h-1.1zM215.33 406.77h1.1v1.1h-1.1zM217.9 408.48h1.1v1.1h-1.1zM210.21 410.19h1.1v1.1h-1.1zM211.91 411.04h1.1v1.1h-1.1zM212.77 413.61h1.1v1.1h-1.1zM215.33 415.32h1.1v1.1h-1.1zM217.9 411.9h1.1v1.1h-1.1zM224.74 407.62h1.1v1.1h-1.1zM209.35 421.3h1.1v1.1h-1.1zM219.61 422.15h1.1v1.1h-1.1zM202.51 422.58h1.1v1.1h-1.1zM199.09 388.82h1.1v1.1h-1.1zM219.61 387.11h1.1v1.1h-1.1zM223.03 381.13h1.1v1.1h-1.1zM223.88 381.98h1.1v1.1h-1.1zM209.35 391.38h1.1v1.1h-1.1zM206.79 393.09h1.1v1.1h-1.1zM203.37 393.95h1.1v1.1h-1.1zM190.55 401.64h1.1v1.1h-1.1zM185.85 402.92h1.1v1.1h-1.1zM193.11 405.06h1.1v1.1h-1.1zM224 381.2h1.1v1.1h-1.1zM228.9 378h1.1v1.1h-1.1zM237 369.9h1.1v1.1h-1.1zM251.5 353.7h1.1v1.1h-1.1zM238.6 417.5h1.1v1.1h-1.1zM226 383h1.1v1.1h-1.1zM231 376h1.1v1.1h-1.1z" fill="#000"/>
<path d="M183 347V424.8H258.3" fill="none" stroke="#000" stroke-width="1.5"/>
<path d="M180.8 418.94H183M188.67 424.8V427.4M180.8 415.52H183M191.98 424.8V427.4M180.8 413.09H183M194.33 424.8V427.4M180.8 411.21H183M196.16 424.8V427.4M180.8 409.66H183M197.65 424.8V427.4M180.8 408.36H183M198.91 424.8V427.4M180.8 407.23H183M200 424.8V427.4M180.8 406.24H183M200.96 424.8V427.4M180.2 405.35H186.2M201.82 421.6V425.3M180.8 399.49H183M207.49 424.8V427.4M180.8 396.07H183M210.81 424.8V427.4M180.8 393.64H183M213.16 424.8V427.4M180.8 391.76H183M214.98 424.8V427.4M180.8 390.21H183M216.47 424.8V427.4M180.8 388.91H183M217.73 424.8V427.4M180.8 387.78H183M218.83 424.8V427.4M180.8 386.79H183M219.79 424.8V427.4M180.2 385.9H186.2M220.65 421.6V425.3M180.8 380.04H183M226.32 424.8V427.4M180.8 376.62H183M229.63 424.8V427.4M180.8 374.19H183M231.98 424.8V427.4M180.8 372.31H183M233.81 424.8V427.4M180.8 370.76H183M235.3 424.8V427.4M180.8 369.46H183M236.56 424.8V427.4M180.8 368.33H183M237.65 424.8V427.4M180.8 367.34H183M238.61 424.8V427.4M180.2 366.45H186.2M239.48 421.6V425.3M180.8 360.59H183M245.14 424.8V427.4M180.8 357.17H183M248.46 424.8V427.4M180.8 354.74H183M250.81 424.8V427.4M180.8 352.86H183M252.63 424.8V427.4M180.8 351.31H183M254.12 424.8V427.4M180.8 350.01H183M255.38 424.8V427.4M180.8 348.88H183M256.48 424.8V427.4M180.8 347.89H183M257.44 424.8V427.4M180.2 347H186.2" stroke="#000" stroke-width="1.05"/>
<path d="M258 421.6V427.8" stroke="#000" stroke-width="1.7"/>
<path d="M206.3 398.2L206.3 424.8" stroke="#000" stroke-width="1"/>
<path d="M183 398.2L259.5 398.2" stroke="#000" stroke-width="1"/>
<text x="207.19" y="344" font-size="10.6" font-weight="bold" textLength="28.79" lengthAdjust="spacingAndGlyphs">K562</text>
<text x="205.49" y="457.5" font-size="10.74" font-weight="bold" textLength="35" lengthAdjust="spacingAndGlyphs">CD 52</text>
<text transform="translate(163.2 405.17) rotate(-90)" font-size="12.14" font-weight="bold" textLength="39.85" lengthAdjust="spacingAndGlyphs">CD 11b</text>
<text x="162.41" y="409.15" font-size="10.6" font-weight="normal" textLength="11.49" lengthAdjust="spacingAndGlyphs">10</text>
<text x="173.84" y="404.15" font-size="7.41" font-weight="normal" textLength="4.12" lengthAdjust="spacingAndGlyphs">1</text>
<text x="162.41" y="389.7" font-size="10.6" font-weight="normal" textLength="11.49" lengthAdjust="spacingAndGlyphs">10</text>
<text x="174.03" y="384.7" font-size="7.3" font-weight="normal" textLength="4.06" lengthAdjust="spacingAndGlyphs">2</text>
<text x="162.41" y="370.25" font-size="10.6" font-weight="normal" textLength="11.49" lengthAdjust="spacingAndGlyphs">10</text>
<text x="174.12" y="365.25" font-size="7.3" font-weight="normal" textLength="4.06" lengthAdjust="spacingAndGlyphs">3</text>
<text x="162.41" y="350.8" font-size="10.6" font-weight="normal" textLength="11.49" lengthAdjust="spacingAndGlyphs">10</text>
<text x="174.23" y="345.8" font-size="7.41" font-weight="normal" textLength="4.12" lengthAdjust="spacingAndGlyphs">4</text>
<text x="178.31" y="439.9" font-size="10.88" font-weight="normal" textLength="11.6" lengthAdjust="spacingAndGlyphs">10</text>
<text x="190.93" y="434.1" font-size="6.87" font-weight="normal" textLength="3.82" lengthAdjust="spacingAndGlyphs">0</text>
<text x="197.13" y="439.9" font-size="10.88" font-weight="normal" textLength="11.6" lengthAdjust="spacingAndGlyphs">10</text>
<text x="209.49" y="434.1" font-size="6.98" font-weight="normal" textLength="3.88" lengthAdjust="spacingAndGlyphs">1</text>
<text x="215.96" y="439.9" font-size="10.88" font-weight="normal" textLength="11.6" lengthAdjust="spacingAndGlyphs">10</text>
<text x="228.5" y="434.1" font-size="6.87" font-weight="normal" textLength="3.82" lengthAdjust="spacingAndGlyphs">2</text>
<text x="234.78" y="439.9" font-size="10.88" font-weight="normal" textLength="11.6" lengthAdjust="spacingAndGlyphs">10</text>
<text x="247.41" y="434.1" font-size="6.87" font-weight="normal" textLength="3.82" lengthAdjust="spacingAndGlyphs">3</text>
<text x="252.91" y="439.9" font-size="10.88" font-weight="normal" textLength="11.6" lengthAdjust="spacingAndGlyphs">10</text>
<path d="M330.85 371.85h1.3v1.3h-1.3zM329.85 372.85h1.3v1.3h-1.3zM340.85 372.85h1.3v1.3h-1.3zM325.85 373.85h1.3v1.3h-1.3zM327.85 373.85h2.3v1.3h-2.3zM332.85 373.85h1.3v1.3h-1.3zM330.85 374.85h1.3v1.3h-1.3zM333.85 374.85h1.3v1.3h-1.3zM324.85 375.85h1.3v1.3h-1.3zM326.85 375.85h1.3v1.3h-1.3zM332.85 375.85h1.3v1.3h-1.3zM336.85 375.85h1.3v1.3h-1.3zM338.85 375.85h1.3v1.3h-1.3zM326.85 376.85h1.3v1.3h-1.3zM338.85 376.85h1.3v1.3h-1.3zM323.85 377.85h1.3v1.3h-1.3zM328.85 377.85h1.3v1.3h-1.3zM336.85 377.85h1.3v1.3h-1.3zM338.85 377.85h1.3v1.3h-1.3zM343.85 377.85h1.3v1.3h-1.3zM325.85 378.85h2.3v1.3h-2.3zM329.85 378.85h1.3v1.3h-1.3zM331.85 378.85h1.3v1.3h-1.3zM333.85 378.85h1.3v1.3h-1.3zM335.85 378.85h1.3v1.3h-1.3zM337.85 378.85h1.3v1.3h-1.3zM307.85 379.85h1.3v1.3h-1.3zM326.85 379.85h1.3v1.3h-1.3zM329.85 379.85h1.3v1.3h-1.3zM332.85 379.85h1.3v1.3h-1.3zM321.85 380.85h1.3v1.3h-1.3zM329.85 380.85h1.3v1.3h-1.3zM336.85 380.85h1.3v1.3h-1.3zM341.85 380.85h1.3v1.3h-1.3zM326.85 381.85h2.3v1.3h-2.3zM333.85 381.85h1.3v1.3h-1.3zM335.85 381.85h1.3v1.3h-1.3zM337.85 381.85h3.3v1.3h-3.3zM306.85 382.85h1.3v1.3h-1.3zM332.85 382.85h2.3v1.3h-2.3zM336.85 382.85h1.3v1.3h-1.3zM339.85 382.85h2.3v1.3h-2.3zM323.85 383.85h1.3v1.3h-1.3zM330.85 383.85h1.3v1.3h-1.3zM338.85 383.85h1.3v1.3h-1.3zM316.85 384.85h1.3v1.3h-1.3zM327.85 384.85h1.3v1.3h-1.3zM329.85 384.85h2.3v1.3h-2.3zM337.85 384.85h2.3v1.3h-2.3zM329.85 385.85h3.3v1.3h-3.3zM333.85 385.85h1.3v1.3h-1.3zM335.85 385.85h1.3v1.3h-1.3zM339.85 385.85h1.3v1.3h-1.3zM321.85 386.85h1.3v1.3h-1.3zM328.85 386.85h2.3v1.3h-2.3zM332.85 386.85h1.3v1.3h-1.3zM335.85 386.85h1.3v1.3h-1.3zM338.85 386.85h1.3v1.3h-1.3zM344.85 386.85h1.3v1.3h-1.3zM319.85 387.85h1.3v1.3h-1.3zM325.85 387.85h1.3v1.3h-1.3zM328.85 387.85h2.3v1.3h-2.3zM333.85 387.85h2.3v1.3h-2.3zM327.85 388.85h2.3v1.3h-2.3zM331.85 388.85h1.3v1.3h-1.3zM336.85 388.85h3.3v1.3h-3.3zM344.85 388.85h1.3v1.3h-1.3zM319.85 389.85h1.3v1.3h-1.3zM323.85 389.85h1.3v1.3h-1.3zM327.85 389.85h2.3v1.3h-2.3zM333.85 389.85h1.3v1.3h-1.3zM335.85 389.85h1.3v1.3h-1.3zM339.85 389.85h1.3v1.3h-1.3zM341.85 389.85h2.3v1.3h-2.3zM344.85 389.85h1.3v1.3h-1.3zM348.85 389.85h1.3v1.3h-1.3zM312.85 390.85h1.3v1.3h-1.3zM321.85 390.85h1.3v1.3h-1.3zM324.85 390.85h1.3v1.3h-1.3zM327.85 390.85h1.3v1.3h-1.3zM329.85 390.85h2.3v1.3h-2.3zM332.85 390.85h4.3v1.3h-4.3zM342.85 390.85h2.3v1.3h-2.3zM345.85 390.85h1.3v1.3h-1.3zM304.85 391.85h1.3v1.3h-1.3zM311.85 391.85h1.3v1.3h-1.3zM317.85 391.85h2.3v1.3h-2.3zM321.85 391.85h1.3v1.3h-1.3zM323.85 391.85h1.3v1.3h-1.3zM325.85 391.85h4.3v1.3h-4.3zM331.85 391.85h1.3v1.3h-1.3zM333.85 391.85h2.3v1.3h-2.3zM317.85 392.85h1.3v1.3h-1.3zM321.85 392.85h1.3v1.3h-1.3zM323.85 392.85h1.3v1.3h-1.3zM325.85 392.85h3.3v1.3h-3.3zM331.85 392.85h8.3v1.3h-8.3zM343.85 392.85h1.3v1.3h-1.3zM345.85 392.85h1.3v1.3h-1.3zM312.85 393.85h1.3v1.3h-1.3zM314.85 393.85h1.3v1.3h-1.3zM319.85 393.85h3.3v1.3h-3.3zM323.85 393.85h3.3v1.3h-3.3zM328.85 393.85h7.3v1.3h-7.3zM336.85 393.85h1.3v1.3h-1.3zM338.85 393.85h3.3v1.3h-3.3zM343.85 393.85h1.3v1.3h-1.3zM348.85 393.85h1.3v1.3h-1.3zM312.85 394.85h1.3v1.3h-1.3zM319.85 394.85h2.3v1.3h-2.3zM322.85 394.85h1.3v1.3h-1.3zM327.85 394.85h1.3v1.3h-1.3zM330.85 394.85h2.3v1.3h-2.3zM333.85 394.85h3.3v1.3h-3.3zM339.85 394.85h2.3v1.3h-2.3zM342.85 394.85h1.3v1.3h-1.3zM346.85 394.85h1.3v1.3h-1.3zM311.85 395.85h1.3v1.3h-1.3zM313.85 395.85h1.3v1.3h-1.3zM318.85 395.85h5.3v1.3h-5.3zM324.85 395.85h3.3v1.3h-3.3zM328.85 395.85h2.3v1.3h-2.3zM332.85 395.85h2.3v1.3h-2.3zM336.85 395.85h2.3v1.3h-2.3zM340.85 395.85h1.3v1.3h-1.3zM342.85 395.85h2.3v1.3h-2.3zM347.85 395.85h2.3v1.3h-2.3zM303.85 396.85h1.3v1.3h-1.3zM308.85 396.85h2.3v1.3h-2.3zM316.85 396.85h1.3v1.3h-1.3zM318.85 396.85h4.3v1.3h-4.3zM323.85 396.85h1.3v1.3h-1.3zM326.85 396.85h3.3v1.3h-3.3zM331.85 396.85h2.3v1.3h-2.3zM335.85 396.85h3.3v1.3h-3.3zM339.85 396.85h1.3v1.3h-1.3zM341.85 396.85h1.3v1.3h-1.3zM343.85 396.85h1.3v1.3h-1.3zM349.85 396.85h1.3v1.3h-1.3zM308.85 397.85h1.3v1.3h-1.3zM310.85 397.85h1.3v1.3h-1.3zM314.85 397.85h3.3v1.3h-3.3zM319.85 397.85h5.3v1.3h-5.3zM326.85 397.85h1.3v1.3h-1.3zM328.85 397.85h11.3v1.3h-11.3zM342.85 397.85h1.3v1.3h-1.3zM344.85 397.85h1.3v1.3h-1.3zM346.85 397.85h1.3v1.3h-1.3zM310.85 398.85h1.3v1.3h-1.3zM312.85 398.85h1.3v1.3h-1.3zM318.85 398.85h2.3v1.3h-2.3zM321.85 398.85h3.3v1.3h-3.3zM325.85 398.85h1.3v1.3h-1.3zM327.85 398.85h1.3v1.3h-1.3zM329.85 398.85h3.3v1.3h-3.3zM333.85 398.85h1.3v1.3h-1.3zM336.85 398.85h1.3v1.3h-1.3zM338.85 398.85h1.3v1.3h-1.3zM343.85 398.85h1.3v1.3h-1.3zM349.85 398.85h1.3v1.3h-1.3zM306.85 399.85h1.3v1.3h-1.3zM311.85 399.85h2.3v1.3h-2.3zM315.85 399.85h7.3v1.3h-7.3zM323.85 399.85h3.3v1.3h-3.3zM327.85 399.85h8.3v1.3h-8.3zM336.85 399.85h1.3v1.3h-1.3zM342.85 399.85h1.3v1.3h-1.3zM344.85 399.85h5.3v1.3h-5.3zM302.85 400.85h1.3v1.3h-1.3zM311.85 400.85h1.3v1.3h-1.3zM313.85 400.85h20.3v1.3h-20.3zM335.85 400.85h3.3v1.3h-3.3zM346.85 400.85h1.3v1.3h-1.3zM349.85 400.85h1.3v1.3h-1.3zM352.85 400.85h1.3v1.3h-1.3zM303.85 401.85h1.3v1.3h-1.3zM310.85 401.85h2.3v1.3h-2.3zM313.85 401.85h4.3v1.3h-4.3zM318.85 401.85h5.3v1.3h-5.3zM324.85 401.85h2.3v1.3h-2.3zM327.85 401.85h7.3v1.3h-7.3zM335.85 401.85h2.3v1.3h-2.3zM338.85 401.85h2.3v1.3h-2.3zM341.85 401.85h1.3v1.3h-1.3zM344.85 401.85h1.3v1.3h-1.3zM347.85 401.85h1.3v1.3h-1.3zM303.85 402.85h1.3v1.3h-1.3zM305.85 402.85h1.3v1.3h-1.3zM307.85 402.85h1.3v1.3h-1.3zM309.85 402.85h1.3v1.3h-1.3zM311.85 402.85h2.3v1.3h-2.3zM314.85 402.85h21.3v1.3h-21.3zM336.85 402.85h2.3v1.3h-2.3zM339.85 402.85h1.3v1.3h-1.3zM341.85 402.85h1.3v1.3h-1.3zM306.85 403.85h1.3v1.3h-1.3zM309.85 403.85h1.3v1.3h-1.3zM314.85 403.85h10.3v1.3h-10.3zM325.85 403.85h14.3v1.3h-14.3zM343.85 403.85h1.3v1.3h-1.3zM348.85 403.85h3.3v1.3h-3.3zM302.85 404.85h1.3v1.3h-1.3zM308.85 404.85h1.3v1.3h-1.3zM310.85 404.85h7.3v1.3h-7.3zM318.85 404.85h10.3v1.3h-10.3zM329.85 404.85h6.3v1.3h-6.3zM336.85 404.85h3.3v1.3h-3.3zM340.85 404.85h1.3v1.3h-1.3zM343.85 404.85h1.3v1.3h-1.3zM345.85 404.85h1.3v1.3h-1.3zM348.85 404.85h1.3v1.3h-1.3zM306.85 405.85h1.3v1.3h-1.3zM308.85 405.85h5.3v1.3h-5.3zM315.85 405.85h1.3v1.3h-1.3zM317.85 405.85h23.3v1.3h-23.3zM342.85 405.85h1.3v1.3h-1.3zM344.85 405.85h1.3v1.3h-1.3zM347.85 405.85h1.3v1.3h-1.3zM349.85 405.85h1.3v1.3h-1.3zM356.85 405.85h1.3v1.3h-1.3zM305.85 406.85h1.3v1.3h-1.3zM307.85 406.85h18.3v1.3h-18.3zM326.85 406.85h5.3v1.3h-5.3zM332.85 406.85h4.3v1.3h-4.3zM338.85 406.85h4.3v1.3h-4.3zM343.85 406.85h1.3v1.3h-1.3zM345.85 406.85h1.3v1.3h-1.3zM348.85 406.85h1.3v1.3h-1.3zM350.85 406.85h1.3v1.3h-1.3zM352.85 406.85h1.3v1.3h-1.3zM303.85 407.85h1.3v1.3h-1.3zM306.85 407.85h1.3v1.3h-1.3zM308.85 407.85h18.3v1.3h-18.3zM328.85 407.85h5.3v1.3h-5.3zM334.85 407.85h5.3v1.3h-5.3zM340.85 407.85h4.3v1.3h-4.3zM345.85 407.85h2.3v1.3h-2.3zM348.85 407.85h1.3v1.3h-1.3zM352.85 407.85h1.3v1.3h-1.3zM308.85 408.85h2.3v1.3h-2.3zM311.85 408.85h28.3v1.3h-28.3zM340.85 408.85h2.3v1.3h-2.3zM343.85 408.85h4.3v1.3h-4.3zM351.85 408.85h1.3v1.3h-1.3zM304.85 409.85h1.3v1.3h-1.3zM307.85 409.85h1.3v1.3h-1.3zM310.85 409.85h31.3v1.3h-31.3zM342.85 409.85h2.3v1.3h-2.3zM346.85 409.85h1.3v1.3h-1.3zM353.85 409.85h1.3v1.3h-1.3zM307.85 410.85h16.3v1.3h-16.3zM324.85 410.85h13.3v1.3h-13.3zM338.85 410.85h3.3v1.3h-3.3zM342.85 410.85h1.3v1.3h-1.3zM344.85 410.85h2.3v1.3h-2.3zM347.85 410.85h1.3v1.3h-1.3zM350.85 410.85h1.3v1.3h-1.3zM306.85 411.85h1.3v1.3h-1.3zM309.85 411.85h4.3v1.3h-4.3zM314.85 411.85h6.3v1.3h-6.3zM321.85 411.85h19.3v1.3h-19.3zM341.85 411.85h2.3v1.3h-2.3zM344.85 411.85h3.3v1.3h-3.3zM350.85 411.85h1.3v1.3h-1.3zM302.85 412.85h1.3v1.3h-1.3zM304.85 412.85h1.3v1.3h-1.3zM306.85 412.85h32.3v1.3h-32.3zM339.85 412.85h1.3v1.3h-1.3zM341.85 412.85h3.3v1.3h-3.3zM348.85 412.85h1.3v1.3h-1.3zM354.85 412.85h1.3v1.3h-1.3zM305.85 413.85h1.3v1.3h-1.3zM307.85 413.85h26.3v1.3h-26.3zM334.85 413.85h8.3v1.3h-8.3zM343.85 413.85h3.3v1.3h-3.3zM303.85 414.85h1.3v1.3h-1.3zM308.85 414.85h34.3v1.3h-34.3zM344.85 414.85h1.3v1.3h-1.3zM346.85 414.85h2.3v1.3h-2.3zM349.85 414.85h2.3v1.3h-2.3zM354.85 414.85h1.3v1.3h-1.3zM307.85 415.85h34.3v1.3h-34.3zM343.85 415.85h1.3v1.3h-1.3zM346.85 415.85h4.3v1.3h-4.3zM353.85 415.85h1.3v1.3h-1.3zM306.85 416.85h37.3v1.3h-37.3zM345.85 416.85h1.3v1.3h-1.3zM347.85 416.85h3.3v1.3h-3.3zM306.85 417.85h1.3v1.3h-1.3zM309.85 417.85h34.3v1.3h-34.3zM344.85 417.85h1.3v1.3h-1.3zM350.85 417.85h1.3v1.3h-1.3zM304.85 418.85h37.3v1.3h-37.3zM342.85 418.85h3.3v1.3h-3.3zM302.85 419.85h1.3v1.3h-1.3zM306.85 419.85h40.3v1.3h-40.3zM304.85 420.85h34.3v1.3h-34.3zM339.85 420.85h7.3v1.3h-7.3z" fill="#000"/>
<path d="M377 347.4h1v1h-1zM377 350.7h1v1h-1zM370.7 361.5h1v1h-1zM367.4 367.3h1v1h-1zM376.5 397h1v1h-1zM348 378h1v1h-1zM353 385.5h1v1h-1zM354.7 397h1v1h-1z" fill="#000"/>
<path d="M302.2 346.4V422.6H377" fill="none" stroke="#000" stroke-width="1.5"/>
<path d="M300 416.87H302.2M307.83 422.6V425.2M300 413.51H302.2M311.12 422.6V425.2M300 411.13H302.2M313.46 422.6V425.2M300 409.28H302.2M315.27 422.6V425.2M300 407.78H302.2M316.75 422.6V425.2M300 406.5H302.2M318 422.6V425.2M300 405.4H302.2M319.09 422.6V425.2M300 404.42H302.2M320.04 422.6V425.2M299.4 403.55H305.4M320.9 419.4V423.1M300 397.82H302.2M326.53 422.6V425.2M300 394.46H302.2M329.82 422.6V425.2M300 392.08H302.2M332.16 422.6V425.2M300 390.23H302.2M333.97 422.6V425.2M300 388.73H302.2M335.45 422.6V425.2M300 387.45H302.2M336.7 422.6V425.2M300 386.35H302.2M337.79 422.6V425.2M300 385.37H302.2M338.74 422.6V425.2M299.4 384.5H305.4M339.6 419.4V423.1M300 378.77H302.2M345.23 422.6V425.2M300 375.41H302.2M348.52 422.6V425.2M300 373.03H302.2M350.86 422.6V425.2M300 371.18H302.2M352.67 422.6V425.2M300 369.68H302.2M354.15 422.6V425.2M300 368.4H302.2M355.4 422.6V425.2M300 367.3H302.2M356.49 422.6V425.2M300 366.32H302.2M357.44 422.6V425.2M299.4 365.45H305.4M358.3 419.4V423.1M300 359.72H302.2M363.93 422.6V425.2M300 356.36H302.2M367.22 422.6V425.2M300 353.98H302.2M369.56 422.6V425.2M300 352.13H302.2M371.37 422.6V425.2M300 350.63H302.2M372.85 422.6V425.2M300 349.35H302.2M374.1 422.6V425.2M300 348.25H302.2M375.19 422.6V425.2M300 347.27H302.2M376.14 422.6V425.2M299.4 346.4H305.4" stroke="#000" stroke-width="1.05"/>
<path d="M376.7 419.4V425.6" stroke="#000" stroke-width="1.7"/>
<path d="M337.4 346.4L337.4 422.6" stroke="#000" stroke-width="1"/>
<path d="M302.2 405.2L377 405.2" stroke="#000" stroke-width="1"/>
<text x="324.77" y="343.2" font-size="10.03" font-weight="bold" textLength="30.17" lengthAdjust="spacingAndGlyphs">HL-60</text>
<text x="325.07" y="455.2" font-size="10.03" font-weight="bold" textLength="29.85" lengthAdjust="spacingAndGlyphs">CD 52</text>
<text transform="translate(283.3 403.17) rotate(-90)" font-size="12.14" font-weight="bold" textLength="39.85" lengthAdjust="spacingAndGlyphs">CD 11b</text>
<text x="282.41" y="407.35" font-size="10.6" font-weight="normal" textLength="11.49" lengthAdjust="spacingAndGlyphs">10</text>
<text x="293.84" y="402.35" font-size="7.41" font-weight="normal" textLength="4.12" lengthAdjust="spacingAndGlyphs">1</text>
<text x="282.41" y="388.3" font-size="10.6" font-weight="normal" textLength="11.49" lengthAdjust="spacingAndGlyphs">10</text>
<text x="294.03" y="383.3" font-size="7.3" font-weight="normal" textLength="4.06" lengthAdjust="spacingAndGlyphs">2</text>
<text x="282.41" y="369.25" font-size="10.6" font-weight="normal" textLength="11.49" lengthAdjust="spacingAndGlyphs">10</text>
<text x="294.12" y="364.25" font-size="7.3" font-weight="normal" textLength="4.06" lengthAdjust="spacingAndGlyphs">3</text>
<text x="282.41" y="350.2" font-size="10.6" font-weight="normal" textLength="11.49" lengthAdjust="spacingAndGlyphs">10</text>
<text x="294.23" y="345.2" font-size="7.41" font-weight="normal" textLength="4.12" lengthAdjust="spacingAndGlyphs">4</text>
<text x="296.91" y="438.7" font-size="10.88" font-weight="normal" textLength="11.6" lengthAdjust="spacingAndGlyphs">10</text>
<text x="309.53" y="432.9" font-size="6.87" font-weight="normal" textLength="3.82" lengthAdjust="spacingAndGlyphs">0</text>
<text x="315.61" y="438.7" font-size="10.88" font-weight="normal" textLength="11.6" lengthAdjust="spacingAndGlyphs">10</text>
<text x="327.97" y="432.9" font-size="6.98" font-weight="normal" textLength="3.88" lengthAdjust="spacingAndGlyphs">1</text>
<text x="334.31" y="438.7" font-size="10.88" font-weight="normal" textLength="11.6" lengthAdjust="spacingAndGlyphs">10</text>
<text x="346.85" y="432.9" font-size="6.87" font-weight="normal" textLength="3.82" lengthAdjust="spacingAndGlyphs">2</text>
<text x="353.01" y="438.7" font-size="10.88" font-weight="normal" textLength="11.6" lengthAdjust="spacingAndGlyphs">10</text>
<text x="365.64" y="432.9" font-size="6.87" font-weight="normal" textLength="3.82" lengthAdjust="spacingAndGlyphs">3</text>
<text x="371.71" y="438.7" font-size="10.88" font-weight="normal" textLength="11.6" lengthAdjust="spacingAndGlyphs">10</text>
<text x="384.44" y="432.9" font-size="6.98" font-weight="normal" textLength="3.88" lengthAdjust="spacingAndGlyphs">4</text>
<path d="M459.85 377.85h1.3v1.3h-1.3zM465.85 379.85h1.3v1.3h-1.3zM447.85 380.85h1.3v1.3h-1.3zM467.85 380.85h1.3v1.3h-1.3zM445.85 381.85h1.3v1.3h-1.3zM459.85 382.85h1.3v1.3h-1.3zM459.85 383.85h1.3v1.3h-1.3zM451.85 384.85h1.3v1.3h-1.3zM456.85 384.85h1.3v1.3h-1.3zM459.85 384.85h1.3v1.3h-1.3zM444.85 385.85h1.3v1.3h-1.3zM448.85 385.85h1.3v1.3h-1.3zM452.85 385.85h2.3v1.3h-2.3zM455.85 385.85h1.3v1.3h-1.3zM458.85 385.85h1.3v1.3h-1.3zM460.85 385.85h1.3v1.3h-1.3zM452.85 386.85h1.3v1.3h-1.3zM456.85 386.85h3.3v1.3h-3.3zM460.85 386.85h3.3v1.3h-3.3zM465.85 386.85h1.3v1.3h-1.3zM447.85 387.85h1.3v1.3h-1.3zM452.85 387.85h1.3v1.3h-1.3zM455.85 387.85h7.3v1.3h-7.3zM435.85 388.85h1.3v1.3h-1.3zM446.85 388.85h2.3v1.3h-2.3zM452.85 388.85h2.3v1.3h-2.3zM455.85 388.85h6.3v1.3h-6.3zM462.85 388.85h1.3v1.3h-1.3zM467.85 388.85h1.3v1.3h-1.3zM433.85 389.85h1.3v1.3h-1.3zM447.85 389.85h1.3v1.3h-1.3zM451.85 389.85h8.3v1.3h-8.3zM460.85 389.85h3.3v1.3h-3.3zM464.85 389.85h1.3v1.3h-1.3zM467.85 389.85h1.3v1.3h-1.3zM473.85 389.85h1.3v1.3h-1.3zM429.85 390.85h1.3v1.3h-1.3zM431.85 390.85h1.3v1.3h-1.3zM444.85 390.85h1.3v1.3h-1.3zM448.85 390.85h2.3v1.3h-2.3zM451.85 390.85h11.3v1.3h-11.3zM463.85 390.85h1.3v1.3h-1.3zM466.85 390.85h1.3v1.3h-1.3zM430.85 391.85h1.3v1.3h-1.3zM435.85 391.85h2.3v1.3h-2.3zM444.85 391.85h6.3v1.3h-6.3zM451.85 391.85h3.3v1.3h-3.3zM455.85 391.85h8.3v1.3h-8.3zM465.85 391.85h1.3v1.3h-1.3zM432.85 392.85h1.3v1.3h-1.3zM434.85 392.85h2.3v1.3h-2.3zM441.85 392.85h3.3v1.3h-3.3zM445.85 392.85h1.3v1.3h-1.3zM447.85 392.85h3.3v1.3h-3.3zM451.85 392.85h11.3v1.3h-11.3zM463.85 392.85h1.3v1.3h-1.3zM428.85 393.85h4.3v1.3h-4.3zM433.85 393.85h1.3v1.3h-1.3zM436.85 393.85h2.3v1.3h-2.3zM440.85 393.85h1.3v1.3h-1.3zM442.85 393.85h3.3v1.3h-3.3zM446.85 393.85h4.3v1.3h-4.3zM451.85 393.85h10.3v1.3h-10.3zM462.85 393.85h1.3v1.3h-1.3zM464.85 393.85h1.3v1.3h-1.3zM466.85 393.85h1.3v1.3h-1.3zM428.85 394.85h32.3v1.3h-32.3zM461.85 394.85h1.3v1.3h-1.3zM428.85 395.85h33.3v1.3h-33.3zM463.85 395.85h2.3v1.3h-2.3zM428.85 396.85h17.3v1.3h-17.3zM446.85 396.85h3.3v1.3h-3.3zM450.85 396.85h11.3v1.3h-11.3zM428.85 397.85h34.3v1.3h-34.3zM473.85 397.85h1.3v1.3h-1.3zM428.85 398.85h14.3v1.3h-14.3zM443.85 398.85h5.3v1.3h-5.3zM449.85 398.85h13.3v1.3h-13.3zM467.85 398.85h1.3v1.3h-1.3zM428.85 399.85h6.3v1.3h-6.3zM435.85 399.85h23.3v1.3h-23.3zM459.85 399.85h2.3v1.3h-2.3zM428.85 400.85h36.3v1.3h-36.3zM470.85 400.85h1.3v1.3h-1.3zM428.85 401.85h14.3v1.3h-14.3zM443.85 401.85h19.3v1.3h-19.3zM463.85 401.85h1.3v1.3h-1.3zM428.85 402.85h3.3v1.3h-3.3zM432.85 402.85h7.3v1.3h-7.3zM440.85 402.85h21.3v1.3h-21.3zM462.85 402.85h1.3v1.3h-1.3zM428.85 403.85h34.3v1.3h-34.3zM428.85 404.85h35.3v1.3h-35.3zM428.85 405.85h4.3v1.3h-4.3zM433.85 405.85h2.3v1.3h-2.3zM436.85 405.85h24.3v1.3h-24.3zM463.85 405.85h2.3v1.3h-2.3zM428.85 406.85h2.3v1.3h-2.3zM431.85 406.85h30.3v1.3h-30.3zM428.85 407.85h33.3v1.3h-33.3zM463.85 407.85h1.3v1.3h-1.3zM428.85 408.85h13.3v1.3h-13.3zM442.85 408.85h20.3v1.3h-20.3zM428.85 409.85h22.3v1.3h-22.3zM451.85 409.85h1.3v1.3h-1.3zM453.85 409.85h3.3v1.3h-3.3zM457.85 409.85h6.3v1.3h-6.3zM428.85 410.85h14.3v1.3h-14.3zM443.85 410.85h5.3v1.3h-5.3zM449.85 410.85h12.3v1.3h-12.3zM462.85 410.85h2.3v1.3h-2.3zM428.85 411.85h10.3v1.3h-10.3zM439.85 411.85h4.3v1.3h-4.3zM444.85 411.85h18.3v1.3h-18.3zM428.85 412.85h2.3v1.3h-2.3zM431.85 412.85h30.3v1.3h-30.3zM463.85 412.85h2.3v1.3h-2.3zM429.85 413.85h33.3v1.3h-33.3zM465.85 413.85h1.3v1.3h-1.3zM467.85 413.85h1.3v1.3h-1.3zM428.85 414.85h10.3v1.3h-10.3zM439.85 414.85h5.3v1.3h-5.3zM445.85 414.85h17.3v1.3h-17.3zM428.85 415.85h8.3v1.3h-8.3zM437.85 415.85h6.3v1.3h-6.3zM444.85 415.85h16.3v1.3h-16.3zM461.85 415.85h1.3v1.3h-1.3zM428.85 416.85h32.3v1.3h-32.3zM463.85 416.85h1.3v1.3h-1.3zM466.85 416.85h1.3v1.3h-1.3zM472.85 416.85h1.3v1.3h-1.3zM428.85 417.85h36.3v1.3h-36.3zM428.85 418.85h32.3v1.3h-32.3zM428.85 419.85h32.3v1.3h-32.3zM461.85 419.85h2.3v1.3h-2.3zM464.85 419.85h1.3v1.3h-1.3zM428.85 420.85h2.3v1.3h-2.3zM431.85 420.85h16.3v1.3h-16.3zM448.85 420.85h12.3v1.3h-12.3zM463.85 420.85h1.3v1.3h-1.3zM428.85 421.85h4.3v1.3h-4.3zM433.85 421.85h1.3v1.3h-1.3zM435.85 421.85h13.3v1.3h-13.3zM449.85 421.85h11.3v1.3h-11.3zM461.85 421.85h2.3v1.3h-2.3zM466.85 421.85h1.3v1.3h-1.3z" fill="#000"/>
<path d="M448.2 369h1v1h-1zM449.8 375.9h1v1h-1zM459.5 374.7h1v1h-1zM483 370.7h1v1h-1zM475.7 374h1v1h-1zM478 377h1v1h-1zM491 402.2h1v1h-1zM495 399.8h1v1h-1zM479 392.5h1v1h-1zM472.5 382h1v1h-1zM466 380h1v1h-1zM470 385h1v1h-1zM441 382h1v1h-1zM436 386h1v1h-1zM480 410h1v1h-1zM478 416h1v1h-1zM484 420h1v1h-1z" fill="#000"/>
<path d="M428.8 346.8V422.8H503.5" fill="none" stroke="#000" stroke-width="1.5"/>
<path d="M426.6 417.08H428.8M434.42 422.8V425.4M426.6 413.73H428.8M437.71 422.8V425.4M426.6 411.36H428.8M440.04 422.8V425.4M426.6 409.52H428.8M441.85 422.8V425.4M426.6 408.02H428.8M443.33 422.8V425.4M426.6 406.74H428.8M444.58 422.8V425.4M426.6 405.64H428.8M445.67 422.8V425.4M426.6 404.67H428.8M446.62 422.8V425.4M426 403.8H432M447.48 419.6V423.3M426.6 398.08H428.8M453.1 422.8V425.4M426.6 394.73H428.8M456.39 422.8V425.4M426.6 392.36H428.8M458.72 422.8V425.4M426.6 390.52H428.8M460.53 422.8V425.4M426.6 389.02H428.8M462.01 422.8V425.4M426.6 387.74H428.8M463.26 422.8V425.4M426.6 386.64H428.8M464.34 422.8V425.4M426.6 385.67H428.8M465.3 422.8V425.4M426 384.8H432M466.15 419.6V423.3M426.6 379.08H428.8M471.77 422.8V425.4M426.6 375.73H428.8M475.06 422.8V425.4M426.6 373.36H428.8M477.39 422.8V425.4M426.6 371.52H428.8M479.2 422.8V425.4M426.6 370.02H428.8M480.68 422.8V425.4M426.6 368.74H428.8M481.93 422.8V425.4M426.6 367.64H428.8M483.02 422.8V425.4M426.6 366.67H428.8M483.97 422.8V425.4M426 365.8H432M484.82 419.6V423.3M426.6 360.08H428.8M490.45 422.8V425.4M426.6 356.73H428.8M493.74 422.8V425.4M426.6 354.36H428.8M496.07 422.8V425.4M426.6 352.52H428.8M497.88 422.8V425.4M426.6 351.02H428.8M499.36 422.8V425.4M426.6 349.74H428.8M500.61 422.8V425.4M426.6 348.64H428.8M501.69 422.8V425.4M426.6 347.67H428.8M502.65 422.8V425.4M426 346.8H432" stroke="#000" stroke-width="1.05"/>
<path d="M503.2 419.6V425.8" stroke="#000" stroke-width="1.7"/>
<path d="M453.1 346.8L453.1 422.8" stroke="#000" stroke-width="1"/>
<path d="M466 403L503.5 403" stroke="#000" stroke-width="1"/>
<text x="453.13" y="343" font-size="10.61" font-weight="bold" textLength="23.22" lengthAdjust="spacingAndGlyphs">NB-4</text>
<text x="451.59" y="455.5" font-size="10.45" font-weight="bold" textLength="28.31" lengthAdjust="spacingAndGlyphs">CD 52</text>
<text transform="translate(410 403.88) rotate(-90)" font-size="12.14" font-weight="bold" textLength="40.57" lengthAdjust="spacingAndGlyphs">CD 11b</text>
<text x="409.01" y="407.6" font-size="10.6" font-weight="normal" textLength="11.49" lengthAdjust="spacingAndGlyphs">10</text>
<text x="420.44" y="402.6" font-size="7.41" font-weight="normal" textLength="4.12" lengthAdjust="spacingAndGlyphs">1</text>
<text x="409.01" y="388.6" font-size="10.6" font-weight="normal" textLength="11.49" lengthAdjust="spacingAndGlyphs">10</text>
<text x="420.63" y="383.6" font-size="7.3" font-weight="normal" textLength="4.06" lengthAdjust="spacingAndGlyphs">2</text>
<text x="409.01" y="369.6" font-size="10.6" font-weight="normal" textLength="11.49" lengthAdjust="spacingAndGlyphs">10</text>
<text x="420.72" y="364.6" font-size="7.3" font-weight="normal" textLength="4.06" lengthAdjust="spacingAndGlyphs">3</text>
<text x="409.01" y="350.6" font-size="10.6" font-weight="normal" textLength="11.49" lengthAdjust="spacingAndGlyphs">10</text>
<text x="420.83" y="345.6" font-size="7.41" font-weight="normal" textLength="4.12" lengthAdjust="spacingAndGlyphs">4</text>
<text x="423.61" y="439.6" font-size="10.88" font-weight="normal" textLength="11.6" lengthAdjust="spacingAndGlyphs">10</text>
<text x="436.23" y="433.8" font-size="6.87" font-weight="normal" textLength="3.82" lengthAdjust="spacingAndGlyphs">0</text>
<text x="442.28" y="439.6" font-size="10.88" font-weight="normal" textLength="11.6" lengthAdjust="spacingAndGlyphs">10</text>
<text x="454.64" y="433.8" font-size="6.98" font-weight="normal" textLength="3.88" lengthAdjust="spacingAndGlyphs">1</text>
<text x="460.96" y="439.6" font-size="10.88" font-weight="normal" textLength="11.6" lengthAdjust="spacingAndGlyphs">10</text>
<text x="473.5" y="433.8" font-size="6.87" font-weight="normal" textLength="3.82" lengthAdjust="spacingAndGlyphs">2</text>
<text x="479.63" y="439.6" font-size="10.88" font-weight="normal" textLength="11.6" lengthAdjust="spacingAndGlyphs">10</text>
<text x="492.26" y="433.8" font-size="6.87" font-weight="normal" textLength="3.82" lengthAdjust="spacingAndGlyphs">3</text>
<text x="498.31" y="439.6" font-size="10.88" font-weight="normal" textLength="11.6" lengthAdjust="spacingAndGlyphs">10</text>
<text x="511.04" y="433.8" font-size="6.98" font-weight="normal" textLength="3.88" lengthAdjust="spacingAndGlyphs">4</text>
<path d="M91.85 507.85h1.3v1.3h-1.3zM83.85 508.85h1.3v1.3h-1.3zM87.85 509.85h1.3v1.3h-1.3zM90.85 509.85h1.3v1.3h-1.3zM82.85 510.85h1.3v1.3h-1.3zM88.85 510.85h2.3v1.3h-2.3zM92.85 510.85h1.3v1.3h-1.3zM88.85 511.85h2.3v1.3h-2.3zM91.85 511.85h2.3v1.3h-2.3zM82.85 512.85h2.3v1.3h-2.3zM88.85 512.85h6.3v1.3h-6.3zM79.85 513.85h1.3v1.3h-1.3zM84.85 513.85h8.3v1.3h-8.3zM93.85 513.85h1.3v1.3h-1.3zM79.85 514.85h1.3v1.3h-1.3zM82.85 514.85h11.3v1.3h-11.3zM94.85 514.85h2.3v1.3h-2.3zM72.85 515.85h1.3v1.3h-1.3zM76.85 515.85h1.3v1.3h-1.3zM78.85 515.85h16.3v1.3h-16.3zM75.85 516.85h19.3v1.3h-19.3zM72.85 517.85h1.3v1.3h-1.3zM74.85 517.85h1.3v1.3h-1.3zM76.85 517.85h19.3v1.3h-19.3zM69.85 518.85h1.3v1.3h-1.3zM71.85 518.85h23.3v1.3h-23.3zM70.85 519.85h21.3v1.3h-21.3zM92.85 519.85h4.3v1.3h-4.3zM69.85 520.85h8.3v1.3h-8.3zM78.85 520.85h16.3v1.3h-16.3zM95.85 520.85h3.3v1.3h-3.3zM69.85 521.85h26.3v1.3h-26.3zM69.85 522.85h16.3v1.3h-16.3zM86.85 522.85h8.3v1.3h-8.3zM95.85 522.85h1.3v1.3h-1.3zM69.85 523.85h25.3v1.3h-25.3zM95.85 523.85h3.3v1.3h-3.3zM69.85 524.85h7.3v1.3h-7.3zM77.85 524.85h17.3v1.3h-17.3zM95.85 524.85h1.3v1.3h-1.3zM69.85 525.85h5.3v1.3h-5.3zM75.85 525.85h23.3v1.3h-23.3zM69.85 526.85h25.3v1.3h-25.3zM95.85 526.85h3.3v1.3h-3.3zM100.85 526.85h1.3v1.3h-1.3zM69.85 527.85h27.3v1.3h-27.3zM97.85 527.85h1.3v1.3h-1.3zM99.85 527.85h1.3v1.3h-1.3zM69.85 528.85h13.3v1.3h-13.3zM83.85 528.85h13.3v1.3h-13.3zM99.85 528.85h1.3v1.3h-1.3zM69.85 529.85h28.3v1.3h-28.3zM98.85 529.85h1.3v1.3h-1.3zM69.85 530.85h10.3v1.3h-10.3zM80.85 530.85h5.3v1.3h-5.3zM86.85 530.85h11.3v1.3h-11.3zM98.85 530.85h1.3v1.3h-1.3zM69.85 531.85h26.3v1.3h-26.3zM96.85 531.85h1.3v1.3h-1.3zM69.85 532.85h8.3v1.3h-8.3zM78.85 532.85h7.3v1.3h-7.3zM86.85 532.85h12.3v1.3h-12.3zM69.85 533.85h25.3v1.3h-25.3zM69.85 534.85h18.3v1.3h-18.3zM88.85 534.85h7.3v1.3h-7.3zM69.85 535.85h7.3v1.3h-7.3zM77.85 535.85h16.3v1.3h-16.3zM69.85 536.85h6.3v1.3h-6.3zM76.85 536.85h17.3v1.3h-17.3zM94.85 536.85h1.3v1.3h-1.3zM69.85 537.85h3.3v1.3h-3.3zM74.85 537.85h15.3v1.3h-15.3zM90.85 537.85h2.3v1.3h-2.3zM93.85 537.85h1.3v1.3h-1.3zM96.85 537.85h1.3v1.3h-1.3zM69.85 538.85h5.3v1.3h-5.3zM75.85 538.85h16.3v1.3h-16.3zM92.85 538.85h1.3v1.3h-1.3zM69.85 539.85h6.3v1.3h-6.3zM76.85 539.85h1.3v1.3h-1.3zM78.85 539.85h13.3v1.3h-13.3zM69.85 540.85h3.3v1.3h-3.3zM74.85 540.85h16.3v1.3h-16.3zM69.85 541.85h1.3v1.3h-1.3zM71.85 541.85h20.3v1.3h-20.3zM69.85 542.85h1.3v1.3h-1.3zM72.85 542.85h1.3v1.3h-1.3zM75.85 542.85h2.3v1.3h-2.3zM78.85 542.85h12.3v1.3h-12.3zM92.85 542.85h1.3v1.3h-1.3zM69.85 543.85h9.3v1.3h-9.3zM79.85 543.85h10.3v1.3h-10.3zM69.85 544.85h18.3v1.3h-18.3zM69.85 545.85h15.3v1.3h-15.3zM85.85 545.85h3.3v1.3h-3.3zM69.85 546.85h2.3v1.3h-2.3zM72.85 546.85h2.3v1.3h-2.3zM75.85 546.85h11.3v1.3h-11.3zM88.85 546.85h1.3v1.3h-1.3zM69.85 547.85h2.3v1.3h-2.3zM72.85 547.85h16.3v1.3h-16.3zM70.85 548.85h6.3v1.3h-6.3zM77.85 548.85h8.3v1.3h-8.3zM86.85 548.85h2.3v1.3h-2.3zM69.85 549.85h2.3v1.3h-2.3zM72.85 549.85h6.3v1.3h-6.3zM79.85 549.85h5.3v1.3h-5.3zM69.85 550.85h9.3v1.3h-9.3zM79.85 550.85h4.3v1.3h-4.3zM87.85 550.85h1.3v1.3h-1.3zM69.85 551.85h5.3v1.3h-5.3zM75.85 551.85h8.3v1.3h-8.3zM69.85 552.85h1.3v1.3h-1.3zM71.85 552.85h11.3v1.3h-11.3zM69.85 553.85h1.3v1.3h-1.3zM72.85 553.85h1.3v1.3h-1.3zM75.85 553.85h6.3v1.3h-6.3zM84.85 553.85h1.3v1.3h-1.3zM69.85 554.85h1.3v1.3h-1.3zM71.85 554.85h1.3v1.3h-1.3zM73.85 554.85h7.3v1.3h-7.3zM69.85 555.85h2.3v1.3h-2.3zM73.85 555.85h4.3v1.3h-4.3zM79.85 555.85h1.3v1.3h-1.3zM81.85 555.85h2.3v1.3h-2.3zM71.85 556.85h3.3v1.3h-3.3zM76.85 556.85h1.3v1.3h-1.3zM78.85 556.85h1.3v1.3h-1.3zM80.85 556.85h2.3v1.3h-2.3zM87.85 556.85h1.3v1.3h-1.3zM94.85 556.85h1.3v1.3h-1.3zM102.85 556.85h4.3v1.3h-4.3zM108.85 556.85h2.3v1.3h-2.3zM70.85 557.85h2.3v1.3h-2.3zM73.85 557.85h1.3v1.3h-1.3zM75.85 557.85h1.3v1.3h-1.3zM77.85 557.85h2.3v1.3h-2.3zM81.85 557.85h1.3v1.3h-1.3zM83.85 557.85h1.3v1.3h-1.3zM88.85 557.85h1.3v1.3h-1.3zM91.85 557.85h2.3v1.3h-2.3zM94.85 557.85h2.3v1.3h-2.3zM98.85 557.85h1.3v1.3h-1.3zM103.85 557.85h5.3v1.3h-5.3zM69.85 558.85h1.3v1.3h-1.3zM72.85 558.85h1.3v1.3h-1.3zM76.85 558.85h3.3v1.3h-3.3zM82.85 558.85h1.3v1.3h-1.3zM89.85 558.85h3.3v1.3h-3.3zM100.85 558.85h1.3v1.3h-1.3zM104.85 558.85h1.3v1.3h-1.3zM73.85 559.85h1.3v1.3h-1.3zM77.85 559.85h1.3v1.3h-1.3zM81.85 559.85h2.3v1.3h-2.3zM84.85 559.85h1.3v1.3h-1.3zM87.85 559.85h1.3v1.3h-1.3zM94.85 559.85h1.3v1.3h-1.3zM96.85 559.85h1.3v1.3h-1.3zM107.85 559.85h1.3v1.3h-1.3z" fill="#000"/>
<path d="M95 533h1.2v1.2h-1.2zM98 530h1.2v1.2h-1.2zM101 527h1.2v1.2h-1.2zM104 523h1.2v1.2h-1.2zM109.2 516.8h1.2v1.2h-1.2zM114 513.6h1.2v1.2h-1.2zM119 509.5h1.2v1.2h-1.2zM124.6 520.8h1.2v1.2h-1.2zM98 506.3h1.2v1.2h-1.2zM102.8 537h1.2v1.2h-1.2zM98 548.3h1.2v1.2h-1.2zM101 551.5h1.2v1.2h-1.2zM115.7 548.3h1.2v1.2h-1.2zM118 554h1.2v1.2h-1.2zM118 551.5h1.2v1.2h-1.2zM90.6 551.5h1.2v1.2h-1.2zM99 528h1.2v1.2h-1.2zM103 525h1.2v1.2h-1.2zM106 521h1.2v1.2h-1.2zM125.4 521h1.2v1.2h-1.2zM97 512h1.2v1.2h-1.2zM96 517h1.2v1.2h-1.2zM97 522h1.2v1.2h-1.2z" fill="#000"/>
<path d="M70.2 479V561.2H144.8" fill="none" stroke="#000" stroke-width="1.5"/>
<path d="M68 555.01H70.2M75.81 561.2V563.8M68 551.4H70.2M79.1 561.2V563.8M68 548.83H70.2M81.43 561.2V563.8M68 546.84H70.2M83.24 561.2V563.8M68 545.21H70.2M84.71 561.2V563.8M68 543.83H70.2M85.96 561.2V563.8M68 542.64H70.2M87.04 561.2V563.8M68 541.59H70.2M88 561.2V563.8M67.4 540.65H73.4M88.85 558V561.7M68 534.46H70.2M94.46 561.2V563.8M68 530.85H70.2M97.75 561.2V563.8M68 528.28H70.2M100.08 561.2V563.8M68 526.29H70.2M101.89 561.2V563.8M68 524.66H70.2M103.36 561.2V563.8M68 523.28H70.2M104.61 561.2V563.8M68 522.09H70.2M105.69 561.2V563.8M68 521.04H70.2M106.65 561.2V563.8M67.4 520.1H73.4M107.5 558V561.7M68 513.91H70.2M113.11 561.2V563.8M68 510.3H70.2M116.4 561.2V563.8M68 507.73H70.2M118.73 561.2V563.8M68 505.74H70.2M120.54 561.2V563.8M68 504.11H70.2M122.01 561.2V563.8M68 502.73H70.2M123.26 561.2V563.8M68 501.54H70.2M124.34 561.2V563.8M68 500.49H70.2M125.3 561.2V563.8M67.4 499.55H73.4M126.15 558V561.7M68 493.36H70.2M131.76 561.2V563.8M68 489.75H70.2M135.05 561.2V563.8M68 487.18H70.2M137.38 561.2V563.8M68 485.19H70.2M139.19 561.2V563.8M68 483.56H70.2M140.66 561.2V563.8M68 482.18H70.2M141.91 561.2V563.8M68 480.99H70.2M142.99 561.2V563.8M68 479.94H70.2M143.95 561.2V563.8M67.4 479H73.4" stroke="#000" stroke-width="1.05"/>
<path d="M144.5 558V564.2" stroke="#000" stroke-width="1.7"/>
<path d="M94.4 480.5L94.4 561.2" stroke="#000" stroke-width="1"/>
<path d="M94.4 533.3L146 533.3" stroke="#000" stroke-width="1"/>
<text x="95.26" y="475.8" font-size="10.03" font-weight="bold" textLength="29.27" lengthAdjust="spacingAndGlyphs">U937</text>
<text x="95.57" y="593.8" font-size="10.88" font-weight="bold" textLength="29.85" lengthAdjust="spacingAndGlyphs">CD 52</text>
<text transform="translate(48.7 539.48) rotate(-90)" font-size="12.01" font-weight="bold" textLength="40.46" lengthAdjust="spacingAndGlyphs">CD 11b</text>
<text x="49.01" y="544.45" font-size="10.6" font-weight="normal" textLength="11.49" lengthAdjust="spacingAndGlyphs">10</text>
<text x="60.44" y="539.45" font-size="7.41" font-weight="normal" textLength="4.12" lengthAdjust="spacingAndGlyphs">1</text>
<text x="49.01" y="523.9" font-size="10.6" font-weight="normal" textLength="11.49" lengthAdjust="spacingAndGlyphs">10</text>
<text x="60.63" y="518.9" font-size="7.3" font-weight="normal" textLength="4.06" lengthAdjust="spacingAndGlyphs">2</text>
<text x="49.01" y="503.35" font-size="10.6" font-weight="normal" textLength="11.49" lengthAdjust="spacingAndGlyphs">10</text>
<text x="60.72" y="498.35" font-size="7.3" font-weight="normal" textLength="4.06" lengthAdjust="spacingAndGlyphs">3</text>
<text x="49.01" y="482.8" font-size="10.6" font-weight="normal" textLength="11.49" lengthAdjust="spacingAndGlyphs">10</text>
<text x="60.83" y="477.8" font-size="7.41" font-weight="normal" textLength="4.12" lengthAdjust="spacingAndGlyphs">4</text>
<text x="64.71" y="576.6" font-size="10.88" font-weight="normal" textLength="11.6" lengthAdjust="spacingAndGlyphs">10</text>
<text x="77.33" y="570.8" font-size="6.87" font-weight="normal" textLength="3.82" lengthAdjust="spacingAndGlyphs">0</text>
<text x="83.36" y="576.6" font-size="10.88" font-weight="normal" textLength="11.6" lengthAdjust="spacingAndGlyphs">10</text>
<text x="95.72" y="570.8" font-size="6.98" font-weight="normal" textLength="3.88" lengthAdjust="spacingAndGlyphs">1</text>
<text x="102.01" y="576.6" font-size="10.88" font-weight="normal" textLength="11.6" lengthAdjust="spacingAndGlyphs">10</text>
<text x="114.55" y="570.8" font-size="6.87" font-weight="normal" textLength="3.82" lengthAdjust="spacingAndGlyphs">2</text>
<text x="120.66" y="576.6" font-size="10.88" font-weight="normal" textLength="11.6" lengthAdjust="spacingAndGlyphs">10</text>
<text x="133.29" y="570.8" font-size="6.87" font-weight="normal" textLength="3.82" lengthAdjust="spacingAndGlyphs">3</text>
<path d="M210.85 519.85h1.3v1.3h-1.3zM210.85 522.85h1.3v1.3h-1.3zM209.85 523.85h1.3v1.3h-1.3zM207.85 525.85h1.3v1.3h-1.3zM209.85 525.85h1.3v1.3h-1.3zM211.85 525.85h2.3v1.3h-2.3zM215.85 525.85h1.3v1.3h-1.3zM210.85 526.85h5.3v1.3h-5.3zM207.85 527.85h7.3v1.3h-7.3zM206.85 528.85h7.3v1.3h-7.3zM214.85 528.85h1.3v1.3h-1.3zM201.85 529.85h1.3v1.3h-1.3zM206.85 529.85h7.3v1.3h-7.3zM201.85 530.85h2.3v1.3h-2.3zM204.85 530.85h6.3v1.3h-6.3zM211.85 530.85h1.3v1.3h-1.3zM213.85 530.85h1.3v1.3h-1.3zM200.85 531.85h1.3v1.3h-1.3zM202.85 531.85h2.3v1.3h-2.3zM205.85 531.85h5.3v1.3h-5.3zM212.85 531.85h1.3v1.3h-1.3zM200.85 532.85h9.3v1.3h-9.3zM200.85 533.85h8.3v1.3h-8.3zM198.85 534.85h8.3v1.3h-8.3zM199.85 535.85h2.3v1.3h-2.3zM202.85 535.85h3.3v1.3h-3.3zM195.85 536.85h1.3v1.3h-1.3zM197.85 536.85h8.3v1.3h-8.3zM196.85 537.85h7.3v1.3h-7.3zM195.85 538.85h7.3v1.3h-7.3zM193.85 539.85h7.3v1.3h-7.3zM201.85 539.85h1.3v1.3h-1.3zM193.85 540.85h8.3v1.3h-8.3zM192.85 541.85h4.3v1.3h-4.3zM197.85 541.85h3.3v1.3h-3.3zM190.85 542.85h9.3v1.3h-9.3zM190.85 543.85h8.3v1.3h-8.3zM188.85 544.85h9.3v1.3h-9.3zM187.85 545.85h9.3v1.3h-9.3zM185.85 546.85h1.3v1.3h-1.3zM187.85 546.85h9.3v1.3h-9.3zM185.85 547.85h6.3v1.3h-6.3zM192.85 547.85h4.3v1.3h-4.3zM183.85 548.85h1.3v1.3h-1.3zM185.85 548.85h2.3v1.3h-2.3zM188.85 548.85h6.3v1.3h-6.3zM183.85 549.85h11.3v1.3h-11.3zM182.85 550.85h10.3v1.3h-10.3zM182.85 551.85h13.3v1.3h-13.3zM182.85 552.85h9.3v1.3h-9.3zM183.85 553.85h7.3v1.3h-7.3zM191.85 553.85h1.3v1.3h-1.3zM182.85 554.85h8.3v1.3h-8.3zM182.85 555.85h8.3v1.3h-8.3zM182.85 556.85h8.3v1.3h-8.3zM182.85 557.85h8.3v1.3h-8.3z" fill="#000"/>
<path d="M201.4 527.3h1.5v1.5h-1.5zM220 524h1.5v1.5h-1.5zM220.8 530.5h1.5v1.5h-1.5zM228 529.7h1.5v1.5h-1.5zM220.8 537.8h1.5v1.5h-1.5zM223.2 541.9h1.5v1.5h-1.5zM220 541.9h1.5v1.5h-1.5zM230.5 543.5h1.5v1.5h-1.5zM216.8 552.4h1.5v1.5h-1.5zM217.6 554h1.5v1.5h-1.5zM212 545h1.5v1.5h-1.5zM209.5 549h1.5v1.5h-1.5zM198.2 550h1.5v1.5h-1.5zM199 557.2h1.5v1.5h-1.5zM201 526h1.5v1.5h-1.5zM203 529h1.5v1.5h-1.5zM205 545h1.5v1.5h-1.5zM207 541h1.5v1.5h-1.5zM203 551h1.5v1.5h-1.5zM210 539h1.5v1.5h-1.5zM213 537h1.5v1.5h-1.5zM204 555h1.5v1.5h-1.5zM196 556h1.5v1.5h-1.5zM208 553h1.5v1.5h-1.5zM215 548h1.5v1.5h-1.5zM211 557h1.5v1.5h-1.5zM214.34 526.26h1.5v1.5h-1.5zM215.13 524.48h1.5v1.5h-1.5zM216.37 523.41h1.5v1.5h-1.5zM218.04 522.25h1.5v1.5h-1.5zM218.83 521.01h1.5v1.5h-1.5zM220.78 519.27h1.5v1.5h-1.5zM221.39 518.25h1.5v1.5h-1.5zM222.77 517.04h1.5v1.5h-1.5zM224 515.99h1.5v1.5h-1.5zM225.32 514.01h1.5v1.5h-1.5zM227.2 513.04h1.5v1.5h-1.5zM228.22 512.04h1.5v1.5h-1.5zM229.76 510.81h1.5v1.5h-1.5zM230.61 509.34h1.5v1.5h-1.5zM231.64 507.95h1.5v1.5h-1.5zM233.43 506.8h1.5v1.5h-1.5zM234.14 505.36h1.5v1.5h-1.5zM235.85 504.25h1.5v1.5h-1.5zM237.04 502.38h1.5v1.5h-1.5zM238.32 501.83h1.5v1.5h-1.5zM239.59 499.94h1.5v1.5h-1.5zM241.06 499.24h1.5v1.5h-1.5zM241.93 497.43h1.5v1.5h-1.5zM243.34 496.53h1.5v1.5h-1.5z" fill="#000"/>
<path d="M182.8 481.4V559.3H258" fill="none" stroke="#000" stroke-width="1.5"/>
<path d="M180.6 553.44H182.8M188.46 559.3V561.9M180.6 550.01H182.8M191.77 559.3V561.9M180.6 547.57H182.8M194.12 559.3V561.9M180.6 545.69H182.8M195.94 559.3V561.9M180.6 544.15H182.8M197.43 559.3V561.9M180.6 542.84H182.8M198.69 559.3V561.9M180.6 541.71H182.8M199.78 559.3V561.9M180.6 540.72H182.8M200.74 559.3V561.9M180 539.82H186M201.6 556.1V559.8M180.6 533.96H182.8M207.26 559.3V561.9M180.6 530.53H182.8M210.57 559.3V561.9M180.6 528.1H182.8M212.92 559.3V561.9M180.6 526.21H182.8M214.74 559.3V561.9M180.6 524.67H182.8M216.23 559.3V561.9M180.6 523.37H182.8M217.49 559.3V561.9M180.6 522.24H182.8M218.58 559.3V561.9M180.6 521.24H182.8M219.54 559.3V561.9M180 520.35H186M220.4 556.1V559.8M180.6 514.49H182.8M226.06 559.3V561.9M180.6 511.06H182.8M229.37 559.3V561.9M180.6 508.62H182.8M231.72 559.3V561.9M180.6 506.74H182.8M233.54 559.3V561.9M180.6 505.2H182.8M235.03 559.3V561.9M180.6 503.89H182.8M236.29 559.3V561.9M180.6 502.76H182.8M237.38 559.3V561.9M180.6 501.77H182.8M238.34 559.3V561.9M180 500.88H186M239.2 556.1V559.8M180.6 495.01H182.8M244.86 559.3V561.9M180.6 491.58H182.8M248.17 559.3V561.9M180.6 489.15H182.8M250.52 559.3V561.9M180.6 487.26H182.8M252.34 559.3V561.9M180.6 485.72H182.8M253.83 559.3V561.9M180.6 484.42H182.8M255.09 559.3V561.9M180.6 483.29H182.8M256.18 559.3V561.9M180.6 482.29H182.8M257.14 559.3V561.9M180 481.4H186" stroke="#000" stroke-width="1.05"/>
<path d="M257.7 556.1V562.3" stroke="#000" stroke-width="1.7"/>
<path d="M206.3 481.4L206.3 559.3" stroke="#000" stroke-width="1"/>
<path d="M182.8 533L259.5 533" stroke="#000" stroke-width="1"/>
<text x="206.71" y="478.3" font-size="10.31" font-weight="bold" textLength="28.16" lengthAdjust="spacingAndGlyphs">K562</text>
<text x="205.54" y="592.7" font-size="11.46" font-weight="bold" textLength="31.91" lengthAdjust="spacingAndGlyphs">CD 52</text>
<text transform="translate(162 538.88) rotate(-90)" font-size="11.87" font-weight="bold" textLength="40.57" lengthAdjust="spacingAndGlyphs">CD 11b</text>
<text x="162.41" y="543.62" font-size="10.6" font-weight="normal" textLength="11.49" lengthAdjust="spacingAndGlyphs">10</text>
<text x="173.84" y="538.62" font-size="7.41" font-weight="normal" textLength="4.12" lengthAdjust="spacingAndGlyphs">1</text>
<text x="162.41" y="524.15" font-size="10.6" font-weight="normal" textLength="11.49" lengthAdjust="spacingAndGlyphs">10</text>
<text x="174.03" y="519.15" font-size="7.3" font-weight="normal" textLength="4.06" lengthAdjust="spacingAndGlyphs">2</text>
<text x="162.41" y="504.68" font-size="10.6" font-weight="normal" textLength="11.49" lengthAdjust="spacingAndGlyphs">10</text>
<text x="174.12" y="499.68" font-size="7.3" font-weight="normal" textLength="4.06" lengthAdjust="spacingAndGlyphs">3</text>
<text x="162.41" y="485.2" font-size="10.6" font-weight="normal" textLength="11.49" lengthAdjust="spacingAndGlyphs">10</text>
<text x="174.23" y="480.2" font-size="7.41" font-weight="normal" textLength="4.12" lengthAdjust="spacingAndGlyphs">4</text>
<text x="178.11" y="576.3" font-size="10.88" font-weight="normal" textLength="11.6" lengthAdjust="spacingAndGlyphs">10</text>
<text x="190.73" y="570.5" font-size="6.87" font-weight="normal" textLength="3.82" lengthAdjust="spacingAndGlyphs">0</text>
<text x="196.91" y="576.3" font-size="10.88" font-weight="normal" textLength="11.6" lengthAdjust="spacingAndGlyphs">10</text>
<text x="209.27" y="570.5" font-size="6.98" font-weight="normal" textLength="3.88" lengthAdjust="spacingAndGlyphs">1</text>
<text x="215.71" y="576.3" font-size="10.88" font-weight="normal" textLength="11.6" lengthAdjust="spacingAndGlyphs">10</text>
<text x="228.25" y="570.5" font-size="6.87" font-weight="normal" textLength="3.82" lengthAdjust="spacingAndGlyphs">2</text>
<text x="234.51" y="576.3" font-size="10.88" font-weight="normal" textLength="11.6" lengthAdjust="spacingAndGlyphs">10</text>
<text x="247.14" y="570.5" font-size="6.87" font-weight="normal" textLength="3.82" lengthAdjust="spacingAndGlyphs">3</text>
<text x="254.61" y="576.3" font-size="10.88" font-weight="normal" textLength="11.6" lengthAdjust="spacingAndGlyphs">10</text>
<path d="M360.85 496.85h1.3v1.3h-1.3zM310.85 499.85h1.3v1.3h-1.3zM325.85 500.85h1.3v1.3h-1.3zM351.85 503.85h1.3v1.3h-1.3zM322.85 505.85h1.3v1.3h-1.3zM316.85 507.85h1.3v1.3h-1.3zM335.85 507.85h1.3v1.3h-1.3zM318.85 508.85h1.3v1.3h-1.3zM340.85 508.85h1.3v1.3h-1.3zM349.85 508.85h1.3v1.3h-1.3zM317.85 509.85h1.3v1.3h-1.3zM327.85 509.85h1.3v1.3h-1.3zM330.85 509.85h1.3v1.3h-1.3zM340.85 509.85h1.3v1.3h-1.3zM340.85 510.85h1.3v1.3h-1.3zM321.85 511.85h1.3v1.3h-1.3zM329.85 511.85h1.3v1.3h-1.3zM331.85 511.85h1.3v1.3h-1.3zM329.85 512.85h1.3v1.3h-1.3zM332.85 512.85h1.3v1.3h-1.3zM313.85 513.85h1.3v1.3h-1.3zM323.85 513.85h1.3v1.3h-1.3zM325.85 513.85h1.3v1.3h-1.3zM327.85 513.85h1.3v1.3h-1.3zM317.85 514.85h2.3v1.3h-2.3zM323.85 514.85h2.3v1.3h-2.3zM327.85 514.85h2.3v1.3h-2.3zM336.85 514.85h1.3v1.3h-1.3zM339.85 514.85h2.3v1.3h-2.3zM342.85 514.85h1.3v1.3h-1.3zM323.85 515.85h1.3v1.3h-1.3zM325.85 515.85h2.3v1.3h-2.3zM330.85 515.85h4.3v1.3h-4.3zM339.85 515.85h2.3v1.3h-2.3zM342.85 515.85h1.3v1.3h-1.3zM344.85 515.85h2.3v1.3h-2.3zM311.85 516.85h1.3v1.3h-1.3zM317.85 516.85h1.3v1.3h-1.3zM322.85 516.85h4.3v1.3h-4.3zM329.85 516.85h3.3v1.3h-3.3zM335.85 516.85h1.3v1.3h-1.3zM338.85 516.85h2.3v1.3h-2.3zM309.85 517.85h1.3v1.3h-1.3zM316.85 517.85h4.3v1.3h-4.3zM322.85 517.85h12.3v1.3h-12.3zM335.85 517.85h2.3v1.3h-2.3zM338.85 517.85h2.3v1.3h-2.3zM342.85 517.85h1.3v1.3h-1.3zM345.85 517.85h1.3v1.3h-1.3zM311.85 518.85h1.3v1.3h-1.3zM315.85 518.85h3.3v1.3h-3.3zM319.85 518.85h23.3v1.3h-23.3zM312.85 519.85h1.3v1.3h-1.3zM317.85 519.85h26.3v1.3h-26.3zM346.85 519.85h1.3v1.3h-1.3zM313.85 520.85h1.3v1.3h-1.3zM315.85 520.85h28.3v1.3h-28.3zM344.85 520.85h1.3v1.3h-1.3zM346.85 520.85h1.3v1.3h-1.3zM311.85 521.85h1.3v1.3h-1.3zM313.85 521.85h1.3v1.3h-1.3zM315.85 521.85h27.3v1.3h-27.3zM343.85 521.85h2.3v1.3h-2.3zM346.85 521.85h1.3v1.3h-1.3zM308.85 522.85h2.3v1.3h-2.3zM312.85 522.85h2.3v1.3h-2.3zM315.85 522.85h29.3v1.3h-29.3zM346.85 522.85h1.3v1.3h-1.3zM314.85 523.85h29.3v1.3h-29.3zM344.85 523.85h2.3v1.3h-2.3zM349.85 523.85h1.3v1.3h-1.3zM311.85 524.85h2.3v1.3h-2.3zM314.85 524.85h6.3v1.3h-6.3zM321.85 524.85h22.3v1.3h-22.3zM344.85 524.85h1.3v1.3h-1.3zM303.85 525.85h1.3v1.3h-1.3zM307.85 525.85h1.3v1.3h-1.3zM311.85 525.85h1.3v1.3h-1.3zM314.85 525.85h31.3v1.3h-31.3zM351.85 525.85h1.3v1.3h-1.3zM312.85 526.85h1.3v1.3h-1.3zM314.85 526.85h20.3v1.3h-20.3zM335.85 526.85h8.3v1.3h-8.3zM344.85 526.85h1.3v1.3h-1.3zM308.85 527.85h5.3v1.3h-5.3zM314.85 527.85h11.3v1.3h-11.3zM326.85 527.85h20.3v1.3h-20.3zM347.85 527.85h1.3v1.3h-1.3zM349.85 527.85h2.3v1.3h-2.3zM308.85 528.85h1.3v1.3h-1.3zM313.85 528.85h31.3v1.3h-31.3zM347.85 528.85h1.3v1.3h-1.3zM349.85 528.85h1.3v1.3h-1.3zM356.85 528.85h1.3v1.3h-1.3zM309.85 529.85h1.3v1.3h-1.3zM311.85 529.85h1.3v1.3h-1.3zM313.85 529.85h6.3v1.3h-6.3zM320.85 529.85h25.3v1.3h-25.3zM346.85 529.85h1.3v1.3h-1.3zM308.85 530.85h1.3v1.3h-1.3zM311.85 530.85h1.3v1.3h-1.3zM313.85 530.85h3.3v1.3h-3.3zM317.85 530.85h27.3v1.3h-27.3zM345.85 530.85h2.3v1.3h-2.3zM308.85 531.85h2.3v1.3h-2.3zM312.85 531.85h18.3v1.3h-18.3zM331.85 531.85h15.3v1.3h-15.3zM347.85 531.85h1.3v1.3h-1.3zM313.85 532.85h6.3v1.3h-6.3zM320.85 532.85h25.3v1.3h-25.3zM346.85 532.85h1.3v1.3h-1.3zM311.85 533.85h1.3v1.3h-1.3zM313.85 533.85h29.3v1.3h-29.3zM343.85 533.85h3.3v1.3h-3.3zM347.85 533.85h1.3v1.3h-1.3zM306.85 534.85h2.3v1.3h-2.3zM310.85 534.85h35.3v1.3h-35.3zM309.85 535.85h2.3v1.3h-2.3zM313.85 535.85h26.3v1.3h-26.3zM340.85 535.85h3.3v1.3h-3.3zM345.85 535.85h1.3v1.3h-1.3zM306.85 536.85h1.3v1.3h-1.3zM308.85 536.85h1.3v1.3h-1.3zM310.85 536.85h35.3v1.3h-35.3zM346.85 536.85h1.3v1.3h-1.3zM349.85 536.85h1.3v1.3h-1.3zM356.85 536.85h1.3v1.3h-1.3zM310.85 537.85h7.3v1.3h-7.3zM318.85 537.85h26.3v1.3h-26.3zM346.85 537.85h1.3v1.3h-1.3zM303.85 538.85h1.3v1.3h-1.3zM307.85 538.85h1.3v1.3h-1.3zM312.85 538.85h2.3v1.3h-2.3zM315.85 538.85h1.3v1.3h-1.3zM317.85 538.85h30.3v1.3h-30.3zM354.85 538.85h1.3v1.3h-1.3zM308.85 539.85h1.3v1.3h-1.3zM312.85 539.85h32.3v1.3h-32.3zM346.85 539.85h1.3v1.3h-1.3zM355.85 539.85h1.3v1.3h-1.3zM303.85 540.85h1.3v1.3h-1.3zM309.85 540.85h35.3v1.3h-35.3zM346.85 540.85h1.3v1.3h-1.3zM348.85 540.85h1.3v1.3h-1.3zM304.85 541.85h2.3v1.3h-2.3zM309.85 541.85h1.3v1.3h-1.3zM311.85 541.85h31.3v1.3h-31.3zM343.85 541.85h2.3v1.3h-2.3zM346.85 541.85h1.3v1.3h-1.3zM304.85 542.85h1.3v1.3h-1.3zM308.85 542.85h1.3v1.3h-1.3zM311.85 542.85h3.3v1.3h-3.3zM315.85 542.85h6.3v1.3h-6.3zM322.85 542.85h6.3v1.3h-6.3zM329.85 542.85h4.3v1.3h-4.3zM334.85 542.85h9.3v1.3h-9.3zM344.85 542.85h1.3v1.3h-1.3zM306.85 543.85h1.3v1.3h-1.3zM308.85 543.85h1.3v1.3h-1.3zM310.85 543.85h3.3v1.3h-3.3zM314.85 543.85h28.3v1.3h-28.3zM343.85 543.85h2.3v1.3h-2.3zM351.85 543.85h1.3v1.3h-1.3zM303.85 544.85h2.3v1.3h-2.3zM308.85 544.85h1.3v1.3h-1.3zM311.85 544.85h31.3v1.3h-31.3zM343.85 544.85h1.3v1.3h-1.3zM345.85 544.85h1.3v1.3h-1.3zM353.85 544.85h1.3v1.3h-1.3zM308.85 545.85h1.3v1.3h-1.3zM312.85 545.85h30.3v1.3h-30.3zM343.85 545.85h2.3v1.3h-2.3zM303.85 546.85h4.3v1.3h-4.3zM311.85 546.85h2.3v1.3h-2.3zM314.85 546.85h28.3v1.3h-28.3zM344.85 546.85h1.3v1.3h-1.3zM307.85 547.85h1.3v1.3h-1.3zM313.85 547.85h8.3v1.3h-8.3zM322.85 547.85h22.3v1.3h-22.3zM303.85 548.85h1.3v1.3h-1.3zM307.85 548.85h1.3v1.3h-1.3zM310.85 548.85h1.3v1.3h-1.3zM312.85 548.85h31.3v1.3h-31.3zM346.85 548.85h1.3v1.3h-1.3zM306.85 549.85h1.3v1.3h-1.3zM308.85 549.85h3.3v1.3h-3.3zM312.85 549.85h29.3v1.3h-29.3zM342.85 549.85h1.3v1.3h-1.3zM353.85 549.85h1.3v1.3h-1.3zM306.85 550.85h3.3v1.3h-3.3zM310.85 550.85h5.3v1.3h-5.3zM316.85 550.85h21.3v1.3h-21.3zM338.85 550.85h1.3v1.3h-1.3zM340.85 550.85h1.3v1.3h-1.3zM342.85 550.85h1.3v1.3h-1.3zM305.85 551.85h3.3v1.3h-3.3zM309.85 551.85h1.3v1.3h-1.3zM312.85 551.85h11.3v1.3h-11.3zM324.85 551.85h21.3v1.3h-21.3zM304.85 552.85h1.3v1.3h-1.3zM308.85 552.85h1.3v1.3h-1.3zM310.85 552.85h21.3v1.3h-21.3zM332.85 552.85h11.3v1.3h-11.3zM345.85 552.85h1.3v1.3h-1.3zM305.85 553.85h1.3v1.3h-1.3zM313.85 553.85h23.3v1.3h-23.3zM337.85 553.85h4.3v1.3h-4.3zM342.85 553.85h3.3v1.3h-3.3zM303.85 554.85h1.3v1.3h-1.3zM306.85 554.85h1.3v1.3h-1.3zM310.85 554.85h1.3v1.3h-1.3zM312.85 554.85h32.3v1.3h-32.3zM307.85 555.85h1.3v1.3h-1.3zM313.85 555.85h5.3v1.3h-5.3zM319.85 555.85h24.3v1.3h-24.3zM345.85 555.85h1.3v1.3h-1.3zM312.85 556.85h16.3v1.3h-16.3zM329.85 556.85h13.3v1.3h-13.3zM345.85 556.85h1.3v1.3h-1.3zM307.85 557.85h1.3v1.3h-1.3zM309.85 557.85h10.3v1.3h-10.3zM320.85 557.85h21.3v1.3h-21.3zM342.85 557.85h1.3v1.3h-1.3zM350.85 557.85h1.3v1.3h-1.3zM303.85 558.85h1.3v1.3h-1.3zM306.85 558.85h1.3v1.3h-1.3zM309.85 558.85h1.3v1.3h-1.3zM311.85 558.85h30.3v1.3h-30.3zM344.85 558.85h1.3v1.3h-1.3z" fill="#000"/>
<path d="M366.5 495.2h1v1h-1zM342.8 504.5h1v1h-1zM367.4 553.5h1v1h-1zM359 540.8h1v1h-1zM316.6 509.5h1v1h-1zM350 525h1v1h-1zM352 528h1v1h-1zM348 520h1v1h-1z" fill="#000"/>
<path d="M303.8 479.8V560.6H381.8" fill="none" stroke="#000" stroke-width="1.5"/>
<path d="M301.6 554.52H303.8M309.67 560.6V563.2M301.6 550.96H303.8M313.1 560.6V563.2M301.6 548.44H303.8M315.54 560.6V563.2M301.6 546.48H303.8M317.43 560.6V563.2M301.6 544.88H303.8M318.97 560.6V563.2M301.6 543.53H303.8M320.28 560.6V563.2M301.6 542.36H303.8M321.41 560.6V563.2M301.6 541.32H303.8M322.41 560.6V563.2M301 540.4H307M323.3 557.4V561.1M301.6 534.32H303.8M329.17 560.6V563.2M301.6 530.76H303.8M332.6 560.6V563.2M301.6 528.24H303.8M335.04 560.6V563.2M301.6 526.28H303.8M336.93 560.6V563.2M301.6 524.68H303.8M338.47 560.6V563.2M301.6 523.33H303.8M339.78 560.6V563.2M301.6 522.16H303.8M340.91 560.6V563.2M301.6 521.12H303.8M341.91 560.6V563.2M301 520.2H307M342.8 557.4V561.1M301.6 514.12H303.8M348.67 560.6V563.2M301.6 510.56H303.8M352.1 560.6V563.2M301.6 508.04H303.8M354.54 560.6V563.2M301.6 506.08H303.8M356.43 560.6V563.2M301.6 504.48H303.8M357.97 560.6V563.2M301.6 503.13H303.8M359.28 560.6V563.2M301.6 501.96H303.8M360.41 560.6V563.2M301.6 500.92H303.8M361.41 560.6V563.2M301 500H307M362.3 557.4V561.1M301.6 493.92H303.8M368.17 560.6V563.2M301.6 490.36H303.8M371.6 560.6V563.2M301.6 487.84H303.8M374.04 560.6V563.2M301.6 485.88H303.8M375.93 560.6V563.2M301.6 484.28H303.8M377.47 560.6V563.2M301.6 482.93H303.8M378.78 560.6V563.2M301.6 481.76H303.8M379.91 560.6V563.2M301.6 480.72H303.8M380.91 560.6V563.2M301 479.8H307" stroke="#000" stroke-width="1.05"/>
<path d="M381.5 557.4V563.6" stroke="#000" stroke-width="1.7"/>
<path d="M341.1 479.8L341.1 560.6" stroke="#000" stroke-width="1"/>
<path d="M303.8 541.7L381.8 541.7" stroke="#000" stroke-width="1"/>
<text x="326.92" y="476.4" font-size="11.46" font-weight="bold" textLength="32.25" lengthAdjust="spacingAndGlyphs">HL-60</text>
<text x="327.54" y="594" font-size="11.46" font-weight="bold" textLength="31.6" lengthAdjust="spacingAndGlyphs">CD 52</text>
<text transform="translate(283.3 538.2) rotate(-90)" font-size="12.14" font-weight="bold" textLength="41.9" lengthAdjust="spacingAndGlyphs">CD 11b</text>
<text x="283.71" y="544.2" font-size="10.6" font-weight="normal" textLength="11.49" lengthAdjust="spacingAndGlyphs">10</text>
<text x="295.14" y="539.2" font-size="7.41" font-weight="normal" textLength="4.12" lengthAdjust="spacingAndGlyphs">1</text>
<text x="283.71" y="524" font-size="10.6" font-weight="normal" textLength="11.49" lengthAdjust="spacingAndGlyphs">10</text>
<text x="295.33" y="519" font-size="7.3" font-weight="normal" textLength="4.06" lengthAdjust="spacingAndGlyphs">2</text>
<text x="283.71" y="503.8" font-size="10.6" font-weight="normal" textLength="11.49" lengthAdjust="spacingAndGlyphs">10</text>
<text x="295.42" y="498.8" font-size="7.3" font-weight="normal" textLength="4.06" lengthAdjust="spacingAndGlyphs">3</text>
<text x="283.71" y="483.6" font-size="10.6" font-weight="normal" textLength="11.49" lengthAdjust="spacingAndGlyphs">10</text>
<text x="295.53" y="478.6" font-size="7.41" font-weight="normal" textLength="4.12" lengthAdjust="spacingAndGlyphs">4</text>
<text x="299.11" y="576.6" font-size="10.88" font-weight="normal" textLength="11.6" lengthAdjust="spacingAndGlyphs">10</text>
<text x="311.73" y="570.8" font-size="6.87" font-weight="normal" textLength="3.82" lengthAdjust="spacingAndGlyphs">0</text>
<text x="318.61" y="576.6" font-size="10.88" font-weight="normal" textLength="11.6" lengthAdjust="spacingAndGlyphs">10</text>
<text x="330.97" y="570.8" font-size="6.98" font-weight="normal" textLength="3.88" lengthAdjust="spacingAndGlyphs">1</text>
<text x="338.11" y="576.6" font-size="10.88" font-weight="normal" textLength="11.6" lengthAdjust="spacingAndGlyphs">10</text>
<text x="350.65" y="570.8" font-size="6.87" font-weight="normal" textLength="3.82" lengthAdjust="spacingAndGlyphs">2</text>
<text x="357.61" y="576.6" font-size="10.88" font-weight="normal" textLength="11.6" lengthAdjust="spacingAndGlyphs">10</text>
<text x="370.24" y="570.8" font-size="6.87" font-weight="normal" textLength="3.82" lengthAdjust="spacingAndGlyphs">3</text>
<text x="377.11" y="576.6" font-size="10.88" font-weight="normal" textLength="11.6" lengthAdjust="spacingAndGlyphs">10</text>
<text x="389.84" y="570.8" font-size="6.98" font-weight="normal" textLength="3.88" lengthAdjust="spacingAndGlyphs">4</text>
<path d="M433.85 484.85h1.3v1.3h-1.3zM448.85 486.85h1.3v1.3h-1.3zM442.85 487.85h1.3v1.3h-1.3zM455.85 492.85h1.3v1.3h-1.3zM447.85 494.85h1.3v1.3h-1.3zM453.85 495.85h1.3v1.3h-1.3zM475.85 495.85h1.3v1.3h-1.3zM467.85 496.85h1.3v1.3h-1.3zM433.85 497.85h1.3v1.3h-1.3zM439.85 497.85h1.3v1.3h-1.3zM451.85 497.85h1.3v1.3h-1.3zM475.85 497.85h1.3v1.3h-1.3zM430.85 498.85h2.3v1.3h-2.3zM433.85 498.85h1.3v1.3h-1.3zM438.85 498.85h1.3v1.3h-1.3zM430.85 499.85h3.3v1.3h-3.3zM436.85 499.85h1.3v1.3h-1.3zM452.85 499.85h1.3v1.3h-1.3zM455.85 499.85h1.3v1.3h-1.3zM466.85 499.85h1.3v1.3h-1.3zM468.85 499.85h1.3v1.3h-1.3zM477.85 499.85h1.3v1.3h-1.3zM430.85 500.85h4.3v1.3h-4.3zM436.85 500.85h1.3v1.3h-1.3zM439.85 500.85h1.3v1.3h-1.3zM450.85 500.85h1.3v1.3h-1.3zM454.85 500.85h1.3v1.3h-1.3zM459.85 500.85h3.3v1.3h-3.3zM464.85 500.85h1.3v1.3h-1.3zM469.85 500.85h1.3v1.3h-1.3zM430.85 501.85h4.3v1.3h-4.3zM435.85 501.85h2.3v1.3h-2.3zM443.85 501.85h1.3v1.3h-1.3zM447.85 501.85h1.3v1.3h-1.3zM452.85 501.85h4.3v1.3h-4.3zM457.85 501.85h3.3v1.3h-3.3zM465.85 501.85h2.3v1.3h-2.3zM471.85 501.85h1.3v1.3h-1.3zM430.85 502.85h4.3v1.3h-4.3zM436.85 502.85h1.3v1.3h-1.3zM439.85 502.85h1.3v1.3h-1.3zM443.85 502.85h1.3v1.3h-1.3zM447.85 502.85h1.3v1.3h-1.3zM452.85 502.85h1.3v1.3h-1.3zM456.85 502.85h1.3v1.3h-1.3zM459.85 502.85h1.3v1.3h-1.3zM465.85 502.85h1.3v1.3h-1.3zM467.85 502.85h4.3v1.3h-4.3zM473.85 502.85h1.3v1.3h-1.3zM477.85 502.85h1.3v1.3h-1.3zM483.85 502.85h1.3v1.3h-1.3zM430.85 503.85h4.3v1.3h-4.3zM435.85 503.85h1.3v1.3h-1.3zM445.85 503.85h4.3v1.3h-4.3zM452.85 503.85h1.3v1.3h-1.3zM455.85 503.85h6.3v1.3h-6.3zM463.85 503.85h2.3v1.3h-2.3zM477.85 503.85h1.3v1.3h-1.3zM430.85 504.85h7.3v1.3h-7.3zM440.85 504.85h1.3v1.3h-1.3zM442.85 504.85h2.3v1.3h-2.3zM446.85 504.85h1.3v1.3h-1.3zM449.85 504.85h5.3v1.3h-5.3zM455.85 504.85h1.3v1.3h-1.3zM458.85 504.85h3.3v1.3h-3.3zM463.85 504.85h1.3v1.3h-1.3zM465.85 504.85h1.3v1.3h-1.3zM468.85 504.85h1.3v1.3h-1.3zM473.85 504.85h1.3v1.3h-1.3zM475.85 504.85h1.3v1.3h-1.3zM430.85 505.85h4.3v1.3h-4.3zM437.85 505.85h3.3v1.3h-3.3zM444.85 505.85h3.3v1.3h-3.3zM449.85 505.85h19.3v1.3h-19.3zM469.85 505.85h7.3v1.3h-7.3zM478.85 505.85h1.3v1.3h-1.3zM430.85 506.85h8.3v1.3h-8.3zM441.85 506.85h30.3v1.3h-30.3zM472.85 506.85h2.3v1.3h-2.3zM479.85 506.85h1.3v1.3h-1.3zM430.85 507.85h39.3v1.3h-39.3zM470.85 507.85h3.3v1.3h-3.3zM474.85 507.85h3.3v1.3h-3.3zM430.85 508.85h40.3v1.3h-40.3zM472.85 508.85h3.3v1.3h-3.3zM476.85 508.85h1.3v1.3h-1.3zM479.85 508.85h1.3v1.3h-1.3zM484.85 508.85h1.3v1.3h-1.3zM430.85 509.85h47.3v1.3h-47.3zM430.85 510.85h9.3v1.3h-9.3zM440.85 510.85h38.3v1.3h-38.3zM485.85 510.85h1.3v1.3h-1.3zM430.85 511.85h23.3v1.3h-23.3zM454.85 511.85h24.3v1.3h-24.3zM430.85 512.85h47.3v1.3h-47.3zM430.85 513.85h47.3v1.3h-47.3zM479.85 513.85h1.3v1.3h-1.3zM483.85 513.85h1.3v1.3h-1.3zM430.85 514.85h42.3v1.3h-42.3zM474.85 514.85h1.3v1.3h-1.3zM477.85 514.85h1.3v1.3h-1.3zM480.85 514.85h2.3v1.3h-2.3zM430.85 515.85h45.3v1.3h-45.3zM476.85 515.85h2.3v1.3h-2.3zM485.85 515.85h1.3v1.3h-1.3zM430.85 516.85h9.3v1.3h-9.3zM440.85 516.85h37.3v1.3h-37.3zM478.85 516.85h2.3v1.3h-2.3zM482.85 516.85h1.3v1.3h-1.3zM484.85 516.85h1.3v1.3h-1.3zM430.85 517.85h21.3v1.3h-21.3zM452.85 517.85h10.3v1.3h-10.3zM463.85 517.85h15.3v1.3h-15.3zM479.85 517.85h1.3v1.3h-1.3zM430.85 518.85h5.3v1.3h-5.3zM436.85 518.85h13.3v1.3h-13.3zM450.85 518.85h28.3v1.3h-28.3zM479.85 518.85h1.3v1.3h-1.3zM430.85 519.85h49.3v1.3h-49.3zM430.85 520.85h40.3v1.3h-40.3zM471.85 520.85h5.3v1.3h-5.3zM477.85 520.85h3.3v1.3h-3.3zM430.85 521.85h49.3v1.3h-49.3zM480.85 521.85h2.3v1.3h-2.3zM483.85 521.85h1.3v1.3h-1.3zM485.85 521.85h1.3v1.3h-1.3zM430.85 522.85h49.3v1.3h-49.3zM484.85 522.85h1.3v1.3h-1.3zM430.85 523.85h43.3v1.3h-43.3zM474.85 523.85h4.3v1.3h-4.3zM484.85 523.85h1.3v1.3h-1.3zM430.85 524.85h26.3v1.3h-26.3zM457.85 524.85h22.3v1.3h-22.3zM481.85 524.85h1.3v1.3h-1.3zM487.85 524.85h1.3v1.3h-1.3zM430.85 525.85h43.3v1.3h-43.3zM474.85 525.85h5.3v1.3h-5.3zM481.85 525.85h1.3v1.3h-1.3zM483.85 525.85h1.3v1.3h-1.3zM486.85 525.85h1.3v1.3h-1.3zM430.85 526.85h25.3v1.3h-25.3zM456.85 526.85h20.3v1.3h-20.3zM478.85 526.85h1.3v1.3h-1.3zM430.85 527.85h26.3v1.3h-26.3zM457.85 527.85h20.3v1.3h-20.3zM478.85 527.85h2.3v1.3h-2.3zM481.85 527.85h1.3v1.3h-1.3zM483.85 527.85h2.3v1.3h-2.3zM430.85 528.85h49.3v1.3h-49.3zM480.85 528.85h1.3v1.3h-1.3zM483.85 528.85h1.3v1.3h-1.3zM430.85 529.85h7.3v1.3h-7.3zM438.85 529.85h31.3v1.3h-31.3zM470.85 529.85h4.3v1.3h-4.3zM476.85 529.85h5.3v1.3h-5.3zM430.85 530.85h49.3v1.3h-49.3zM430.85 531.85h42.3v1.3h-42.3zM473.85 531.85h2.3v1.3h-2.3zM476.85 531.85h4.3v1.3h-4.3zM430.85 532.85h10.3v1.3h-10.3zM441.85 532.85h19.3v1.3h-19.3zM461.85 532.85h17.3v1.3h-17.3zM479.85 532.85h2.3v1.3h-2.3zM430.85 533.85h44.3v1.3h-44.3zM475.85 533.85h4.3v1.3h-4.3zM480.85 533.85h1.3v1.3h-1.3zM488.85 533.85h1.3v1.3h-1.3zM430.85 534.85h48.3v1.3h-48.3zM481.85 534.85h2.3v1.3h-2.3zM430.85 535.85h20.3v1.3h-20.3zM451.85 535.85h19.3v1.3h-19.3zM471.85 535.85h1.3v1.3h-1.3zM473.85 535.85h2.3v1.3h-2.3zM476.85 535.85h4.3v1.3h-4.3zM482.85 535.85h1.3v1.3h-1.3zM486.85 535.85h1.3v1.3h-1.3zM430.85 536.85h15.3v1.3h-15.3zM446.85 536.85h34.3v1.3h-34.3zM482.85 536.85h1.3v1.3h-1.3zM430.85 537.85h44.3v1.3h-44.3zM475.85 537.85h3.3v1.3h-3.3zM430.85 538.85h31.3v1.3h-31.3zM462.85 538.85h10.3v1.3h-10.3zM473.85 538.85h8.3v1.3h-8.3zM430.85 539.85h6.3v1.3h-6.3zM437.85 539.85h1.3v1.3h-1.3zM439.85 539.85h2.3v1.3h-2.3zM442.85 539.85h38.3v1.3h-38.3zM487.85 539.85h1.3v1.3h-1.3zM430.85 540.85h4.3v1.3h-4.3zM435.85 540.85h3.3v1.3h-3.3zM439.85 540.85h3.3v1.3h-3.3zM443.85 540.85h35.3v1.3h-35.3zM430.85 541.85h23.3v1.3h-23.3zM454.85 541.85h3.3v1.3h-3.3zM458.85 541.85h11.3v1.3h-11.3zM470.85 541.85h8.3v1.3h-8.3zM481.85 541.85h2.3v1.3h-2.3zM430.85 542.85h8.3v1.3h-8.3zM439.85 542.85h32.3v1.3h-32.3zM472.85 542.85h3.3v1.3h-3.3zM476.85 542.85h1.3v1.3h-1.3zM478.85 542.85h1.3v1.3h-1.3zM481.85 542.85h1.3v1.3h-1.3zM487.85 542.85h1.3v1.3h-1.3zM430.85 543.85h3.3v1.3h-3.3zM436.85 543.85h2.3v1.3h-2.3zM439.85 543.85h5.3v1.3h-5.3zM445.85 543.85h16.3v1.3h-16.3zM462.85 543.85h7.3v1.3h-7.3zM470.85 543.85h8.3v1.3h-8.3zM483.85 543.85h1.3v1.3h-1.3zM430.85 544.85h24.3v1.3h-24.3zM455.85 544.85h21.3v1.3h-21.3zM477.85 544.85h2.3v1.3h-2.3zM485.85 544.85h1.3v1.3h-1.3zM489.85 544.85h1.3v1.3h-1.3zM492.85 544.85h1.3v1.3h-1.3zM430.85 545.85h2.3v1.3h-2.3zM433.85 545.85h3.3v1.3h-3.3zM437.85 545.85h1.3v1.3h-1.3zM439.85 545.85h30.3v1.3h-30.3zM470.85 545.85h10.3v1.3h-10.3zM484.85 545.85h1.3v1.3h-1.3zM430.85 546.85h1.3v1.3h-1.3zM432.85 546.85h2.3v1.3h-2.3zM436.85 546.85h1.3v1.3h-1.3zM438.85 546.85h2.3v1.3h-2.3zM441.85 546.85h1.3v1.3h-1.3zM443.85 546.85h1.3v1.3h-1.3zM445.85 546.85h17.3v1.3h-17.3zM463.85 546.85h10.3v1.3h-10.3zM475.85 546.85h3.3v1.3h-3.3zM480.85 546.85h1.3v1.3h-1.3zM430.85 547.85h4.3v1.3h-4.3zM435.85 547.85h6.3v1.3h-6.3zM442.85 547.85h35.3v1.3h-35.3zM478.85 547.85h2.3v1.3h-2.3zM430.85 548.85h7.3v1.3h-7.3zM438.85 548.85h1.3v1.3h-1.3zM440.85 548.85h39.3v1.3h-39.3zM480.85 548.85h1.3v1.3h-1.3zM483.85 548.85h1.3v1.3h-1.3zM486.85 548.85h1.3v1.3h-1.3zM430.85 549.85h5.3v1.3h-5.3zM436.85 549.85h5.3v1.3h-5.3zM442.85 549.85h31.3v1.3h-31.3zM474.85 549.85h5.3v1.3h-5.3zM480.85 549.85h1.3v1.3h-1.3zM483.85 549.85h2.3v1.3h-2.3zM430.85 550.85h3.3v1.3h-3.3zM434.85 550.85h2.3v1.3h-2.3zM437.85 550.85h5.3v1.3h-5.3zM443.85 550.85h35.3v1.3h-35.3zM479.85 550.85h2.3v1.3h-2.3zM489.85 550.85h1.3v1.3h-1.3zM430.85 551.85h10.3v1.3h-10.3zM442.85 551.85h1.3v1.3h-1.3zM445.85 551.85h29.3v1.3h-29.3zM475.85 551.85h1.3v1.3h-1.3zM478.85 551.85h3.3v1.3h-3.3zM431.85 552.85h8.3v1.3h-8.3zM440.85 552.85h39.3v1.3h-39.3zM481.85 552.85h1.3v1.3h-1.3zM483.85 552.85h1.3v1.3h-1.3zM486.85 552.85h1.3v1.3h-1.3zM430.85 553.85h9.3v1.3h-9.3zM440.85 553.85h2.3v1.3h-2.3zM443.85 553.85h1.3v1.3h-1.3zM445.85 553.85h16.3v1.3h-16.3zM462.85 553.85h15.3v1.3h-15.3zM478.85 553.85h1.3v1.3h-1.3zM481.85 553.85h1.3v1.3h-1.3zM486.85 553.85h1.3v1.3h-1.3zM430.85 554.85h4.3v1.3h-4.3zM435.85 554.85h1.3v1.3h-1.3zM437.85 554.85h1.3v1.3h-1.3zM439.85 554.85h2.3v1.3h-2.3zM442.85 554.85h2.3v1.3h-2.3zM445.85 554.85h5.3v1.3h-5.3zM451.85 554.85h22.3v1.3h-22.3zM474.85 554.85h6.3v1.3h-6.3zM481.85 554.85h1.3v1.3h-1.3zM430.85 555.85h1.3v1.3h-1.3zM433.85 555.85h7.3v1.3h-7.3zM442.85 555.85h2.3v1.3h-2.3zM445.85 555.85h29.3v1.3h-29.3zM476.85 555.85h4.3v1.3h-4.3zM430.85 556.85h5.3v1.3h-5.3zM436.85 556.85h2.3v1.3h-2.3zM440.85 556.85h13.3v1.3h-13.3zM454.85 556.85h25.3v1.3h-25.3zM481.85 556.85h1.3v1.3h-1.3zM483.85 556.85h2.3v1.3h-2.3zM430.85 557.85h5.3v1.3h-5.3zM436.85 557.85h7.3v1.3h-7.3zM444.85 557.85h27.3v1.3h-27.3zM472.85 557.85h6.3v1.3h-6.3zM430.85 558.85h2.3v1.3h-2.3zM433.85 558.85h4.3v1.3h-4.3zM438.85 558.85h6.3v1.3h-6.3zM445.85 558.85h34.3v1.3h-34.3zM430.85 559.85h3.3v1.3h-3.3zM434.85 559.85h45.3v1.3h-45.3zM480.85 559.85h1.3v1.3h-1.3zM482.85 559.85h1.3v1.3h-1.3z" fill="#000"/>
<path d="M501.3 496h1v1h-1zM493.7 512h1v1h-1zM497.9 520.5h1v1h-1zM493.7 524.8h1v1h-1zM494.5 526.5h1v1h-1zM484.4 499.4h1v1h-1zM487.8 507h1v1h-1zM497 545h1v1h-1zM493.7 551h1v1h-1zM487 540.8h1v1h-1zM486 520h1v1h-1zM488 530h1v1h-1zM489 515h1v1h-1zM485 535h1v1h-1z" fill="#000"/>
<path d="M430.6 480.1V561.3H508.9" fill="none" stroke="#000" stroke-width="1.5"/>
<path d="M428.4 555.19H430.6M436.49 561.3V563.9M428.4 551.61H430.6M439.94 561.3V563.9M428.4 549.08H430.6M442.39 561.3V563.9M428.4 547.11H430.6M444.28 561.3V563.9M428.4 545.5H430.6M445.83 561.3V563.9M428.4 544.14H430.6M447.14 561.3V563.9M428.4 542.97H430.6M448.28 561.3V563.9M428.4 541.93H430.6M449.28 561.3V563.9M427.8 541H433.8M450.18 558.1V561.8M428.4 534.89H430.6M456.07 561.3V563.9M428.4 531.31H430.6M459.51 561.3V563.9M428.4 528.78H430.6M461.96 561.3V563.9M428.4 526.81H430.6M463.86 561.3V563.9M428.4 525.2H430.6M465.41 561.3V563.9M428.4 523.84H430.6M466.72 561.3V563.9M428.4 522.67H430.6M467.85 561.3V563.9M428.4 521.63H430.6M468.85 561.3V563.9M427.8 520.7H433.8M469.75 558.1V561.8M428.4 514.59H430.6M475.64 561.3V563.9M428.4 511.01H430.6M479.09 561.3V563.9M428.4 508.48H430.6M481.54 561.3V563.9M428.4 506.51H430.6M483.43 561.3V563.9M428.4 504.9H430.6M484.98 561.3V563.9M428.4 503.54H430.6M486.29 561.3V563.9M428.4 502.37H430.6M487.43 561.3V563.9M428.4 501.33H430.6M488.43 561.3V563.9M427.8 500.4H433.8M489.32 558.1V561.8M428.4 494.29H430.6M495.22 561.3V563.9M428.4 490.71H430.6M498.66 561.3V563.9M428.4 488.18H430.6M501.11 561.3V563.9M428.4 486.21H430.6M503.01 561.3V563.9M428.4 484.6H430.6M504.56 561.3V563.9M428.4 483.24H430.6M505.87 561.3V563.9M428.4 482.07H430.6M507 561.3V563.9M428.4 481.03H430.6M508 561.3V563.9M427.8 480.1H433.8" stroke="#000" stroke-width="1.05"/>
<path d="M508.6 558.1V564.3" stroke="#000" stroke-width="1.7"/>
<path d="M447.2 480.1L447.2 561.3" stroke="#000" stroke-width="1"/>
<path d="M480 533.8L508.9 533.8" stroke="#000" stroke-width="1"/>
<text x="456.97" y="476.8" font-size="10.47" font-weight="bold" textLength="25.49" lengthAdjust="spacingAndGlyphs">NB-4</text>
<text x="454.15" y="594" font-size="12.6" font-weight="bold" textLength="31.29" lengthAdjust="spacingAndGlyphs">CD 52</text>
<text transform="translate(410 539.5) rotate(-90)" font-size="12.14" font-weight="bold" textLength="41.8" lengthAdjust="spacingAndGlyphs">CD 11b</text>
<text x="410.41" y="544.8" font-size="10.6" font-weight="normal" textLength="11.49" lengthAdjust="spacingAndGlyphs">10</text>
<text x="421.84" y="539.8" font-size="7.41" font-weight="normal" textLength="4.12" lengthAdjust="spacingAndGlyphs">1</text>
<text x="410.41" y="524.5" font-size="10.6" font-weight="normal" textLength="11.49" lengthAdjust="spacingAndGlyphs">10</text>
<text x="422.03" y="519.5" font-size="7.3" font-weight="normal" textLength="4.06" lengthAdjust="spacingAndGlyphs">2</text>
<text x="410.41" y="504.2" font-size="10.6" font-weight="normal" textLength="11.49" lengthAdjust="spacingAndGlyphs">10</text>
<text x="422.12" y="499.2" font-size="7.3" font-weight="normal" textLength="4.06" lengthAdjust="spacingAndGlyphs">3</text>
<text x="410.41" y="483.9" font-size="10.6" font-weight="normal" textLength="11.49" lengthAdjust="spacingAndGlyphs">10</text>
<text x="422.23" y="478.9" font-size="7.41" font-weight="normal" textLength="4.12" lengthAdjust="spacingAndGlyphs">4</text>
<text x="426.21" y="575.5" font-size="10.88" font-weight="normal" textLength="11.6" lengthAdjust="spacingAndGlyphs">10</text>
<text x="438.83" y="569.7" font-size="6.87" font-weight="normal" textLength="3.82" lengthAdjust="spacingAndGlyphs">0</text>
<text x="445.78" y="575.5" font-size="10.88" font-weight="normal" textLength="11.6" lengthAdjust="spacingAndGlyphs">10</text>
<text x="458.14" y="569.7" font-size="6.98" font-weight="normal" textLength="3.88" lengthAdjust="spacingAndGlyphs">1</text>
<text x="465.36" y="575.5" font-size="10.88" font-weight="normal" textLength="11.6" lengthAdjust="spacingAndGlyphs">10</text>
<text x="477.9" y="569.7" font-size="6.87" font-weight="normal" textLength="3.82" lengthAdjust="spacingAndGlyphs">2</text>
<text x="484.93" y="575.5" font-size="10.88" font-weight="normal" textLength="11.6" lengthAdjust="spacingAndGlyphs">10</text>
<text x="497.56" y="569.7" font-size="6.87" font-weight="normal" textLength="3.82" lengthAdjust="spacingAndGlyphs">3</text>
<text x="504.51" y="575.5" font-size="10.88" font-weight="normal" textLength="11.6" lengthAdjust="spacingAndGlyphs">10</text>
<text x="517.24" y="569.7" font-size="6.98" font-weight="normal" textLength="3.88" lengthAdjust="spacingAndGlyphs">4</text>
<text transform="translate(14.3 451.05) rotate(-90)" font-size="16.13" font-weight="bold" textLength="68.66" lengthAdjust="spacingAndGlyphs">No ATRA</text>
<text transform="translate(14.3 580.15) rotate(-90)" font-size="15.87" font-weight="bold" textLength="80.67" lengthAdjust="spacingAndGlyphs">96 h ATRA</text>
</svg>
</body></html>
